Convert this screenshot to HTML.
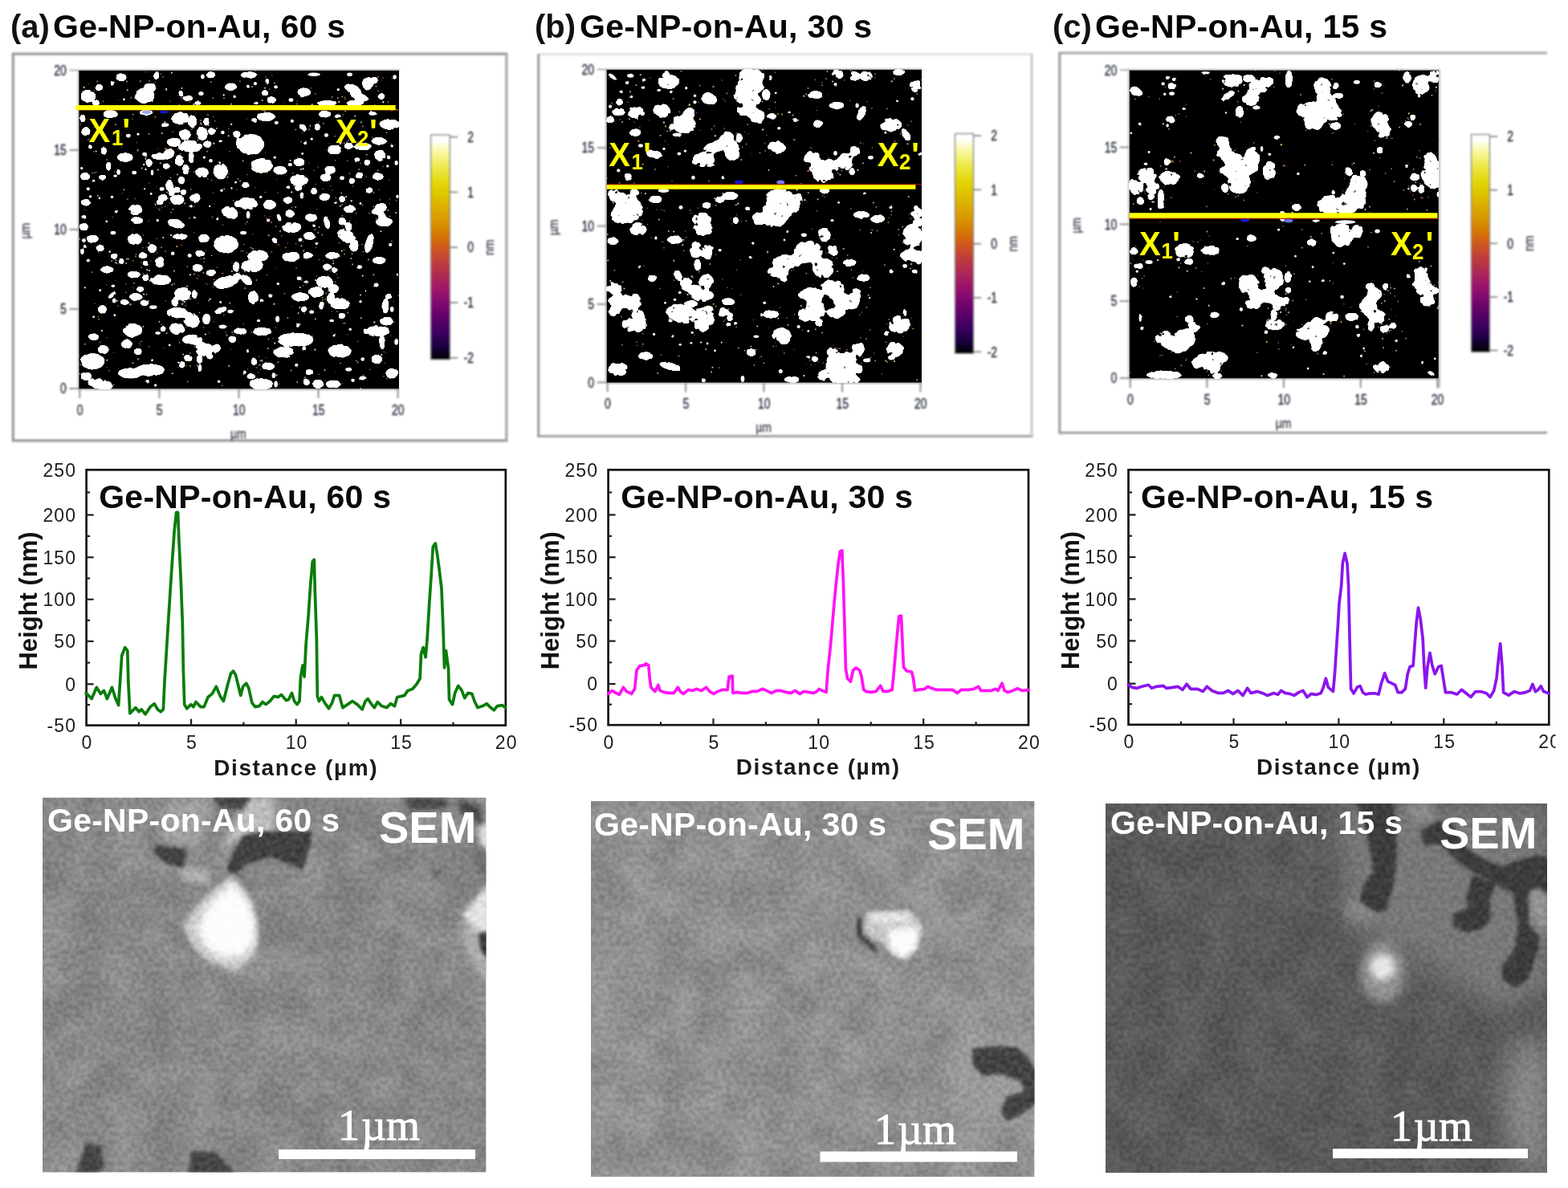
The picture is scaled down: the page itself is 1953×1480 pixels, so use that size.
<!DOCTYPE html>
<html lang="en"><head><meta charset="utf-8"><title>Ge-NP-on-Au</title>
<style>html,body{margin:0;padding:0;background:#fff;}body{width:1953px;height:1480px;overflow:hidden;}svg{display:block;position:absolute;left:0;top:0;}</style></head><body>
<svg width="1953" height="1480" viewBox="0 0 1953 1480">
<defs>
<filter id="soft" color-interpolation-filters="sRGB" filterUnits="userSpaceOnUse" x="0" y="0" width="1953" height="1480"><feGaussianBlur stdDeviation="0.6"/></filter>
<filter id="soft3" color-interpolation-filters="sRGB" filterUnits="userSpaceOnUse" x="0" y="0" width="1953" height="1480"><feGaussianBlur stdDeviation="0.6"/></filter>
<filter id="soft2" color-interpolation-filters="sRGB" filterUnits="userSpaceOnUse" x="0" y="0" width="1953" height="600"><feGaussianBlur stdDeviation="1.05"/></filter>
<linearGradient id="cbar" x1="0" y1="0" x2="0" y2="1"><stop offset="0.0" stop-color="#ffffff"/><stop offset="0.025" stop-color="#ffffff"/><stop offset="0.07" stop-color="#fafaae"/><stop offset="0.14" stop-color="#eeea50"/><stop offset="0.21" stop-color="#e4d80c"/><stop offset="0.25" stop-color="#e0cc00"/><stop offset="0.32" stop-color="#dcb000"/><stop offset="0.4" stop-color="#d89000"/><stop offset="0.46" stop-color="#d47008"/><stop offset="0.5" stop-color="#d05a1c"/><stop offset="0.56" stop-color="#c04038"/><stop offset="0.62" stop-color="#b02c50"/><stop offset="0.68" stop-color="#a01868"/><stop offset="0.75" stop-color="#800870"/><stop offset="0.82" stop-color="#5c0068"/><stop offset="0.88" stop-color="#3c0060"/><stop offset="0.94" stop-color="#1c0040"/><stop offset="1.0" stop-color="#000000"/></linearGradient>
<clipPath id="clip_a"><rect x="98.4" y="87.8" width="398.6" height="396.5"/></clipPath>
<clipPath id="clip_b"><rect x="755.7" y="86.8" width="392.3" height="389.8"/></clipPath>
<clipPath id="clip_c"><rect x="1406.8" y="87.6" width="385.0" height="383.7"/></clipPath>
<clipPath id="clip_pc"><rect x="0" y="0" width="1937.6" height="1480"/></clipPath>
<clipPath id="clip_sa"><rect x="53" y="993.5" width="552.5" height="467.0"/></clipPath>
<clipPath id="clip_sb"><rect x="736" y="998" width="552.5" height="468"/></clipPath>
<clipPath id="clip_sc"><rect x="1377" y="1001" width="550" height="460"/></clipPath>
<filter id="blobm_a" x="-2%" y="-2%" width="104%" height="104%" color-interpolation-filters="sRGB"><feGaussianBlur in="SourceGraphic" stdDeviation="1.2" result="b"/><feTurbulence type="fractalNoise" baseFrequency="0.2" numOctaves="2" seed="4" result="n0"/><feComponentTransfer in="n0" result="n"><feFuncA type="linear" slope="1.8" intercept="-0.4"/></feComponentTransfer><feComposite in="b" in2="n" operator="arithmetic" k1="0.9" k2="0.65" k3="0" k4="0" result="c"/><feColorMatrix in="c" type="matrix" values="0 0 0 0 1  0 0 0 0 1  0 0 0 0 1  0 0 0 9 -4.00" result="t"/><feGaussianBlur in="t" stdDeviation="0.75"/></filter>
<filter id="blobl_a" x="-2%" y="-2%" width="104%" height="104%" color-interpolation-filters="sRGB"><feGaussianBlur in="SourceGraphic" stdDeviation="1.6" result="b"/><feTurbulence type="fractalNoise" baseFrequency="0.18" numOctaves="2" seed="14" result="n0"/><feComponentTransfer in="n0" result="n"><feFuncA type="linear" slope="1.8" intercept="-0.4"/></feComponentTransfer><feComposite in="b" in2="n" operator="arithmetic" k1="1.2" k2="0.55" k3="0" k4="0" result="c"/><feColorMatrix in="c" type="matrix" values="0 0 0 0 1  0 0 0 0 1  0 0 0 0 1  0 0 0 9 -4.00" result="t"/><feGaussianBlur in="t" stdDeviation="0.75"/></filter>
<filter id="blobm_b" x="-2%" y="-2%" width="104%" height="104%" color-interpolation-filters="sRGB"><feGaussianBlur in="SourceGraphic" stdDeviation="1.4" result="b"/><feTurbulence type="fractalNoise" baseFrequency="0.2" numOctaves="2" seed="5" result="n0"/><feComponentTransfer in="n0" result="n"><feFuncA type="linear" slope="1.8" intercept="-0.4"/></feComponentTransfer><feComposite in="b" in2="n" operator="arithmetic" k1="0.9" k2="0.65" k3="0" k4="0" result="c"/><feColorMatrix in="c" type="matrix" values="0 0 0 0 1  0 0 0 0 1  0 0 0 0 1  0 0 0 9 -4.00" result="t"/><feGaussianBlur in="t" stdDeviation="0.75"/></filter>
<filter id="blobl_b" x="-2%" y="-2%" width="104%" height="104%" color-interpolation-filters="sRGB"><feGaussianBlur in="SourceGraphic" stdDeviation="2.8" result="b"/><feTurbulence type="fractalNoise" baseFrequency="0.14" numOctaves="2" seed="15" result="n0"/><feComponentTransfer in="n0" result="n"><feFuncA type="linear" slope="1.8" intercept="-0.4"/></feComponentTransfer><feComposite in="b" in2="n" operator="arithmetic" k1="1.5" k2="0.5" k3="0" k4="0" result="c"/><feColorMatrix in="c" type="matrix" values="0 0 0 0 1  0 0 0 0 1  0 0 0 0 1  0 0 0 9 -4.00" result="t"/><feGaussianBlur in="t" stdDeviation="0.75"/></filter>
<filter id="blobm_c" x="-2%" y="-2%" width="104%" height="104%" color-interpolation-filters="sRGB"><feGaussianBlur in="SourceGraphic" stdDeviation="1.4" result="b"/><feTurbulence type="fractalNoise" baseFrequency="0.2" numOctaves="2" seed="6" result="n0"/><feComponentTransfer in="n0" result="n"><feFuncA type="linear" slope="1.8" intercept="-0.4"/></feComponentTransfer><feComposite in="b" in2="n" operator="arithmetic" k1="0.9" k2="0.65" k3="0" k4="0" result="c"/><feColorMatrix in="c" type="matrix" values="0 0 0 0 1  0 0 0 0 1  0 0 0 0 1  0 0 0 9 -4.00" result="t"/><feGaussianBlur in="t" stdDeviation="0.75"/></filter>
<filter id="blobl_c" x="-2%" y="-2%" width="104%" height="104%" color-interpolation-filters="sRGB"><feGaussianBlur in="SourceGraphic" stdDeviation="2.8" result="b"/><feTurbulence type="fractalNoise" baseFrequency="0.14" numOctaves="2" seed="16" result="n0"/><feComponentTransfer in="n0" result="n"><feFuncA type="linear" slope="1.8" intercept="-0.4"/></feComponentTransfer><feComposite in="b" in2="n" operator="arithmetic" k1="1.5" k2="0.5" k3="0" k4="0" result="c"/><feColorMatrix in="c" type="matrix" values="0 0 0 0 1  0 0 0 0 1  0 0 0 0 1  0 0 0 9 -4.00" result="t"/><feGaussianBlur in="t" stdDeviation="0.75"/></filter>
<filter id="blobs" x="-2%" y="-2%" width="104%" height="104%" color-interpolation-filters="sRGB"><feTurbulence type="fractalNoise" baseFrequency="0.2" numOctaves="1" seed="9" result="n"/><feDisplacementMap in="SourceGraphic" in2="n" scale="2.5" xChannelSelector="R" yChannelSelector="G" result="d"/><feGaussianBlur in="d" stdDeviation="0.7"/></filter><filter id="spk" x="-2%" y="-2%" width="104%" height="104%" color-interpolation-filters="sRGB"><feGaussianBlur stdDeviation="0.6"/></filter>
<filter id="sb1" x="-50%" y="-50%" width="200%" height="200%" color-interpolation-filters="sRGB"><feGaussianBlur stdDeviation="1"/></filter>
<filter id="sb2" x="-50%" y="-50%" width="200%" height="200%" color-interpolation-filters="sRGB"><feGaussianBlur stdDeviation="2"/></filter>
<filter id="sb3" x="-50%" y="-50%" width="200%" height="200%" color-interpolation-filters="sRGB"><feGaussianBlur stdDeviation="3"/></filter>
<filter id="sb4" x="-50%" y="-50%" width="200%" height="200%" color-interpolation-filters="sRGB"><feGaussianBlur stdDeviation="4"/></filter>
<filter id="sb6" x="-50%" y="-50%" width="200%" height="200%" color-interpolation-filters="sRGB"><feGaussianBlur stdDeviation="6"/></filter>
<filter id="sb10" x="-50%" y="-50%" width="200%" height="200%" color-interpolation-filters="sRGB"><feGaussianBlur stdDeviation="10"/></filter>
<filter id="sb16" x="-50%" y="-50%" width="200%" height="200%" color-interpolation-filters="sRGB"><feGaussianBlur stdDeviation="16"/></filter>
<filter id="sb24" x="-50%" y="-50%" width="200%" height="200%" color-interpolation-filters="sRGB"><feGaussianBlur stdDeviation="24"/></filter>
<filter id="grain" x="0" y="0" width="100%" height="100%" color-interpolation-filters="sRGB"><feTurbulence type="fractalNoise" baseFrequency="0.19" numOctaves="2" seed="7" result="t"/><feColorMatrix in="t" type="matrix" values="2.6 0 0 0 -0.8  2.6 0 0 0 -0.8  2.6 0 0 0 -0.8  0 0 0 0 1"/><feGaussianBlur stdDeviation="0.9"/></filter>
<filter id="mottle" x="0" y="0" width="100%" height="100%" color-interpolation-filters="sRGB"><feTurbulence type="fractalNoise" baseFrequency="0.022" numOctaves="2" seed="3" result="t"/><feColorMatrix in="t" type="matrix" values="2.2 0 0 0 -0.6  2.2 0 0 0 -0.6  2.2 0 0 0 -0.6  0 0 0 0 1"/></filter>
</defs>
<rect x="0" y="0" width="1953" height="1480" fill="#fff"/>
<g filter="url(#soft)">
<text x="13" y="47" font-family='"Liberation Sans", Arial, Helvetica, sans-serif' font-weight="bold" font-size="40" fill="#111">(a)</text>
<text x="66" y="47" font-family='"Liberation Sans", Arial, Helvetica, sans-serif' font-weight="bold" font-size="41" letter-spacing="0.25" fill="#050505">Ge-NP-on-Au, 60 s</text>
<text x="666" y="47" font-family='"Liberation Sans", Arial, Helvetica, sans-serif' font-weight="bold" font-size="40" fill="#111">(b)</text>
<text x="722" y="47" font-family='"Liberation Sans", Arial, Helvetica, sans-serif' font-weight="bold" font-size="41" letter-spacing="0.25" fill="#050505">Ge-NP-on-Au, 30 s</text>
<text x="1311" y="47" font-family='"Liberation Sans", Arial, Helvetica, sans-serif' font-weight="bold" font-size="40" fill="#111">(c)</text>
<text x="1364" y="47" font-family='"Liberation Sans", Arial, Helvetica, sans-serif' font-weight="bold" font-size="41" letter-spacing="0.25" fill="#050505">Ge-NP-on-Au, 15 s</text>
<g>
<rect x="107.6" y="585.3" width="522.2" height="318.3" fill="#fff" stroke="#141414" stroke-width="2.7"/>
<line x1="107.6" y1="878.0" x2="112.1" y2="878.0" stroke="#1e1e1e" stroke-width="2.2"/>
<line x1="107.6" y1="852.3" x2="116.6" y2="852.3" stroke="#1e1e1e" stroke-width="2.2"/>
<line x1="107.6" y1="825.6" x2="112.1" y2="825.6" stroke="#1e1e1e" stroke-width="2.2"/>
<line x1="107.6" y1="798.9" x2="116.6" y2="798.9" stroke="#1e1e1e" stroke-width="2.2"/>
<line x1="107.6" y1="772.8" x2="112.1" y2="772.8" stroke="#1e1e1e" stroke-width="2.2"/>
<line x1="107.6" y1="746.7" x2="116.6" y2="746.7" stroke="#1e1e1e" stroke-width="2.2"/>
<line x1="107.6" y1="720.5" x2="112.1" y2="720.5" stroke="#1e1e1e" stroke-width="2.2"/>
<line x1="107.6" y1="694.3" x2="116.6" y2="694.3" stroke="#1e1e1e" stroke-width="2.2"/>
<line x1="107.6" y1="667.9" x2="112.1" y2="667.9" stroke="#1e1e1e" stroke-width="2.2"/>
<line x1="107.6" y1="641.5" x2="116.6" y2="641.5" stroke="#1e1e1e" stroke-width="2.2"/>
<line x1="107.6" y1="613.4" x2="112.1" y2="613.4" stroke="#1e1e1e" stroke-width="2.2"/>
<line x1="172.9" y1="903.6" x2="172.9" y2="899.6" stroke="#1e1e1e" stroke-width="2.2"/>
<line x1="238.1" y1="903.6" x2="238.1" y2="895.6" stroke="#1e1e1e" stroke-width="2.2"/>
<line x1="303.4" y1="903.6" x2="303.4" y2="899.6" stroke="#1e1e1e" stroke-width="2.2"/>
<line x1="368.7" y1="903.6" x2="368.7" y2="895.6" stroke="#1e1e1e" stroke-width="2.2"/>
<line x1="434.0" y1="903.6" x2="434.0" y2="899.6" stroke="#1e1e1e" stroke-width="2.2"/>
<line x1="499.2" y1="903.6" x2="499.2" y2="895.6" stroke="#1e1e1e" stroke-width="2.2"/>
<line x1="564.5" y1="903.6" x2="564.5" y2="899.6" stroke="#1e1e1e" stroke-width="2.2"/>
<text x="95.1" y="911.8" text-anchor="end" font-family='"Liberation Sans", Arial, Helvetica, sans-serif' font-size="23" letter-spacing="1.1" fill="#1c1c1c">-50</text>
<text x="95.1" y="860.5" text-anchor="end" font-family='"Liberation Sans", Arial, Helvetica, sans-serif' font-size="23" letter-spacing="1.1" fill="#1c1c1c">0</text>
<text x="95.1" y="807.1" text-anchor="end" font-family='"Liberation Sans", Arial, Helvetica, sans-serif' font-size="23" letter-spacing="1.1" fill="#1c1c1c">50</text>
<text x="95.1" y="754.9" text-anchor="end" font-family='"Liberation Sans", Arial, Helvetica, sans-serif' font-size="23" letter-spacing="1.1" fill="#1c1c1c">100</text>
<text x="95.1" y="702.5" text-anchor="end" font-family='"Liberation Sans", Arial, Helvetica, sans-serif' font-size="23" letter-spacing="1.1" fill="#1c1c1c">150</text>
<text x="95.1" y="649.7" text-anchor="end" font-family='"Liberation Sans", Arial, Helvetica, sans-serif' font-size="23" letter-spacing="1.1" fill="#1c1c1c">200</text>
<text x="95.1" y="593.5" text-anchor="end" font-family='"Liberation Sans", Arial, Helvetica, sans-serif' font-size="23" letter-spacing="1.1" fill="#1c1c1c">250</text>
<text x="108.5" y="933.1" text-anchor="middle" font-family='"Liberation Sans", Arial, Helvetica, sans-serif' font-size="23" letter-spacing="1.1" fill="#1c1c1c">0</text>
<text x="239.0" y="933.1" text-anchor="middle" font-family='"Liberation Sans", Arial, Helvetica, sans-serif' font-size="23" letter-spacing="1.1" fill="#1c1c1c">5</text>
<text x="369.6" y="933.1" text-anchor="middle" font-family='"Liberation Sans", Arial, Helvetica, sans-serif' font-size="23" letter-spacing="1.1" fill="#1c1c1c">10</text>
<text x="500.1" y="933.1" text-anchor="middle" font-family='"Liberation Sans", Arial, Helvetica, sans-serif' font-size="23" letter-spacing="1.1" fill="#1c1c1c">15</text>
<text x="630.7" y="933.1" text-anchor="middle" font-family='"Liberation Sans", Arial, Helvetica, sans-serif' font-size="23" letter-spacing="1.1" fill="#1c1c1c">20</text>
<text x="368.7" y="965.6" text-anchor="middle" font-family='"Liberation Sans", Arial, Helvetica, sans-serif' font-weight="bold" font-size="28" letter-spacing="1.6" fill="#1a1a1a">Distance (µm)</text>
<text transform="translate(45.6,748.5) rotate(-90)" text-anchor="middle" font-family='"Liberation Sans", Arial, Helvetica, sans-serif' font-weight="bold" font-size="31" fill="#111">Height (nm)</text>
<text x="123.2" y="632.6" font-family='"Liberation Sans", Arial, Helvetica, sans-serif' font-weight="bold" font-size="41" letter-spacing="0.25" fill="#0a0a0a">Ge-NP-on-Au, 60 s</text>
<path d="M107.1,863.4 L114.2,870.5 L120.3,856.3 L125.3,864.4 L129.4,860.4 L133.4,870.5 L139.5,856.3 L143.6,869.5 L147.6,878.6 L149.7,847.2 L151.7,816.8 L155.7,806.6 L158.8,810.7 L159.8,849.2 L161.8,888.7 L168.9,881.6 L173.0,886.7 L176.0,883.7 L181.1,889.7 L187.2,880.6 L192.2,876.6 L196.3,883.7 L200.3,886.7 L203.4,883.7 L205.0,849.2 L207.4,810.7 L209.5,776.2 L212.1,735.7 L214.5,699.2 L217.2,660.7 L219.6,638.4 L221.6,638.4 L223.0,674.9 L225.3,723.5 L227.3,776.2 L228.3,833.0 L229.7,877.6 L232.8,882.7 L237.8,877.6 L240.9,880.6 L243.9,874.5 L250.0,880.6 L254.1,880.6 L259.1,868.5 L264.2,864.4 L269.3,855.3 L274.3,867.4 L278.4,873.5 L283.5,853.3 L287.5,839.1 L290.6,836.0 L293.6,841.1 L296.6,853.3 L299.7,866.4 L302.7,855.3 L306.8,851.2 L309.8,857.3 L313.9,875.6 L317.9,880.6 L323.0,879.6 L327.0,874.5 L331.1,877.6 L336.2,873.5 L341.2,867.4 L346.3,868.5 L350.4,865.4 L356.4,872.5 L359.5,871.5 L363.5,863.4 L366.6,873.5 L370.0,877.6 L373.0,873.5 L374.5,843.1 L377.1,828.9 L379.1,843.1 L381.1,802.6 L384.2,766.1 L386.6,729.6 L389.3,699.2 L391.3,697.2 L392.3,735.7 L394.3,794.5 L395.3,867.4 L397.4,873.5 L400.4,868.5 L404.5,875.6 L409.5,882.7 L413.6,875.6 L416.6,866.4 L422.7,866.4 L426.8,881.6 L432.8,877.6 L438.9,873.5 L445.0,877.6 L451.1,883.7 L455.1,873.5 L458.2,870.5 L462.2,876.6 L466.3,881.6 L470.3,874.5 L475.4,879.6 L481.5,881.6 L486.6,876.6 L491.6,879.6 L494.7,868.5 L499.7,867.4 L503.8,866.4 L507.8,860.4 L513.9,858.3 L519.0,852.2 L523.1,845.2 L524.5,814.7 L527.1,806.6 L530.1,818.8 L532.2,794.5 L534.6,753.9 L537.2,715.4 L539.3,681.0 L542.3,676.9 L544.7,691.1 L547.4,711.4 L550.0,733.7 L552.0,784.3 L553.5,832.0 L555.5,810.7 L558.5,833.0 L559.5,871.5 L563.6,877.6 L566.6,863.4 L570.7,854.3 L574.7,859.3 L578.8,869.5 L582.9,863.4 L587.9,864.4 L591.0,873.5 L595.0,881.6 L601.1,879.6 L606.2,876.6 L610.2,880.6 L615.3,884.7 L619.3,879.6 L625.4,878.6 L629.5,881.6" fill="none" stroke="#0a7c0a" stroke-width="3.7" stroke-linejoin="round" stroke-linecap="round"/>
</g>
<g>
<rect x="757.6" y="585.3" width="523.4" height="317.9" fill="#fff" stroke="#141414" stroke-width="2.7"/>
<line x1="757.6" y1="877.6" x2="762.1" y2="877.6" stroke="#1e1e1e" stroke-width="2.2"/>
<line x1="757.6" y1="852.0" x2="766.6" y2="852.0" stroke="#1e1e1e" stroke-width="2.2"/>
<line x1="757.6" y1="825.3" x2="762.1" y2="825.3" stroke="#1e1e1e" stroke-width="2.2"/>
<line x1="757.6" y1="798.6" x2="766.6" y2="798.6" stroke="#1e1e1e" stroke-width="2.2"/>
<line x1="757.6" y1="772.6" x2="762.1" y2="772.6" stroke="#1e1e1e" stroke-width="2.2"/>
<line x1="757.6" y1="746.5" x2="766.6" y2="746.5" stroke="#1e1e1e" stroke-width="2.2"/>
<line x1="757.6" y1="720.3" x2="762.1" y2="720.3" stroke="#1e1e1e" stroke-width="2.2"/>
<line x1="757.6" y1="694.2" x2="766.6" y2="694.2" stroke="#1e1e1e" stroke-width="2.2"/>
<line x1="757.6" y1="667.8" x2="762.1" y2="667.8" stroke="#1e1e1e" stroke-width="2.2"/>
<line x1="757.6" y1="641.4" x2="766.6" y2="641.4" stroke="#1e1e1e" stroke-width="2.2"/>
<line x1="757.6" y1="613.4" x2="762.1" y2="613.4" stroke="#1e1e1e" stroke-width="2.2"/>
<line x1="823.0" y1="903.2" x2="823.0" y2="899.2" stroke="#1e1e1e" stroke-width="2.2"/>
<line x1="888.5" y1="903.2" x2="888.5" y2="895.2" stroke="#1e1e1e" stroke-width="2.2"/>
<line x1="953.9" y1="903.2" x2="953.9" y2="899.2" stroke="#1e1e1e" stroke-width="2.2"/>
<line x1="1019.3" y1="903.2" x2="1019.3" y2="895.2" stroke="#1e1e1e" stroke-width="2.2"/>
<line x1="1084.7" y1="903.2" x2="1084.7" y2="899.2" stroke="#1e1e1e" stroke-width="2.2"/>
<line x1="1150.2" y1="903.2" x2="1150.2" y2="895.2" stroke="#1e1e1e" stroke-width="2.2"/>
<line x1="1215.6" y1="903.2" x2="1215.6" y2="899.2" stroke="#1e1e1e" stroke-width="2.2"/>
<text x="745.1" y="911.4" text-anchor="end" font-family='"Liberation Sans", Arial, Helvetica, sans-serif' font-size="23" letter-spacing="1.1" fill="#1c1c1c">-50</text>
<text x="745.1" y="860.2" text-anchor="end" font-family='"Liberation Sans", Arial, Helvetica, sans-serif' font-size="23" letter-spacing="1.1" fill="#1c1c1c">0</text>
<text x="745.1" y="806.8" text-anchor="end" font-family='"Liberation Sans", Arial, Helvetica, sans-serif' font-size="23" letter-spacing="1.1" fill="#1c1c1c">50</text>
<text x="745.1" y="754.7" text-anchor="end" font-family='"Liberation Sans", Arial, Helvetica, sans-serif' font-size="23" letter-spacing="1.1" fill="#1c1c1c">100</text>
<text x="745.1" y="702.4" text-anchor="end" font-family='"Liberation Sans", Arial, Helvetica, sans-serif' font-size="23" letter-spacing="1.1" fill="#1c1c1c">150</text>
<text x="745.1" y="649.6" text-anchor="end" font-family='"Liberation Sans", Arial, Helvetica, sans-serif' font-size="23" letter-spacing="1.1" fill="#1c1c1c">200</text>
<text x="745.1" y="593.5" text-anchor="end" font-family='"Liberation Sans", Arial, Helvetica, sans-serif' font-size="23" letter-spacing="1.1" fill="#1c1c1c">250</text>
<text x="758.5" y="932.7" text-anchor="middle" font-family='"Liberation Sans", Arial, Helvetica, sans-serif' font-size="23" letter-spacing="1.1" fill="#1c1c1c">0</text>
<text x="889.4" y="932.7" text-anchor="middle" font-family='"Liberation Sans", Arial, Helvetica, sans-serif' font-size="23" letter-spacing="1.1" fill="#1c1c1c">5</text>
<text x="1020.2" y="932.7" text-anchor="middle" font-family='"Liberation Sans", Arial, Helvetica, sans-serif' font-size="23" letter-spacing="1.1" fill="#1c1c1c">10</text>
<text x="1151.1" y="932.7" text-anchor="middle" font-family='"Liberation Sans", Arial, Helvetica, sans-serif' font-size="23" letter-spacing="1.1" fill="#1c1c1c">15</text>
<text x="1281.9" y="932.7" text-anchor="middle" font-family='"Liberation Sans", Arial, Helvetica, sans-serif' font-size="23" letter-spacing="1.1" fill="#1c1c1c">20</text>
<text x="1019.3" y="965.2" text-anchor="middle" font-family='"Liberation Sans", Arial, Helvetica, sans-serif' font-weight="bold" font-size="28" letter-spacing="1.6" fill="#1a1a1a">Distance (µm)</text>
<text transform="translate(695.6,748.2) rotate(-90)" text-anchor="middle" font-family='"Liberation Sans", Arial, Helvetica, sans-serif' font-weight="bold" font-size="31" fill="#111">Height (nm)</text>
<text x="773.2" y="632.6" font-family='"Liberation Sans", Arial, Helvetica, sans-serif' font-weight="bold" font-size="41" letter-spacing="0.25" fill="#0a0a0a">Ge-NP-on-Au, 30 s</text>
<path d="M757.7,864.4 L762.2,860.4 L767.2,863.4 L771.3,865.4 L776.4,856.3 L780.4,861.4 L786.5,864.4 L790.5,858.3 L793.0,835.0 L796.6,829.9 L801.7,828.9 L804.7,826.9 L807.8,828.9 L809.2,845.2 L810.8,856.3 L815.9,861.4 L819.9,853.3 L822.0,860.4 L827.0,862.4 L833.1,863.4 L839.2,863.4 L844.3,856.3 L847.3,861.4 L851.4,864.4 L857.4,859.3 L862.5,860.4 L867.6,858.3 L873.7,860.4 L879.7,856.3 L883.8,861.4 L888.9,864.4 L893.9,861.4 L900.0,859.3 L906.1,859.3 L908.1,843.1 L912.2,842.1 L912.8,863.4 L918.3,862.4 L924.3,863.4 L930.4,863.4 L936.5,861.4 L942.6,861.4 L949.7,858.3 L954.7,860.4 L960.8,863.4 L966.9,860.4 L973.0,860.4 L979.1,862.4 L985.2,863.4 L990.2,860.4 L996.3,864.4 L1001.4,861.4 L1007.4,862.4 L1013.5,863.4 L1017.6,861.4 L1020.0,858.3 L1024.1,860.4 L1029.1,862.4 L1031.1,835.0 L1033.8,810.7 L1036.2,784.3 L1038.6,756.0 L1041.3,727.6 L1043.9,703.2 L1046.4,687.0 L1048.8,686.0 L1050.4,725.5 L1052.0,780.3 L1053.4,833.0 L1055.5,845.2 L1059.5,849.2 L1062.6,835.0 L1066.2,832.0 L1070.7,835.0 L1073.1,843.1 L1075.7,859.3 L1078.8,861.4 L1084.9,862.4 L1091.0,861.4 L1096.6,854.3 L1100.1,861.4 L1105.1,861.4 L1111.2,859.3 L1113.2,839.1 L1115.3,814.7 L1117.7,788.4 L1119.7,768.1 L1122.4,767.1 L1123.8,794.5 L1125.4,831.0 L1129.5,836.0 L1135.5,837.0 L1137.6,845.2 L1139.6,860.4 L1143.7,859.3 L1151.8,858.3 L1155.8,855.3 L1159.9,857.3 L1166.0,859.3 L1174.1,859.3 L1186.2,859.3 L1192.3,863.4 L1197.4,859.3 L1206.5,859.3 L1212.6,858.3 L1218.7,855.3 L1221.7,860.4 L1228.8,860.4 L1234.9,860.4 L1239.9,858.3 L1243.0,860.4 L1248.1,851.2 L1251.1,860.4 L1255.2,862.4 L1261.2,860.4 L1267.3,857.7 L1273.4,860.4 L1281.1,859.7" fill="none" stroke="#ff12f6" stroke-width="3.7" stroke-linejoin="round" stroke-linecap="round"/>
</g>
<g clip-path="url(#clip_pc)">
<rect x="1405.5" y="585.3" width="523.8" height="317.5" fill="#fff" stroke="#141414" stroke-width="2.7"/>
<line x1="1405.5" y1="877.2" x2="1410.0" y2="877.2" stroke="#1e1e1e" stroke-width="2.2"/>
<line x1="1405.5" y1="851.6" x2="1414.5" y2="851.6" stroke="#1e1e1e" stroke-width="2.2"/>
<line x1="1405.5" y1="825.0" x2="1410.0" y2="825.0" stroke="#1e1e1e" stroke-width="2.2"/>
<line x1="1405.5" y1="798.4" x2="1414.5" y2="798.4" stroke="#1e1e1e" stroke-width="2.2"/>
<line x1="1405.5" y1="772.3" x2="1410.0" y2="772.3" stroke="#1e1e1e" stroke-width="2.2"/>
<line x1="1405.5" y1="746.3" x2="1414.5" y2="746.3" stroke="#1e1e1e" stroke-width="2.2"/>
<line x1="1405.5" y1="720.2" x2="1410.0" y2="720.2" stroke="#1e1e1e" stroke-width="2.2"/>
<line x1="1405.5" y1="694.0" x2="1414.5" y2="694.0" stroke="#1e1e1e" stroke-width="2.2"/>
<line x1="1405.5" y1="667.7" x2="1410.0" y2="667.7" stroke="#1e1e1e" stroke-width="2.2"/>
<line x1="1405.5" y1="641.4" x2="1414.5" y2="641.4" stroke="#1e1e1e" stroke-width="2.2"/>
<line x1="1405.5" y1="613.3" x2="1410.0" y2="613.3" stroke="#1e1e1e" stroke-width="2.2"/>
<line x1="1471.0" y1="902.8" x2="1471.0" y2="898.8" stroke="#1e1e1e" stroke-width="2.2"/>
<line x1="1536.5" y1="902.8" x2="1536.5" y2="894.8" stroke="#1e1e1e" stroke-width="2.2"/>
<line x1="1601.9" y1="902.8" x2="1601.9" y2="898.8" stroke="#1e1e1e" stroke-width="2.2"/>
<line x1="1667.4" y1="902.8" x2="1667.4" y2="894.8" stroke="#1e1e1e" stroke-width="2.2"/>
<line x1="1732.9" y1="902.8" x2="1732.9" y2="898.8" stroke="#1e1e1e" stroke-width="2.2"/>
<line x1="1798.3" y1="902.8" x2="1798.3" y2="894.8" stroke="#1e1e1e" stroke-width="2.2"/>
<line x1="1863.8" y1="902.8" x2="1863.8" y2="898.8" stroke="#1e1e1e" stroke-width="2.2"/>
<text x="1393.0" y="911.0" text-anchor="end" font-family='"Liberation Sans", Arial, Helvetica, sans-serif' font-size="23" letter-spacing="1.1" fill="#1c1c1c">-50</text>
<text x="1393.0" y="859.8" text-anchor="end" font-family='"Liberation Sans", Arial, Helvetica, sans-serif' font-size="23" letter-spacing="1.1" fill="#1c1c1c">0</text>
<text x="1393.0" y="806.6" text-anchor="end" font-family='"Liberation Sans", Arial, Helvetica, sans-serif' font-size="23" letter-spacing="1.1" fill="#1c1c1c">50</text>
<text x="1393.0" y="754.5" text-anchor="end" font-family='"Liberation Sans", Arial, Helvetica, sans-serif' font-size="23" letter-spacing="1.1" fill="#1c1c1c">100</text>
<text x="1393.0" y="702.2" text-anchor="end" font-family='"Liberation Sans", Arial, Helvetica, sans-serif' font-size="23" letter-spacing="1.1" fill="#1c1c1c">150</text>
<text x="1393.0" y="649.6" text-anchor="end" font-family='"Liberation Sans", Arial, Helvetica, sans-serif' font-size="23" letter-spacing="1.1" fill="#1c1c1c">200</text>
<text x="1393.0" y="593.5" text-anchor="end" font-family='"Liberation Sans", Arial, Helvetica, sans-serif' font-size="23" letter-spacing="1.1" fill="#1c1c1c">250</text>
<text x="1406.4" y="932.3" text-anchor="middle" font-family='"Liberation Sans", Arial, Helvetica, sans-serif' font-size="23" letter-spacing="1.1" fill="#1c1c1c">0</text>
<text x="1537.4" y="932.3" text-anchor="middle" font-family='"Liberation Sans", Arial, Helvetica, sans-serif' font-size="23" letter-spacing="1.1" fill="#1c1c1c">5</text>
<text x="1668.3" y="932.3" text-anchor="middle" font-family='"Liberation Sans", Arial, Helvetica, sans-serif' font-size="23" letter-spacing="1.1" fill="#1c1c1c">10</text>
<text x="1799.2" y="932.3" text-anchor="middle" font-family='"Liberation Sans", Arial, Helvetica, sans-serif' font-size="23" letter-spacing="1.1" fill="#1c1c1c">15</text>
<text x="1930.2" y="932.3" text-anchor="middle" font-family='"Liberation Sans", Arial, Helvetica, sans-serif' font-size="23" letter-spacing="1.1" fill="#1c1c1c">20</text>
<text x="1667.4" y="964.8" text-anchor="middle" font-family='"Liberation Sans", Arial, Helvetica, sans-serif' font-weight="bold" font-size="28" letter-spacing="1.6" fill="#1a1a1a">Distance (µm)</text>
<text transform="translate(1343.5,748.0) rotate(-90)" text-anchor="middle" font-family='"Liberation Sans", Arial, Helvetica, sans-serif' font-weight="bold" font-size="31" fill="#111">Height (nm)</text>
<text x="1421.0" y="632.6" font-family='"Liberation Sans", Arial, Helvetica, sans-serif' font-weight="bold" font-size="41" letter-spacing="0.25" fill="#0a0a0a">Ge-NP-on-Au, 15 s</text>
<path d="M1405.7,853.3 L1410.1,856.3 L1416.2,857.3 L1422.3,855.3 L1430.4,853.3 L1434.5,857.3 L1440.5,855.3 L1448.7,854.3 L1452.7,857.3 L1460.8,856.3 L1466.9,855.3 L1473.0,859.3 L1478.0,852.2 L1483.1,858.3 L1491.2,858.3 L1498.3,861.4 L1503.4,855.3 L1509.5,860.4 L1517.6,863.4 L1523.7,863.4 L1529.7,860.4 L1535.8,864.4 L1541.9,860.4 L1548.0,866.4 L1553.7,857.3 L1558.1,863.4 L1566.2,861.4 L1572.3,863.4 L1578.4,866.4 L1586.5,863.4 L1591.6,865.4 L1595.6,860.4 L1600.7,863.4 L1606.8,864.4 L1611.8,866.4 L1617.9,862.4 L1623.0,860.4 L1628.1,868.5 L1633.1,864.4 L1639.2,865.4 L1645.3,863.4 L1648.3,856.3 L1651.4,845.2 L1654.4,856.3 L1660.5,861.4 L1662.5,839.1 L1664.5,808.7 L1666.6,776.2 L1668.0,751.9 L1670.7,729.5 L1672.3,701.9 L1675.1,689.3 L1678.0,701.9 L1679.6,729.5 L1681.0,793.8 L1682.6,858.1 L1686.1,863.8 L1690.7,855.8 L1694.1,854.7 L1697.6,862.7 L1701.0,865.0 L1706.8,863.8 L1712.5,863.8 L1717.1,865.0 L1720.5,851.2 L1724.7,838.6 L1728.6,848.9 L1733.2,851.2 L1737.8,853.5 L1741.2,862.7 L1745.8,862.7 L1750.4,858.1 L1753.2,839.7 L1756.1,830.5 L1760.1,829.4 L1761.9,805.3 L1764.2,775.4 L1766.5,757.0 L1769.2,770.8 L1772.2,796.1 L1773.8,830.5 L1775.7,857.0 L1778.0,830.5 L1781.0,813.3 L1783.7,828.2 L1787.2,839.7 L1791.8,830.5 L1795.2,829.4 L1797.5,844.3 L1800.5,862.7 L1807.8,862.7 L1814.7,865.0 L1820.5,859.3 L1826.2,863.8 L1832.0,868.4 L1837.7,861.6 L1844.6,861.6 L1851.5,863.8 L1856.1,868.4 L1860.7,860.4 L1864.1,844.3 L1866.4,821.3 L1868.7,801.8 L1871.0,830.5 L1872.6,862.7 L1879.1,866.1 L1885.9,861.6 L1892.8,863.8 L1899.7,862.7 L1905.5,860.4 L1908.9,852.4 L1912.4,861.6 L1915.8,859.3 L1919.3,854.7 L1922.7,861.6 L1929.1,863.8" fill="none" stroke="#8c14ee" stroke-width="3.7" stroke-linejoin="round" stroke-linecap="round"/>
</g>
</g>
<g filter="url(#soft2)">
<g stroke-width="3.2" fill="none">
<line x1="14.700000000000001" y1="67.2" x2="632.4" y2="67.2" stroke="#9a9a9a"/>
<line x1="14.700000000000001" y1="548.9" x2="632.4" y2="548.9" stroke="#9a9a9a"/>
<line x1="16.3" y1="67.2" x2="16.3" y2="548.9" stroke="#9a9a9a"/>
<line x1="630.8" y1="67.2" x2="630.8" y2="548.9" stroke="#a8a8a8"/>
</g>
<g>
<line x1="97.9" y1="484.9" x2="497.0" y2="484.9" stroke="#9a9a9a" stroke-width="1.8"/>
<line x1="97.8" y1="87.3" x2="97.8" y2="484.8" stroke="#9a9a9a" stroke-width="1.6"/>
<line x1="86.4" y1="87.4" x2="498.0" y2="87.4" stroke="#9a9a9a" stroke-width="1.5"/>
<line x1="99.3" y1="484.3" x2="99.3" y2="496.1" stroke="#7c7c7c" stroke-width="1.7"/>
<line x1="86.4" y1="484.1" x2="98.4" y2="484.1" stroke="#7c7c7c" stroke-width="1.7"/>
<line x1="198.4" y1="484.3" x2="198.4" y2="496.1" stroke="#7c7c7c" stroke-width="1.7"/>
<line x1="86.4" y1="385.0" x2="98.4" y2="385.0" stroke="#7c7c7c" stroke-width="1.7"/>
<line x1="297.4" y1="484.3" x2="297.4" y2="496.1" stroke="#7c7c7c" stroke-width="1.7"/>
<line x1="86.4" y1="286.0" x2="98.4" y2="286.0" stroke="#7c7c7c" stroke-width="1.7"/>
<line x1="396.5" y1="484.3" x2="396.5" y2="496.1" stroke="#7c7c7c" stroke-width="1.7"/>
<line x1="86.4" y1="186.9" x2="98.4" y2="186.9" stroke="#7c7c7c" stroke-width="1.7"/>
<line x1="495.5" y1="484.3" x2="495.5" y2="496.1" stroke="#7c7c7c" stroke-width="1.7"/>
</g>
<text transform="translate(99.6,516.7) scale(0.8,1)" text-anchor="middle" font-family='"Liberation Sans", Arial, Helvetica, sans-serif' font-size="17.5" fill="#232a3a" stroke="#232a3a" stroke-width="0.35">0</text>
<text transform="translate(82.8,490.3) scale(0.8,1)" text-anchor="end" font-family='"Liberation Sans", Arial, Helvetica, sans-serif' font-size="17.5" fill="#232a3a" stroke="#232a3a" stroke-width="0.35">0</text>
<text transform="translate(198.7,516.7) scale(0.8,1)" text-anchor="middle" font-family='"Liberation Sans", Arial, Helvetica, sans-serif' font-size="17.5" fill="#232a3a" stroke="#232a3a" stroke-width="0.35">5</text>
<text transform="translate(82.8,391.2) scale(0.8,1)" text-anchor="end" font-family='"Liberation Sans", Arial, Helvetica, sans-serif' font-size="17.5" fill="#232a3a" stroke="#232a3a" stroke-width="0.35">5</text>
<text transform="translate(297.7,516.7) scale(0.8,1)" text-anchor="middle" font-family='"Liberation Sans", Arial, Helvetica, sans-serif' font-size="17.5" fill="#232a3a" stroke="#232a3a" stroke-width="0.35">10</text>
<text transform="translate(82.8,292.2) scale(0.8,1)" text-anchor="end" font-family='"Liberation Sans", Arial, Helvetica, sans-serif' font-size="17.5" fill="#232a3a" stroke="#232a3a" stroke-width="0.35">10</text>
<text transform="translate(396.8,516.7) scale(0.8,1)" text-anchor="middle" font-family='"Liberation Sans", Arial, Helvetica, sans-serif' font-size="17.5" fill="#232a3a" stroke="#232a3a" stroke-width="0.35">15</text>
<text transform="translate(82.8,193.1) scale(0.8,1)" text-anchor="end" font-family='"Liberation Sans", Arial, Helvetica, sans-serif' font-size="17.5" fill="#232a3a" stroke="#232a3a" stroke-width="0.35">15</text>
<text transform="translate(495.8,516.7) scale(0.8,1)" text-anchor="middle" font-family='"Liberation Sans", Arial, Helvetica, sans-serif' font-size="17.5" fill="#232a3a" stroke="#232a3a" stroke-width="0.35">20</text>
<text transform="translate(82.8,94.0) scale(0.8,1)" text-anchor="end" font-family='"Liberation Sans", Arial, Helvetica, sans-serif' font-size="17.5" fill="#232a3a" stroke="#232a3a" stroke-width="0.35">20</text>
<text transform="translate(296.9,545.5) scale(0.85,1)" text-anchor="middle" font-family='"Liberation Sans", Arial, Helvetica, sans-serif' font-size="16.5" fill="#3c424e" stroke="#3c424e" stroke-width="0.35">µm</text>
<text transform="translate(37.4,287.6) rotate(-90) scale(0.85,1)" text-anchor="middle" font-family='"Liberation Sans", Arial, Helvetica, sans-serif' font-size="16.5" fill="#3c424e" stroke="#3c424e" stroke-width="0.35">µm</text>
<rect x="536.6" y="168.0" width="23.8" height="279.8" fill="url(#cbar)" stroke="#8c8c8c" stroke-width="1.4"/>
<line x1="560.4" y1="170.6" x2="570.2" y2="170.6" stroke="#7c7c7c" stroke-width="1.6"/>
<text transform="translate(590.0,176.8) scale(0.8,1)" text-anchor="end" font-family='"Liberation Sans", Arial, Helvetica, sans-serif' font-size="17.5" fill="#232a3a" stroke="#232a3a" stroke-width="0.35">2</text>
<line x1="560.4" y1="239.4" x2="570.2" y2="239.4" stroke="#7c7c7c" stroke-width="1.6"/>
<text transform="translate(590.0,245.6) scale(0.8,1)" text-anchor="end" font-family='"Liberation Sans", Arial, Helvetica, sans-serif' font-size="17.5" fill="#232a3a" stroke="#232a3a" stroke-width="0.35">1</text>
<line x1="560.4" y1="308.2" x2="570.2" y2="308.2" stroke="#7c7c7c" stroke-width="1.6"/>
<text transform="translate(590.0,314.4) scale(0.8,1)" text-anchor="end" font-family='"Liberation Sans", Arial, Helvetica, sans-serif' font-size="17.5" fill="#232a3a" stroke="#232a3a" stroke-width="0.35">0</text>
<line x1="560.4" y1="377.0" x2="570.2" y2="377.0" stroke="#7c7c7c" stroke-width="1.6"/>
<text transform="translate(590.0,383.2) scale(0.8,1)" text-anchor="end" font-family='"Liberation Sans", Arial, Helvetica, sans-serif' font-size="17.5" fill="#232a3a" stroke="#232a3a" stroke-width="0.35">-1</text>
<line x1="560.4" y1="445.8" x2="570.2" y2="445.8" stroke="#7c7c7c" stroke-width="1.6"/>
<text transform="translate(590.0,452.0) scale(0.8,1)" text-anchor="end" font-family='"Liberation Sans", Arial, Helvetica, sans-serif' font-size="17.5" fill="#232a3a" stroke="#232a3a" stroke-width="0.35">-2</text>
<text transform="translate(614.8,308.2) rotate(-90) scale(0.85,1)" text-anchor="middle" font-family='"Liberation Sans", Arial, Helvetica, sans-serif' font-size="16.5" fill="#3c424e" stroke="#3c424e" stroke-width="0.35">nm</text>
<g stroke-width="3.2" fill="none">
<line x1="669.1" y1="67.6" x2="1286.6" y2="67.6" stroke="#e2e2e2"/>
<line x1="669.1" y1="543.3" x2="1286.6" y2="543.3" stroke="#a6a6a6"/>
<line x1="670.7" y1="67.6" x2="670.7" y2="543.3" stroke="#a0a0a0"/>
<line x1="1285.0" y1="67.6" x2="1285.0" y2="543.3" stroke="#cccccc"/>
</g>
<g>
<line x1="755.2" y1="477.2" x2="1148.0" y2="477.2" stroke="#9a9a9a" stroke-width="1.8"/>
<line x1="755.1" y1="86.3" x2="755.1" y2="477.1" stroke="#9a9a9a" stroke-width="1.6"/>
<line x1="743.7" y1="86.4" x2="1149.0" y2="86.4" stroke="#9a9a9a" stroke-width="1.5"/>
<line x1="756.6" y1="476.6" x2="756.6" y2="488.4" stroke="#7c7c7c" stroke-width="1.7"/>
<line x1="743.7" y1="476.4" x2="755.7" y2="476.4" stroke="#7c7c7c" stroke-width="1.7"/>
<line x1="854.1" y1="476.6" x2="854.1" y2="488.4" stroke="#7c7c7c" stroke-width="1.7"/>
<line x1="743.7" y1="379.0" x2="755.7" y2="379.0" stroke="#7c7c7c" stroke-width="1.7"/>
<line x1="951.5" y1="476.6" x2="951.5" y2="488.4" stroke="#7c7c7c" stroke-width="1.7"/>
<line x1="743.7" y1="281.6" x2="755.7" y2="281.6" stroke="#7c7c7c" stroke-width="1.7"/>
<line x1="1049.0" y1="476.6" x2="1049.0" y2="488.4" stroke="#7c7c7c" stroke-width="1.7"/>
<line x1="743.7" y1="184.2" x2="755.7" y2="184.2" stroke="#7c7c7c" stroke-width="1.7"/>
<line x1="1146.5" y1="476.6" x2="1146.5" y2="488.4" stroke="#7c7c7c" stroke-width="1.7"/>
</g>
<text transform="translate(756.9,509.0) scale(0.8,1)" text-anchor="middle" font-family='"Liberation Sans", Arial, Helvetica, sans-serif' font-size="17.5" fill="#232a3a" stroke="#232a3a" stroke-width="0.35">0</text>
<text transform="translate(740.1,482.6) scale(0.8,1)" text-anchor="end" font-family='"Liberation Sans", Arial, Helvetica, sans-serif' font-size="17.5" fill="#232a3a" stroke="#232a3a" stroke-width="0.35">0</text>
<text transform="translate(854.4,509.0) scale(0.8,1)" text-anchor="middle" font-family='"Liberation Sans", Arial, Helvetica, sans-serif' font-size="17.5" fill="#232a3a" stroke="#232a3a" stroke-width="0.35">5</text>
<text transform="translate(740.1,385.2) scale(0.8,1)" text-anchor="end" font-family='"Liberation Sans", Arial, Helvetica, sans-serif' font-size="17.5" fill="#232a3a" stroke="#232a3a" stroke-width="0.35">5</text>
<text transform="translate(951.8,509.0) scale(0.8,1)" text-anchor="middle" font-family='"Liberation Sans", Arial, Helvetica, sans-serif' font-size="17.5" fill="#232a3a" stroke="#232a3a" stroke-width="0.35">10</text>
<text transform="translate(740.1,287.8) scale(0.8,1)" text-anchor="end" font-family='"Liberation Sans", Arial, Helvetica, sans-serif' font-size="17.5" fill="#232a3a" stroke="#232a3a" stroke-width="0.35">10</text>
<text transform="translate(1049.3,509.0) scale(0.8,1)" text-anchor="middle" font-family='"Liberation Sans", Arial, Helvetica, sans-serif' font-size="17.5" fill="#232a3a" stroke="#232a3a" stroke-width="0.35">15</text>
<text transform="translate(740.1,190.4) scale(0.8,1)" text-anchor="end" font-family='"Liberation Sans", Arial, Helvetica, sans-serif' font-size="17.5" fill="#232a3a" stroke="#232a3a" stroke-width="0.35">15</text>
<text transform="translate(1146.8,509.0) scale(0.8,1)" text-anchor="middle" font-family='"Liberation Sans", Arial, Helvetica, sans-serif' font-size="17.5" fill="#232a3a" stroke="#232a3a" stroke-width="0.35">20</text>
<text transform="translate(740.1,93.0) scale(0.8,1)" text-anchor="end" font-family='"Liberation Sans", Arial, Helvetica, sans-serif' font-size="17.5" fill="#232a3a" stroke="#232a3a" stroke-width="0.35">20</text>
<text transform="translate(951.1,537.8) scale(0.85,1)" text-anchor="middle" font-family='"Liberation Sans", Arial, Helvetica, sans-serif' font-size="16.5" fill="#3c424e" stroke="#3c424e" stroke-width="0.35">µm</text>
<text transform="translate(694.7,283.2) rotate(-90) scale(0.85,1)" text-anchor="middle" font-family='"Liberation Sans", Arial, Helvetica, sans-serif' font-size="16.5" fill="#3c424e" stroke="#3c424e" stroke-width="0.35">µm</text>
<rect x="1189.5" y="166.5" width="23.0" height="273.8" fill="url(#cbar)" stroke="#8c8c8c" stroke-width="1.4"/>
<line x1="1212.5" y1="169.1" x2="1222.3" y2="169.1" stroke="#7c7c7c" stroke-width="1.6"/>
<text transform="translate(1242.1,175.3) scale(0.8,1)" text-anchor="end" font-family='"Liberation Sans", Arial, Helvetica, sans-serif' font-size="17.5" fill="#232a3a" stroke="#232a3a" stroke-width="0.35">2</text>
<line x1="1212.5" y1="236.4" x2="1222.3" y2="236.4" stroke="#7c7c7c" stroke-width="1.6"/>
<text transform="translate(1242.1,242.6) scale(0.8,1)" text-anchor="end" font-family='"Liberation Sans", Arial, Helvetica, sans-serif' font-size="17.5" fill="#232a3a" stroke="#232a3a" stroke-width="0.35">1</text>
<line x1="1212.5" y1="303.7" x2="1222.3" y2="303.7" stroke="#7c7c7c" stroke-width="1.6"/>
<text transform="translate(1242.1,309.9) scale(0.8,1)" text-anchor="end" font-family='"Liberation Sans", Arial, Helvetica, sans-serif' font-size="17.5" fill="#232a3a" stroke="#232a3a" stroke-width="0.35">0</text>
<line x1="1212.5" y1="371.0" x2="1222.3" y2="371.0" stroke="#7c7c7c" stroke-width="1.6"/>
<text transform="translate(1242.1,377.2) scale(0.8,1)" text-anchor="end" font-family='"Liberation Sans", Arial, Helvetica, sans-serif' font-size="17.5" fill="#232a3a" stroke="#232a3a" stroke-width="0.35">-1</text>
<line x1="1212.5" y1="438.3" x2="1222.3" y2="438.3" stroke="#7c7c7c" stroke-width="1.6"/>
<text transform="translate(1242.1,444.5) scale(0.8,1)" text-anchor="end" font-family='"Liberation Sans", Arial, Helvetica, sans-serif' font-size="17.5" fill="#232a3a" stroke="#232a3a" stroke-width="0.35">-2</text>
<text transform="translate(1266.9,303.7) rotate(-90) scale(0.85,1)" text-anchor="middle" font-family='"Liberation Sans", Arial, Helvetica, sans-serif' font-size="16.5" fill="#3c424e" stroke="#3c424e" stroke-width="0.35">nm</text>
<g stroke-width="3.2" fill="none">
<line x1="1318.2" y1="66.0" x2="1927.0" y2="66.0" stroke="#a8a8a8"/>
<line x1="1318.2" y1="539.2" x2="1927.0" y2="539.2" stroke="#a6a6a6"/>
<line x1="1319.8" y1="66.0" x2="1319.8" y2="539.2" stroke="#a0a0a0"/>
</g>
<g>
<line x1="1406.3" y1="471.9" x2="1791.8" y2="471.9" stroke="#9a9a9a" stroke-width="1.8"/>
<line x1="1406.2" y1="87.1" x2="1406.2" y2="471.8" stroke="#9a9a9a" stroke-width="1.6"/>
<line x1="1394.8" y1="87.2" x2="1792.8" y2="87.2" stroke="#9a9a9a" stroke-width="1.5"/>
<line x1="1792.6" y1="86.6" x2="1792.6" y2="483.3" stroke="#a8a8a8" stroke-width="2"/>
<line x1="1407.7" y1="471.3" x2="1407.7" y2="483.1" stroke="#7c7c7c" stroke-width="1.7"/>
<line x1="1394.8" y1="471.1" x2="1406.8" y2="471.1" stroke="#7c7c7c" stroke-width="1.7"/>
<line x1="1503.4" y1="471.3" x2="1503.4" y2="483.1" stroke="#7c7c7c" stroke-width="1.7"/>
<line x1="1394.8" y1="375.2" x2="1406.8" y2="375.2" stroke="#7c7c7c" stroke-width="1.7"/>
<line x1="1599.0" y1="471.3" x2="1599.0" y2="483.1" stroke="#7c7c7c" stroke-width="1.7"/>
<line x1="1394.8" y1="279.4" x2="1406.8" y2="279.4" stroke="#7c7c7c" stroke-width="1.7"/>
<line x1="1694.7" y1="471.3" x2="1694.7" y2="483.1" stroke="#7c7c7c" stroke-width="1.7"/>
<line x1="1394.8" y1="183.5" x2="1406.8" y2="183.5" stroke="#7c7c7c" stroke-width="1.7"/>
<line x1="1790.3" y1="471.3" x2="1790.3" y2="483.1" stroke="#7c7c7c" stroke-width="1.7"/>
</g>
<text transform="translate(1408.0,503.7) scale(0.8,1)" text-anchor="middle" font-family='"Liberation Sans", Arial, Helvetica, sans-serif' font-size="17.5" fill="#232a3a" stroke="#232a3a" stroke-width="0.35">0</text>
<text transform="translate(1391.2,477.3) scale(0.8,1)" text-anchor="end" font-family='"Liberation Sans", Arial, Helvetica, sans-serif' font-size="17.5" fill="#232a3a" stroke="#232a3a" stroke-width="0.35">0</text>
<text transform="translate(1503.7,503.7) scale(0.8,1)" text-anchor="middle" font-family='"Liberation Sans", Arial, Helvetica, sans-serif' font-size="17.5" fill="#232a3a" stroke="#232a3a" stroke-width="0.35">5</text>
<text transform="translate(1391.2,381.4) scale(0.8,1)" text-anchor="end" font-family='"Liberation Sans", Arial, Helvetica, sans-serif' font-size="17.5" fill="#232a3a" stroke="#232a3a" stroke-width="0.35">5</text>
<text transform="translate(1599.3,503.7) scale(0.8,1)" text-anchor="middle" font-family='"Liberation Sans", Arial, Helvetica, sans-serif' font-size="17.5" fill="#232a3a" stroke="#232a3a" stroke-width="0.35">10</text>
<text transform="translate(1391.2,285.6) scale(0.8,1)" text-anchor="end" font-family='"Liberation Sans", Arial, Helvetica, sans-serif' font-size="17.5" fill="#232a3a" stroke="#232a3a" stroke-width="0.35">10</text>
<text transform="translate(1695.0,503.7) scale(0.8,1)" text-anchor="middle" font-family='"Liberation Sans", Arial, Helvetica, sans-serif' font-size="17.5" fill="#232a3a" stroke="#232a3a" stroke-width="0.35">15</text>
<text transform="translate(1391.2,189.7) scale(0.8,1)" text-anchor="end" font-family='"Liberation Sans", Arial, Helvetica, sans-serif' font-size="17.5" fill="#232a3a" stroke="#232a3a" stroke-width="0.35">15</text>
<text transform="translate(1790.6,503.7) scale(0.8,1)" text-anchor="middle" font-family='"Liberation Sans", Arial, Helvetica, sans-serif' font-size="17.5" fill="#232a3a" stroke="#232a3a" stroke-width="0.35">20</text>
<text transform="translate(1391.2,93.8) scale(0.8,1)" text-anchor="end" font-family='"Liberation Sans", Arial, Helvetica, sans-serif' font-size="17.5" fill="#232a3a" stroke="#232a3a" stroke-width="0.35">20</text>
<text transform="translate(1598.5,532.5) scale(0.85,1)" text-anchor="middle" font-family='"Liberation Sans", Arial, Helvetica, sans-serif' font-size="16.5" fill="#3c424e" stroke="#3c424e" stroke-width="0.35">µm</text>
<text transform="translate(1345.8,280.9) rotate(-90) scale(0.85,1)" text-anchor="middle" font-family='"Liberation Sans", Arial, Helvetica, sans-serif' font-size="16.5" fill="#3c424e" stroke="#3c424e" stroke-width="0.35">µm</text>
<rect x="1832.5" y="167.5" width="23.0" height="271.0" fill="url(#cbar)" stroke="#8c8c8c" stroke-width="1.4"/>
<line x1="1855.5" y1="170.1" x2="1865.3" y2="170.1" stroke="#7c7c7c" stroke-width="1.6"/>
<text transform="translate(1885.1,176.3) scale(0.8,1)" text-anchor="end" font-family='"Liberation Sans", Arial, Helvetica, sans-serif' font-size="17.5" fill="#232a3a" stroke="#232a3a" stroke-width="0.35">2</text>
<line x1="1855.5" y1="236.7" x2="1865.3" y2="236.7" stroke="#7c7c7c" stroke-width="1.6"/>
<text transform="translate(1885.1,242.9) scale(0.8,1)" text-anchor="end" font-family='"Liberation Sans", Arial, Helvetica, sans-serif' font-size="17.5" fill="#232a3a" stroke="#232a3a" stroke-width="0.35">1</text>
<line x1="1855.5" y1="303.3" x2="1865.3" y2="303.3" stroke="#7c7c7c" stroke-width="1.6"/>
<text transform="translate(1885.1,309.5) scale(0.8,1)" text-anchor="end" font-family='"Liberation Sans", Arial, Helvetica, sans-serif' font-size="17.5" fill="#232a3a" stroke="#232a3a" stroke-width="0.35">0</text>
<line x1="1855.5" y1="369.9" x2="1865.3" y2="369.9" stroke="#7c7c7c" stroke-width="1.6"/>
<text transform="translate(1885.1,376.1) scale(0.8,1)" text-anchor="end" font-family='"Liberation Sans", Arial, Helvetica, sans-serif' font-size="17.5" fill="#232a3a" stroke="#232a3a" stroke-width="0.35">-1</text>
<line x1="1855.5" y1="436.5" x2="1865.3" y2="436.5" stroke="#7c7c7c" stroke-width="1.6"/>
<text transform="translate(1885.1,442.7) scale(0.8,1)" text-anchor="end" font-family='"Liberation Sans", Arial, Helvetica, sans-serif' font-size="17.5" fill="#232a3a" stroke="#232a3a" stroke-width="0.35">-2</text>
<text transform="translate(1909.9,303.3) rotate(-90) scale(0.85,1)" text-anchor="middle" font-family='"Liberation Sans", Arial, Helvetica, sans-serif' font-size="16.5" fill="#3c424e" stroke="#3c424e" stroke-width="0.35">nm</text>
</g>
<g clip-path="url(#clip_a)">
<rect x="98.4" y="87.8" width="398.6" height="396.5" fill="#000"/>
<g filter="url(#spk)">
<circle cx="303.3" cy="403.5" r="0.9" fill="#a04090" opacity="0.77"/>
<circle cx="154.1" cy="372.1" r="0.7" fill="#c060a0" opacity="0.62"/>
<circle cx="305.2" cy="359.1" r="1.2" fill="#d08030" opacity="0.81"/>
<circle cx="199.5" cy="219.8" r="0.6" fill="#ffd9a0" opacity="0.55"/>
<circle cx="226.5" cy="109.9" r="1.1" fill="#fff0e0" opacity="0.74"/>
<circle cx="302.2" cy="332.8" r="0.8" fill="#f0c070" opacity="0.75"/>
<circle cx="131.6" cy="188.5" r="0.9" fill="#ffffff" opacity="0.47"/>
<circle cx="198.8" cy="199.7" r="0.6" fill="#d08030" opacity="0.46"/>
<circle cx="299.0" cy="264.8" r="0.8" fill="#a04090" opacity="0.84"/>
<circle cx="281.3" cy="413.8" r="0.8" fill="#f0c070" opacity="0.62"/>
<circle cx="426.4" cy="269.0" r="1.0" fill="#ffffff" opacity="0.46"/>
<circle cx="254.2" cy="326.3" r="0.9" fill="#a04090" opacity="0.99"/>
<circle cx="265.5" cy="240.0" r="0.9" fill="#d08030" opacity="0.57"/>
<circle cx="397.1" cy="466.6" r="0.7" fill="#e8a040" opacity="0.67"/>
<circle cx="354.2" cy="127.6" r="0.7" fill="#c060a0" opacity="0.59"/>
<circle cx="229.5" cy="205.3" r="0.6" fill="#ffd9a0" opacity="0.56"/>
<circle cx="112.4" cy="122.8" r="0.7" fill="#a04090" opacity="0.77"/>
<circle cx="152.5" cy="240.9" r="0.8" fill="#c060a0" opacity="0.58"/>
<circle cx="429.7" cy="402.6" r="0.7" fill="#ffffff" opacity="0.97"/>
<circle cx="339.0" cy="254.9" r="0.7" fill="#ffd9a0" opacity="0.73"/>
<circle cx="478.1" cy="388.9" r="0.9" fill="#fff0e0" opacity="0.74"/>
<circle cx="487.9" cy="137.9" r="0.9" fill="#a04090" opacity="0.92"/>
<circle cx="491.8" cy="181.1" r="0.6" fill="#e8a040" opacity="0.68"/>
<circle cx="144.0" cy="155.1" r="1.2" fill="#fff0e0" opacity="0.50"/>
<circle cx="201.0" cy="308.2" r="1.0" fill="#ffffff" opacity="0.53"/>
<circle cx="163.3" cy="121.8" r="1.2" fill="#f0c070" opacity="0.46"/>
<circle cx="300.1" cy="312.6" r="1.2" fill="#c060a0" opacity="0.49"/>
<circle cx="500.3" cy="387.0" r="1.1" fill="#c060a0" opacity="0.95"/>
<circle cx="411.4" cy="337.5" r="1.2" fill="#d08030" opacity="0.47"/>
<circle cx="113.2" cy="121.8" r="0.6" fill="#fff0e0" opacity="0.49"/>
<circle cx="253.8" cy="195.5" r="0.8" fill="#ffe8d0" opacity="0.85"/>
<circle cx="143.5" cy="327.0" r="1.1" fill="#ffffff" opacity="0.47"/>
<circle cx="312.5" cy="308.6" r="0.9" fill="#ffd9a0" opacity="0.79"/>
<circle cx="200.4" cy="92.3" r="0.7" fill="#f0c070" opacity="0.79"/>
<circle cx="480.6" cy="439.8" r="0.9" fill="#a04090" opacity="0.58"/>
<circle cx="477.2" cy="127.4" r="1.1" fill="#ffffff" opacity="0.66"/>
<circle cx="374.9" cy="211.0" r="1.1" fill="#ffe8d0" opacity="0.92"/>
<circle cx="397.6" cy="152.8" r="0.8" fill="#a04090" opacity="0.57"/>
<circle cx="136.2" cy="461.7" r="0.9" fill="#fff0e0" opacity="0.49"/>
<circle cx="245.6" cy="449.2" r="0.8" fill="#fff0e0" opacity="0.81"/>
<circle cx="347.0" cy="305.0" r="1.1" fill="#e8a040" opacity="0.60"/>
<circle cx="416.0" cy="478.0" r="0.9" fill="#ffd9a0" opacity="0.80"/>
<circle cx="481.9" cy="471.8" r="0.7" fill="#ffffff" opacity="0.71"/>
<circle cx="110.3" cy="104.3" r="0.7" fill="#e8a040" opacity="0.60"/>
<circle cx="420.5" cy="345.9" r="0.8" fill="#c060a0" opacity="0.89"/>
<circle cx="133.2" cy="457.6" r="0.7" fill="#d08030" opacity="0.70"/>
<circle cx="116.3" cy="115.9" r="1.1" fill="#ffffff" opacity="0.97"/>
<circle cx="450.9" cy="304.4" r="0.7" fill="#ffd9a0" opacity="0.94"/>
<circle cx="488.0" cy="300.7" r="0.8" fill="#ffe8d0" opacity="0.85"/>
<circle cx="303.6" cy="349.7" r="0.9" fill="#ffffff" opacity="0.60"/>
<circle cx="185.4" cy="431.8" r="1.1" fill="#d08030" opacity="0.55"/>
<circle cx="344.5" cy="467.4" r="1.1" fill="#ffffff" opacity="0.74"/>
<circle cx="158.1" cy="322.7" r="1.1" fill="#ffd9a0" opacity="0.69"/>
<circle cx="373.4" cy="383.1" r="1.1" fill="#ffffff" opacity="0.76"/>
<circle cx="451.5" cy="255.6" r="0.7" fill="#fff0e0" opacity="0.92"/>
<circle cx="307.4" cy="315.0" r="0.8" fill="#ffffff" opacity="0.51"/>
<circle cx="437.7" cy="250.2" r="1.2" fill="#ffffff" opacity="0.75"/>
<circle cx="147.0" cy="124.8" r="0.6" fill="#c060a0" opacity="0.75"/>
<circle cx="405.4" cy="473.8" r="0.9" fill="#a04090" opacity="0.64"/>
<circle cx="471.4" cy="452.6" r="0.8" fill="#ffffff" opacity="0.56"/>
<circle cx="423.4" cy="145.8" r="0.6" fill="#e8a040" opacity="0.54"/>
<circle cx="302.5" cy="200.5" r="0.9" fill="#fff0e0" opacity="0.72"/>
<circle cx="166.9" cy="352.7" r="1.1" fill="#ffffff" opacity="0.46"/>
<circle cx="214.3" cy="354.8" r="1.0" fill="#ffffff" opacity="0.74"/>
<circle cx="342.2" cy="427.5" r="1.1" fill="#ffffff" opacity="0.80"/>
<circle cx="215.4" cy="260.8" r="0.7" fill="#ffffff" opacity="1.00"/>
<circle cx="151.8" cy="182.7" r="0.8" fill="#ffd9a0" opacity="0.50"/>
<circle cx="266.5" cy="401.0" r="0.7" fill="#c060a0" opacity="0.80"/>
<circle cx="136.7" cy="313.8" r="1.1" fill="#ffe8d0" opacity="0.98"/>
<circle cx="288.8" cy="337.9" r="1.1" fill="#ffffff" opacity="0.72"/>
<circle cx="334.4" cy="411.9" r="0.9" fill="#fff0e0" opacity="0.55"/>
<circle cx="210.6" cy="234.3" r="0.9" fill="#ffd9a0" opacity="0.52"/>
<circle cx="257.9" cy="142.5" r="0.9" fill="#a04090" opacity="0.65"/>
<circle cx="418.4" cy="246.6" r="0.7" fill="#ffffff" opacity="0.70"/>
<circle cx="260.0" cy="165.2" r="0.7" fill="#c060a0" opacity="0.89"/>
<circle cx="256.9" cy="151.0" r="0.9" fill="#d08030" opacity="0.56"/>
<circle cx="377.7" cy="210.5" r="1.0" fill="#ffd9a0" opacity="0.88"/>
<circle cx="260.1" cy="443.3" r="1.0" fill="#ffffff" opacity="0.87"/>
<circle cx="260.1" cy="374.3" r="1.1" fill="#ffd9a0" opacity="0.62"/>
<circle cx="471.9" cy="236.6" r="0.7" fill="#e8a040" opacity="0.97"/>
<circle cx="439.7" cy="232.0" r="0.9" fill="#c060a0" opacity="0.66"/>
<circle cx="354.4" cy="365.8" r="1.2" fill="#d08030" opacity="0.46"/>
<circle cx="482.5" cy="413.7" r="0.6" fill="#ffffff" opacity="0.56"/>
<circle cx="258.0" cy="188.6" r="0.9" fill="#ffe8d0" opacity="0.73"/>
<circle cx="324.8" cy="482.4" r="1.1" fill="#a04090" opacity="0.49"/>
<circle cx="343.4" cy="408.2" r="0.8" fill="#c060a0" opacity="0.98"/>
<circle cx="314.4" cy="324.3" r="1.2" fill="#d08030" opacity="0.68"/>
<circle cx="247.4" cy="452.2" r="1.0" fill="#a04090" opacity="0.76"/>
<circle cx="373.8" cy="357.9" r="1.0" fill="#ffffff" opacity="0.80"/>
<circle cx="409.1" cy="342.8" r="0.6" fill="#d08030" opacity="0.99"/>
<circle cx="127.7" cy="446.9" r="1.0" fill="#d08030" opacity="0.59"/>
<circle cx="116.5" cy="126.8" r="0.7" fill="#a04090" opacity="0.98"/>
<circle cx="425.2" cy="368.5" r="0.7" fill="#a04090" opacity="0.92"/>
<circle cx="142.5" cy="213.9" r="0.9" fill="#d08030" opacity="0.59"/>
<circle cx="396.2" cy="289.7" r="1.2" fill="#c060a0" opacity="0.85"/>
<circle cx="227.6" cy="195.9" r="1.0" fill="#ffffff" opacity="0.65"/>
<circle cx="415.2" cy="328.2" r="1.0" fill="#ffffff" opacity="0.86"/>
<circle cx="453.7" cy="100.0" r="1.1" fill="#ffffff" opacity="0.47"/>
<circle cx="377.0" cy="165.8" r="0.7" fill="#e8a040" opacity="0.75"/>
<circle cx="270.0" cy="160.0" r="1.0" fill="#ffffff" opacity="0.66"/>
<circle cx="277.4" cy="280.2" r="1.1" fill="#c060a0" opacity="0.49"/>
<circle cx="204.0" cy="433.2" r="0.9" fill="#a04090" opacity="0.59"/>
<circle cx="245.5" cy="347.0" r="0.8" fill="#fff0e0" opacity="0.75"/>
<circle cx="465.4" cy="257.4" r="0.9" fill="#ffe8d0" opacity="0.70"/>
<circle cx="253.6" cy="407.7" r="1.1" fill="#a04090" opacity="0.70"/>
<circle cx="102.1" cy="210.8" r="0.6" fill="#fff0e0" opacity="0.62"/>
<circle cx="375.0" cy="200.0" r="0.7" fill="#c060a0" opacity="0.81"/>
<circle cx="181.5" cy="211.0" r="1.2" fill="#fff0e0" opacity="0.97"/>
<circle cx="273.0" cy="406.2" r="0.9" fill="#f0c070" opacity="0.57"/>
<circle cx="389.3" cy="292.5" r="0.8" fill="#ffd9a0" opacity="0.65"/>
<circle cx="460.0" cy="265.5" r="0.8" fill="#fff0e0" opacity="0.66"/>
<circle cx="98.5" cy="443.2" r="1.1" fill="#a04090" opacity="0.60"/>
<circle cx="162.4" cy="379.3" r="1.2" fill="#f0c070" opacity="0.81"/>
<circle cx="123.9" cy="304.6" r="0.7" fill="#ffffff" opacity="0.49"/>
<circle cx="456.8" cy="121.4" r="0.7" fill="#c060a0" opacity="0.90"/>
<circle cx="427.9" cy="402.8" r="0.8" fill="#ffffff" opacity="0.70"/>
<circle cx="502.7" cy="462.1" r="0.9" fill="#a04090" opacity="0.89"/>
<circle cx="268.0" cy="439.4" r="1.1" fill="#ffe8d0" opacity="0.89"/>
<circle cx="452.6" cy="467.6" r="0.9" fill="#e8a040" opacity="0.84"/>
<circle cx="266.5" cy="254.5" r="0.7" fill="#c060a0" opacity="0.54"/>
<circle cx="419.5" cy="341.8" r="0.9" fill="#d08030" opacity="0.60"/>
<circle cx="286.3" cy="377.6" r="1.0" fill="#f0c070" opacity="0.88"/>
<circle cx="129.5" cy="181.8" r="1.1" fill="#a04090" opacity="0.47"/>
<circle cx="208.8" cy="246.9" r="1.0" fill="#fff0e0" opacity="0.78"/>
<circle cx="219.4" cy="236.4" r="1.0" fill="#f0c070" opacity="0.97"/>
<circle cx="388.7" cy="130.3" r="1.0" fill="#ffe8d0" opacity="0.87"/>
<circle cx="298.9" cy="101.4" r="1.1" fill="#c060a0" opacity="0.66"/>
<circle cx="157.0" cy="364.2" r="1.0" fill="#e8a040" opacity="0.58"/>
<circle cx="216.9" cy="337.6" r="1.0" fill="#ffffff" opacity="0.78"/>
<circle cx="212.5" cy="221.5" r="0.7" fill="#ffffff" opacity="0.86"/>
<circle cx="147.5" cy="374.8" r="0.6" fill="#c060a0" opacity="0.90"/>
<circle cx="426.1" cy="120.5" r="1.0" fill="#f0c070" opacity="0.74"/>
<circle cx="374.9" cy="120.7" r="0.9" fill="#fff0e0" opacity="0.73"/>
<circle cx="230.2" cy="253.4" r="1.1" fill="#ffd9a0" opacity="0.69"/>
<circle cx="426.4" cy="281.3" r="0.8" fill="#f0c070" opacity="0.67"/>
<circle cx="178.5" cy="341.0" r="1.0" fill="#ffd9a0" opacity="0.51"/>
<circle cx="166.2" cy="325.0" r="1.0" fill="#ffd9a0" opacity="0.46"/>
<circle cx="402.2" cy="373.4" r="0.9" fill="#ffd9a0" opacity="0.46"/>
<circle cx="417.1" cy="169.8" r="0.7" fill="#fff0e0" opacity="0.80"/>
<circle cx="397.2" cy="466.1" r="0.9" fill="#d08030" opacity="0.50"/>
<circle cx="425.1" cy="240.4" r="0.9" fill="#f0c070" opacity="0.85"/>
<circle cx="443.7" cy="265.7" r="0.7" fill="#ffd9a0" opacity="0.80"/>
<circle cx="95.6" cy="260.3" r="1.0" fill="#fff0e0" opacity="0.51"/>
<circle cx="196.8" cy="211.5" r="1.2" fill="#ffe8d0" opacity="0.68"/>
<circle cx="435.3" cy="307.7" r="0.9" fill="#d08030" opacity="0.96"/>
<circle cx="371.7" cy="390.3" r="1.0" fill="#ffffff" opacity="0.78"/>
<circle cx="450.7" cy="225.9" r="0.7" fill="#a04090" opacity="0.66"/>
<circle cx="321.0" cy="494.2" r="0.8" fill="#c060a0" opacity="0.75"/>
<circle cx="370.2" cy="126.3" r="0.9" fill="#c060a0" opacity="0.56"/>
<circle cx="496.3" cy="368.1" r="0.9" fill="#ffffff" opacity="0.46"/>
<circle cx="323.9" cy="454.4" r="0.9" fill="#fff0e0" opacity="0.63"/>
<circle cx="305.9" cy="278.7" r="1.2" fill="#a04090" opacity="0.52"/>
<circle cx="315.0" cy="310.1" r="1.1" fill="#ffffff" opacity="0.54"/>
<circle cx="455.9" cy="220.5" r="0.7" fill="#c060a0" opacity="0.90"/>
<circle cx="336.3" cy="269.8" r="0.7" fill="#c060a0" opacity="0.75"/>
<circle cx="223.0" cy="130.2" r="0.8" fill="#c060a0" opacity="0.82"/>
<circle cx="250.5" cy="322.5" r="0.7" fill="#e8a040" opacity="0.68"/>
<circle cx="213.9" cy="378.1" r="0.8" fill="#c060a0" opacity="0.52"/>
<circle cx="484.5" cy="224.6" r="0.8" fill="#c060a0" opacity="0.72"/>
<circle cx="363.3" cy="239.4" r="1.1" fill="#fff0e0" opacity="0.86"/>
<circle cx="175.9" cy="327.0" r="1.1" fill="#d08030" opacity="0.51"/>
<circle cx="122.3" cy="394.5" r="1.1" fill="#d08030" opacity="0.63"/>
<circle cx="420.0" cy="388.0" r="1.0" fill="#d08030" opacity="0.86"/>
<circle cx="129.0" cy="436.7" r="0.7" fill="#a04090" opacity="0.93"/>
<circle cx="288.0" cy="129.6" r="0.9" fill="#ffffff" opacity="0.81"/>
<circle cx="449.1" cy="484.0" r="1.1" fill="#ffe8d0" opacity="0.68"/>
<circle cx="186.8" cy="383.8" r="0.7" fill="#fff0e0" opacity="0.49"/>
<circle cx="301.8" cy="173.8" r="0.6" fill="#a04090" opacity="0.58"/>
<circle cx="411.3" cy="231.5" r="1.1" fill="#a04090" opacity="0.67"/>
<circle cx="173.0" cy="446.9" r="1.1" fill="#a04090" opacity="0.62"/>
<circle cx="326.6" cy="448.7" r="0.7" fill="#ffffff" opacity="0.92"/>
<circle cx="133.3" cy="199.0" r="1.1" fill="#ffe8d0" opacity="0.46"/>
<circle cx="417.8" cy="351.1" r="0.7" fill="#ffffff" opacity="0.93"/>
<circle cx="206.0" cy="204.8" r="1.1" fill="#f0c070" opacity="0.84"/>
<circle cx="424.0" cy="346.1" r="0.6" fill="#d08030" opacity="0.57"/>
<circle cx="408.8" cy="362.2" r="0.9" fill="#ffffff" opacity="0.61"/>
<circle cx="404.5" cy="461.1" r="0.9" fill="#fff0e0" opacity="0.99"/>
<circle cx="170.4" cy="177.4" r="1.0" fill="#c060a0" opacity="0.50"/>
<circle cx="273.9" cy="297.3" r="1.1" fill="#ffffff" opacity="0.45"/>
<circle cx="217.8" cy="389.6" r="0.7" fill="#ffd9a0" opacity="0.99"/>
<circle cx="197.4" cy="260.1" r="1.1" fill="#c060a0" opacity="0.53"/>
<circle cx="346.3" cy="451.2" r="0.8" fill="#fff0e0" opacity="0.96"/>
<circle cx="237.3" cy="255.9" r="0.8" fill="#ffe8d0" opacity="0.72"/>
<circle cx="421.2" cy="181.5" r="1.0" fill="#ffffff" opacity="0.74"/>
<circle cx="435.7" cy="458.4" r="1.0" fill="#ffffff" opacity="0.75"/>
<circle cx="377.7" cy="355.7" r="0.9" fill="#a04090" opacity="0.92"/>
<circle cx="427.8" cy="133.2" r="0.9" fill="#e8a040" opacity="0.93"/>
<circle cx="119.5" cy="214.7" r="0.9" fill="#d08030" opacity="0.85"/>
<circle cx="110.7" cy="133.1" r="0.9" fill="#c060a0" opacity="0.75"/>
<circle cx="193.3" cy="145.8" r="0.9" fill="#f0c070" opacity="0.83"/>
<circle cx="392.8" cy="397.4" r="0.9" fill="#fff0e0" opacity="0.81"/>
<circle cx="425.8" cy="254.8" r="1.1" fill="#fff0e0" opacity="0.48"/>
<circle cx="330.3" cy="239.5" r="0.7" fill="#e8a040" opacity="0.87"/>
<circle cx="304.9" cy="187.9" r="0.6" fill="#e8a040" opacity="0.68"/>
<circle cx="206.5" cy="185.2" r="1.2" fill="#d08030" opacity="0.98"/>
<circle cx="375.7" cy="348.9" r="0.8" fill="#ffffff" opacity="0.52"/>
<circle cx="265.2" cy="121.9" r="0.8" fill="#ffffff" opacity="0.64"/>
<circle cx="341.9" cy="103.5" r="1.0" fill="#d08030" opacity="1.00"/>
<circle cx="324.6" cy="449.4" r="1.2" fill="#fff0e0" opacity="0.55"/>
<circle cx="471.3" cy="172.4" r="1.1" fill="#d08030" opacity="0.57"/>
<circle cx="216.3" cy="231.9" r="0.7" fill="#a04090" opacity="0.57"/>
<circle cx="449.2" cy="203.6" r="1.1" fill="#c060a0" opacity="0.56"/>
<circle cx="250.9" cy="155.0" r="1.0" fill="#f0c070" opacity="0.74"/>
<circle cx="302.5" cy="312.8" r="0.8" fill="#ffffff" opacity="0.65"/>
<circle cx="308.7" cy="459.7" r="0.6" fill="#ffd9a0" opacity="0.63"/>
<circle cx="259.6" cy="156.1" r="1.1" fill="#f0c070" opacity="0.74"/>
<circle cx="468.7" cy="263.2" r="0.7" fill="#ffffff" opacity="0.78"/>
<circle cx="307.9" cy="217.6" r="0.9" fill="#c060a0" opacity="0.75"/>
<circle cx="185.6" cy="302.9" r="1.1" fill="#ffffff" opacity="0.74"/>
<circle cx="286.0" cy="188.7" r="0.7" fill="#ffffff" opacity="0.65"/>
<circle cx="284.9" cy="216.4" r="0.9" fill="#a04090" opacity="0.89"/>
<circle cx="217.2" cy="353.6" r="0.9" fill="#ffffff" opacity="0.64"/>
<circle cx="322.3" cy="444.0" r="0.7" fill="#f0c070" opacity="0.69"/>
<circle cx="117.1" cy="188.8" r="0.9" fill="#f0c070" opacity="0.60"/>
<circle cx="392.2" cy="286.1" r="1.0" fill="#ffe8d0" opacity="0.58"/>
<circle cx="390.9" cy="212.5" r="0.9" fill="#a04090" opacity="0.84"/>
<circle cx="411.3" cy="353.1" r="0.8" fill="#ffd9a0" opacity="0.48"/>
<circle cx="94.6" cy="155.7" r="0.9" fill="#f0c070" opacity="0.63"/>
<circle cx="203.0" cy="95.9" r="0.9" fill="#ffe8d0" opacity="0.59"/>
<circle cx="209.5" cy="235.3" r="1.2" fill="#ffe8d0" opacity="0.65"/>
<circle cx="105.9" cy="271.4" r="0.9" fill="#fff0e0" opacity="0.79"/>
<circle cx="236.2" cy="126.4" r="1.2" fill="#d08030" opacity="0.66"/>
<circle cx="370.8" cy="196.0" r="0.8" fill="#a04090" opacity="0.99"/>
<circle cx="105.9" cy="261.5" r="0.7" fill="#ffffff" opacity="0.45"/>
<circle cx="485.8" cy="269.3" r="0.6" fill="#ffffff" opacity="0.90"/>
<circle cx="373.9" cy="403.6" r="0.8" fill="#f0c070" opacity="0.94"/>
<circle cx="378.3" cy="385.8" r="1.2" fill="#c060a0" opacity="0.90"/>
<circle cx="174.4" cy="430.0" r="0.8" fill="#f0c070" opacity="0.61"/>
<circle cx="311.2" cy="181.8" r="0.8" fill="#ffffff" opacity="0.84"/>
<circle cx="392.4" cy="435.7" r="1.1" fill="#ffd9a0" opacity="0.94"/>
<circle cx="177.9" cy="308.7" r="0.7" fill="#e8a040" opacity="0.93"/>
<circle cx="119.7" cy="188.5" r="1.0" fill="#ffffff" opacity="0.83"/>
<circle cx="124.3" cy="508.0" r="0.7" fill="#ffe8d0" opacity="0.92"/>
<circle cx="294.5" cy="413.2" r="1.0" fill="#d08030" opacity="0.52"/>
<circle cx="205.6" cy="151.6" r="0.8" fill="#ffffff" opacity="0.82"/>
<circle cx="221.1" cy="239.5" r="0.8" fill="#c060a0" opacity="0.60"/>
<circle cx="343.8" cy="334.0" r="0.6" fill="#c060a0" opacity="0.84"/>
<circle cx="291.6" cy="119.4" r="1.2" fill="#ffffff" opacity="0.52"/>
<circle cx="200.8" cy="83.8" r="0.8" fill="#c060a0" opacity="0.62"/>
<circle cx="432.7" cy="200.3" r="1.0" fill="#d08030" opacity="0.67"/>
<circle cx="105.8" cy="428.7" r="0.8" fill="#ffffff" opacity="0.93"/>
<circle cx="196.4" cy="185.3" r="0.9" fill="#a04090" opacity="0.53"/>
<circle cx="206.1" cy="313.3" r="1.0" fill="#f0c070" opacity="0.60"/>
<circle cx="288.8" cy="327.5" r="0.6" fill="#ffffff" opacity="0.49"/>
<circle cx="221.7" cy="118.9" r="0.8" fill="#c060a0" opacity="0.53"/>
<circle cx="493.7" cy="249.8" r="0.8" fill="#e8a040" opacity="0.89"/>
<circle cx="109.6" cy="174.6" r="0.8" fill="#fff0e0" opacity="0.55"/>
<circle cx="475.2" cy="99.8" r="0.7" fill="#e8a040" opacity="0.46"/>
<circle cx="181.9" cy="195.8" r="1.1" fill="#e8a040" opacity="0.62"/>
<circle cx="117.7" cy="113.0" r="0.6" fill="#ffe8d0" opacity="0.74"/>
<circle cx="414.2" cy="379.4" r="0.8" fill="#d08030" opacity="0.74"/>
<circle cx="426.6" cy="477.5" r="0.8" fill="#a04090" opacity="0.84"/>
<circle cx="215.4" cy="465.2" r="0.8" fill="#ffffff" opacity="0.85"/>
<circle cx="397.8" cy="151.2" r="0.8" fill="#a04090" opacity="0.60"/>
<circle cx="226.6" cy="125.1" r="0.7" fill="#ffe8d0" opacity="0.55"/>
<circle cx="284.8" cy="164.0" r="0.8" fill="#c060a0" opacity="0.54"/>
<circle cx="211.7" cy="252.9" r="0.6" fill="#ffffff" opacity="0.50"/>
<circle cx="433.2" cy="389.7" r="1.1" fill="#e8a040" opacity="0.63"/>
<circle cx="141.6" cy="479.3" r="0.9" fill="#d08030" opacity="0.97"/>
<circle cx="331.2" cy="445.8" r="0.6" fill="#f0c070" opacity="0.66"/>
<circle cx="449.8" cy="396.2" r="1.2" fill="#ffffff" opacity="0.53"/>
<circle cx="431.1" cy="244.9" r="1.0" fill="#fff0e0" opacity="0.94"/>
<circle cx="349.0" cy="288.0" r="1.2" fill="#fff0e0" opacity="0.52"/>
<circle cx="395.0" cy="260.7" r="0.9" fill="#a04090" opacity="0.66"/>
<circle cx="242.7" cy="432.2" r="0.9" fill="#e8a040" opacity="0.70"/>
<circle cx="120.1" cy="130.3" r="0.9" fill="#c060a0" opacity="0.63"/>
<circle cx="174.5" cy="490.5" r="0.8" fill="#ffffff" opacity="0.93"/>
<circle cx="253.4" cy="339.9" r="1.1" fill="#c060a0" opacity="0.89"/>
<circle cx="430.1" cy="138.5" r="0.8" fill="#ffe8d0" opacity="0.89"/>
<circle cx="228.6" cy="376.8" r="0.8" fill="#a04090" opacity="0.80"/>
<circle cx="259.1" cy="392.8" r="0.6" fill="#ffffff" opacity="0.72"/>
<circle cx="231.5" cy="407.7" r="1.1" fill="#c060a0" opacity="0.55"/>
<circle cx="379.2" cy="231.9" r="0.7" fill="#f0c070" opacity="0.55"/>
<circle cx="397.2" cy="323.6" r="0.7" fill="#ffd9a0" opacity="0.81"/>
<circle cx="361.5" cy="200.0" r="0.9" fill="#ffffff" opacity="1.00"/>
<circle cx="435.3" cy="216.2" r="1.0" fill="#f0c070" opacity="0.56"/>
<circle cx="368.7" cy="454.9" r="0.6" fill="#a04090" opacity="0.60"/>
<circle cx="365.5" cy="228.6" r="0.6" fill="#ffffff" opacity="0.49"/>
<circle cx="364.1" cy="381.7" r="0.7" fill="#d08030" opacity="0.49"/>
<circle cx="409.3" cy="235.1" r="0.7" fill="#a04090" opacity="0.52"/>
<circle cx="166.0" cy="358.8" r="0.7" fill="#fff0e0" opacity="0.52"/>
<circle cx="477.9" cy="118.8" r="0.7" fill="#a04090" opacity="0.71"/>
<circle cx="426.1" cy="276.7" r="0.8" fill="#ffd9a0" opacity="0.63"/>
<circle cx="338.3" cy="314.1" r="1.0" fill="#e8a040" opacity="0.58"/>
<circle cx="285.0" cy="160.5" r="0.9" fill="#d08030" opacity="0.64"/>
<circle cx="437.3" cy="322.0" r="1.0" fill="#ffffff" opacity="0.70"/>
<circle cx="379.9" cy="470.2" r="1.0" fill="#fff0e0" opacity="0.64"/>
<circle cx="476.9" cy="97.0" r="0.9" fill="#c060a0" opacity="0.65"/>
<circle cx="332.4" cy="214.5" r="1.2" fill="#e8a040" opacity="0.99"/>
<circle cx="255.9" cy="416.4" r="1.0" fill="#ffffff" opacity="1.00"/>
<circle cx="157.1" cy="327.9" r="0.9" fill="#ffffff" opacity="0.77"/>
<circle cx="241.7" cy="214.0" r="0.6" fill="#ffd9a0" opacity="0.98"/>
<circle cx="324.4" cy="459.9" r="1.1" fill="#a04090" opacity="0.52"/>
<circle cx="168.3" cy="131.5" r="0.7" fill="#e8a040" opacity="0.68"/>
<circle cx="224.8" cy="191.6" r="0.9" fill="#ffffff" opacity="0.49"/>
<circle cx="332.5" cy="342.8" r="0.8" fill="#f0c070" opacity="0.59"/>
<circle cx="187.8" cy="348.4" r="0.7" fill="#a04090" opacity="0.51"/>
<circle cx="209.7" cy="174.5" r="1.2" fill="#c060a0" opacity="0.74"/>
<circle cx="260.6" cy="444.7" r="0.8" fill="#ffd9a0" opacity="0.46"/>
<circle cx="221.9" cy="186.1" r="0.8" fill="#c060a0" opacity="0.79"/>
<circle cx="258.5" cy="354.3" r="0.8" fill="#e8a040" opacity="0.61"/>
<circle cx="229.1" cy="385.3" r="1.1" fill="#ffe8d0" opacity="0.56"/>
<circle cx="321.7" cy="142.5" r="1.2" fill="#ffffff" opacity="0.50"/>
<circle cx="403.6" cy="130.4" r="0.7" fill="#ffe8d0" opacity="0.89"/>
<circle cx="428.5" cy="311.3" r="0.8" fill="#e8a040" opacity="0.74"/>
<circle cx="423.8" cy="256.7" r="1.0" fill="#ffffff" opacity="0.84"/>
<circle cx="292.5" cy="255.1" r="0.9" fill="#ffffff" opacity="0.45"/>
<circle cx="224.8" cy="195.8" r="0.8" fill="#ffffff" opacity="0.78"/>
<circle cx="477.0" cy="207.5" r="0.8" fill="#e8a040" opacity="0.72"/>
<circle cx="460.7" cy="460.2" r="0.8" fill="#ffffff" opacity="0.60"/>
<circle cx="268.0" cy="428.8" r="0.7" fill="#d08030" opacity="0.76"/>
<circle cx="500.8" cy="274.3" r="0.6" fill="#ffe8d0" opacity="0.53"/>
<circle cx="410.1" cy="178.6" r="0.6" fill="#a04090" opacity="0.79"/>
<circle cx="365.0" cy="215.4" r="0.9" fill="#ffffff" opacity="0.45"/>
<circle cx="265.2" cy="357.3" r="0.7" fill="#ffd9a0" opacity="0.50"/>
<circle cx="263.6" cy="224.4" r="1.1" fill="#d08030" opacity="0.69"/>
<circle cx="388.5" cy="419.0" r="1.0" fill="#ffe8d0" opacity="0.75"/>
<circle cx="176.9" cy="209.3" r="0.7" fill="#ffffff" opacity="0.93"/>
<circle cx="396.3" cy="208.2" r="0.7" fill="#ffd9a0" opacity="0.60"/>
<circle cx="178.7" cy="293.1" r="0.9" fill="#a04090" opacity="0.83"/>
<circle cx="319.6" cy="457.9" r="1.1" fill="#c060a0" opacity="0.63"/>
<circle cx="221.0" cy="217.5" r="1.0" fill="#ffffff" opacity="0.70"/>
<circle cx="157.1" cy="353.7" r="1.0" fill="#a04090" opacity="0.67"/>
<circle cx="247.3" cy="343.7" r="0.9" fill="#d08030" opacity="0.59"/>
<circle cx="427.4" cy="142.9" r="1.1" fill="#d08030" opacity="0.49"/>
<circle cx="442.6" cy="277.2" r="0.7" fill="#a04090" opacity="0.55"/>
<circle cx="465.4" cy="342.2" r="1.2" fill="#e8a040" opacity="0.64"/>
<circle cx="241.9" cy="341.7" r="1.1" fill="#ffe8d0" opacity="0.50"/>
<circle cx="185.5" cy="166.8" r="1.0" fill="#ffffff" opacity="0.64"/>
<circle cx="230.3" cy="238.9" r="1.0" fill="#ffe8d0" opacity="0.65"/>
<circle cx="384.8" cy="203.1" r="0.7" fill="#f0c070" opacity="0.65"/>
<circle cx="471.1" cy="113.5" r="0.7" fill="#ffffff" opacity="0.72"/>
<circle cx="321.6" cy="147.6" r="1.1" fill="#c060a0" opacity="0.54"/>
<circle cx="439.1" cy="329.4" r="1.1" fill="#ffffff" opacity="0.54"/>
<circle cx="378.5" cy="321.4" r="0.8" fill="#f0c070" opacity="0.68"/>
<circle cx="358.2" cy="302.9" r="0.9" fill="#a04090" opacity="0.65"/>
<circle cx="474.5" cy="288.3" r="1.0" fill="#fff0e0" opacity="0.94"/>
<circle cx="236.9" cy="423.1" r="0.8" fill="#ffd9a0" opacity="0.45"/>
<circle cx="481.5" cy="165.2" r="0.8" fill="#ffe8d0" opacity="0.93"/>
<circle cx="355.7" cy="308.3" r="0.9" fill="#d08030" opacity="0.99"/>
<circle cx="321.9" cy="463.9" r="0.9" fill="#d08030" opacity="0.55"/>
<circle cx="296.4" cy="222.6" r="0.9" fill="#ffd9a0" opacity="0.72"/>
<circle cx="263.6" cy="318.4" r="0.7" fill="#ffffff" opacity="0.94"/>
<circle cx="303.2" cy="72.1" r="1.2" fill="#ffffff" opacity="0.96"/>
<circle cx="471.1" cy="95.8" r="1.1" fill="#a04090" opacity="1.00"/>
<circle cx="245.8" cy="454.7" r="0.7" fill="#ffffff" opacity="0.95"/>
<circle cx="486.4" cy="160.2" r="0.8" fill="#e8a040" opacity="0.53"/>
<circle cx="258.4" cy="432.6" r="0.6" fill="#ffd9a0" opacity="0.49"/>
<circle cx="487.2" cy="418.2" r="0.8" fill="#d08030" opacity="0.57"/>
<circle cx="424.1" cy="452.6" r="0.9" fill="#ffe8d0" opacity="0.63"/>
<circle cx="189.7" cy="313.5" r="0.7" fill="#d08030" opacity="0.53"/>
<circle cx="256.6" cy="312.4" r="0.7" fill="#c060a0" opacity="0.81"/>
<circle cx="170.3" cy="372.3" r="0.7" fill="#e8a040" opacity="0.58"/>
<circle cx="447.2" cy="211.0" r="1.1" fill="#e8a040" opacity="0.75"/>
<circle cx="334.4" cy="422.4" r="0.8" fill="#e8a040" opacity="0.99"/>
<circle cx="465.7" cy="240.1" r="1.2" fill="#d08030" opacity="0.68"/>
<circle cx="369.7" cy="129.6" r="1.1" fill="#d08030" opacity="0.76"/>
<circle cx="125.6" cy="474.1" r="0.6" fill="#e8a040" opacity="0.47"/>
<circle cx="267.7" cy="150.6" r="0.7" fill="#ffd9a0" opacity="0.93"/>
<circle cx="469.7" cy="223.4" r="0.7" fill="#c060a0" opacity="0.84"/>
<circle cx="175.2" cy="141.6" r="1.1" fill="#ffffff" opacity="0.85"/>
<circle cx="279.3" cy="235.4" r="1.2" fill="#ffd9a0" opacity="0.53"/>
<circle cx="490.4" cy="375.4" r="0.7" fill="#e8a040" opacity="0.63"/>
<circle cx="386.4" cy="156.8" r="0.9" fill="#fff0e0" opacity="0.89"/>
<circle cx="227.1" cy="183.1" r="1.2" fill="#ffd9a0" opacity="0.99"/>
<circle cx="368.3" cy="161.5" r="1.0" fill="#ffe8d0" opacity="0.51"/>
<circle cx="235.8" cy="440.1" r="0.9" fill="#a04090" opacity="0.55"/>
<circle cx="488.2" cy="97.5" r="0.8" fill="#fff0e0" opacity="0.48"/>
<circle cx="192.7" cy="253.5" r="0.6" fill="#e8a040" opacity="0.68"/>
<circle cx="342.4" cy="112.8" r="0.7" fill="#e8a040" opacity="0.46"/>
<circle cx="279.0" cy="122.4" r="0.8" fill="#ffffff" opacity="0.71"/>
<circle cx="377.2" cy="210.1" r="0.9" fill="#fff0e0" opacity="0.68"/>
<circle cx="132.7" cy="354.7" r="0.7" fill="#a04090" opacity="0.96"/>
<circle cx="450.0" cy="152.3" r="0.9" fill="#ffffff" opacity="0.96"/>
<circle cx="470.6" cy="212.1" r="1.0" fill="#ffffff" opacity="0.54"/>
<circle cx="211.6" cy="126.2" r="0.8" fill="#e8a040" opacity="0.76"/>
<circle cx="385.1" cy="477.5" r="1.0" fill="#e8a040" opacity="0.67"/>
<circle cx="99.5" cy="465.6" r="0.9" fill="#ffe8d0" opacity="0.71"/>
<circle cx="193.2" cy="103.0" r="0.8" fill="#ffd9a0" opacity="0.48"/>
<circle cx="363.7" cy="258.2" r="0.7" fill="#ffffff" opacity="0.64"/>
<circle cx="225.6" cy="152.4" r="0.8" fill="#f0c070" opacity="0.82"/>
<circle cx="158.9" cy="248.2" r="1.1" fill="#a04090" opacity="0.99"/>
<circle cx="371.5" cy="404.0" r="1.1" fill="#f0c070" opacity="0.89"/>
<circle cx="220.4" cy="307.1" r="1.2" fill="#e8a040" opacity="0.81"/>
<circle cx="334.8" cy="293.3" r="1.2" fill="#ffd9a0" opacity="0.54"/>
<circle cx="425.6" cy="177.2" r="1.0" fill="#c060a0" opacity="0.88"/>
<circle cx="406.1" cy="365.5" r="0.9" fill="#e8a040" opacity="0.67"/>
<circle cx="478.3" cy="438.3" r="1.0" fill="#a04090" opacity="0.72"/>
<circle cx="317.4" cy="233.5" r="1.1" fill="#a04090" opacity="0.58"/>
<circle cx="322.3" cy="455.4" r="0.8" fill="#d08030" opacity="0.60"/>
<circle cx="429.0" cy="316.5" r="0.8" fill="#ffd9a0" opacity="0.96"/>
<circle cx="214.2" cy="465.3" r="0.8" fill="#fff0e0" opacity="0.71"/>
<circle cx="208.9" cy="202.9" r="0.6" fill="#a04090" opacity="0.50"/>
<circle cx="165.7" cy="142.8" r="0.8" fill="#ffffff" opacity="0.96"/>
<circle cx="139.2" cy="324.9" r="1.2" fill="#e8a040" opacity="0.61"/>
<circle cx="439.9" cy="298.5" r="0.8" fill="#ffffff" opacity="0.58"/>
<circle cx="239.1" cy="176.4" r="1.1" fill="#d08030" opacity="0.76"/>
<circle cx="298.0" cy="339.9" r="0.9" fill="#ffffff" opacity="0.46"/>
<circle cx="221.7" cy="238.5" r="0.7" fill="#c060a0" opacity="0.98"/>
<circle cx="331.4" cy="458.5" r="1.1" fill="#f0c070" opacity="0.81"/>
<circle cx="214.2" cy="332.6" r="0.7" fill="#a04090" opacity="0.59"/>
<circle cx="317.8" cy="88.6" r="1.0" fill="#a04090" opacity="0.69"/>
<circle cx="99.3" cy="297.6" r="0.8" fill="#ffffff" opacity="0.81"/>
<circle cx="221.7" cy="457.5" r="0.7" fill="#fff0e0" opacity="0.48"/>
<circle cx="163.6" cy="133.9" r="1.0" fill="#a04090" opacity="0.56"/>
<circle cx="466.4" cy="401.4" r="1.2" fill="#ffe8d0" opacity="0.80"/>
<circle cx="189.9" cy="126.0" r="0.9" fill="#ffffff" opacity="0.86"/>
<circle cx="174.8" cy="101.2" r="1.0" fill="#ffd9a0" opacity="0.70"/>
<circle cx="144.8" cy="327.7" r="1.0" fill="#ffffff" opacity="0.68"/>
<circle cx="445.8" cy="451.4" r="0.9" fill="#ffffff" opacity="0.66"/>
<circle cx="487.6" cy="399.3" r="1.1" fill="#d08030" opacity="0.49"/>
<circle cx="336.0" cy="111.0" r="0.9" fill="#a04090" opacity="0.81"/>
<circle cx="444.0" cy="449.6" r="0.9" fill="#ffe8d0" opacity="0.67"/>
<circle cx="235.7" cy="257.0" r="1.0" fill="#ffd9a0" opacity="0.57"/>
<circle cx="168.4" cy="247.5" r="0.9" fill="#a04090" opacity="0.90"/>
<circle cx="254.4" cy="321.9" r="1.0" fill="#ffe8d0" opacity="0.77"/>
<circle cx="410.4" cy="349.2" r="1.2" fill="#c060a0" opacity="0.53"/>
<circle cx="227.9" cy="375.9" r="0.8" fill="#e8a040" opacity="0.76"/>
<circle cx="256.3" cy="353.1" r="1.0" fill="#a04090" opacity="0.61"/>
<circle cx="265.8" cy="145.4" r="0.6" fill="#fff0e0" opacity="0.70"/>
<circle cx="142.0" cy="321.0" r="0.9" fill="#ffe8d0" opacity="0.48"/>
<circle cx="231.3" cy="380.8" r="0.8" fill="#ffffff" opacity="0.60"/>
<circle cx="206.3" cy="374.8" r="1.0" fill="#d08030" opacity="0.53"/>
<circle cx="249.0" cy="455.4" r="1.1" fill="#ffd9a0" opacity="0.80"/>
<circle cx="241.9" cy="257.3" r="0.6" fill="#fff0e0" opacity="0.90"/>
<circle cx="182.6" cy="366.7" r="0.8" fill="#ffe8d0" opacity="0.93"/>
<circle cx="221.5" cy="284.6" r="0.8" fill="#fff0e0" opacity="0.73"/>
<circle cx="223.6" cy="426.8" r="1.0" fill="#c060a0" opacity="0.96"/>
<circle cx="451.8" cy="157.4" r="1.1" fill="#c060a0" opacity="0.82"/>
<circle cx="299.1" cy="225.4" r="1.1" fill="#ffe8d0" opacity="0.57"/>
<circle cx="326.6" cy="125.0" r="1.1" fill="#ffd9a0" opacity="0.82"/>
<circle cx="108.1" cy="216.3" r="0.8" fill="#fff0e0" opacity="0.99"/>
<circle cx="483.4" cy="261.9" r="1.1" fill="#e8a040" opacity="0.79"/>
<circle cx="128.4" cy="126.2" r="0.6" fill="#ffe8d0" opacity="0.88"/>
<circle cx="179.5" cy="119.0" r="1.2" fill="#ffffff" opacity="0.61"/>
<circle cx="329.9" cy="268.9" r="0.7" fill="#f0c070" opacity="0.54"/>
<circle cx="458.9" cy="323.5" r="1.1" fill="#fff0e0" opacity="0.69"/>
<circle cx="447.3" cy="111.0" r="0.8" fill="#ffffff" opacity="0.69"/>
<circle cx="334.6" cy="451.9" r="0.6" fill="#f0c070" opacity="0.62"/>
<circle cx="389.4" cy="477.8" r="0.7" fill="#ffffff" opacity="0.93"/>
<circle cx="370.9" cy="362.1" r="0.7" fill="#a04090" opacity="0.73"/>
<circle cx="173.7" cy="427.7" r="0.6" fill="#ffffff" opacity="0.59"/>
<circle cx="315.0" cy="291.9" r="0.6" fill="#f0c070" opacity="0.61"/>
<circle cx="249.8" cy="150.0" r="1.1" fill="#c060a0" opacity="0.84"/>
<circle cx="276.8" cy="480.2" r="1.0" fill="#d08030" opacity="0.75"/>
<circle cx="418.1" cy="382.4" r="1.0" fill="#ffffff" opacity="0.57"/>
<circle cx="246.9" cy="377.6" r="0.6" fill="#fff0e0" opacity="0.57"/>
<circle cx="290.8" cy="250.0" r="0.8" fill="#f0c070" opacity="0.98"/>
<circle cx="266.4" cy="178.7" r="1.1" fill="#ffffff" opacity="0.85"/>
<circle cx="121.2" cy="101.4" r="1.1" fill="#c060a0" opacity="0.80"/>
<circle cx="451.7" cy="343.5" r="1.1" fill="#ffe8d0" opacity="0.95"/>
<circle cx="225.8" cy="133.5" r="1.2" fill="#e8a040" opacity="0.47"/>
<circle cx="485.3" cy="248.1" r="1.0" fill="#d08030" opacity="0.55"/>
<circle cx="263.1" cy="102.1" r="1.0" fill="#ffffff" opacity="0.49"/>
<circle cx="422.3" cy="127.0" r="1.2" fill="#ffd9a0" opacity="0.82"/>
<circle cx="485.2" cy="253.7" r="0.6" fill="#e8a040" opacity="0.72"/>
<circle cx="227.1" cy="378.7" r="1.2" fill="#ffe8d0" opacity="0.65"/>
<circle cx="117.4" cy="215.4" r="0.7" fill="#fff0e0" opacity="0.73"/>
<circle cx="339.7" cy="421.7" r="0.7" fill="#a04090" opacity="0.85"/>
<circle cx="241.2" cy="130.0" r="1.1" fill="#ffffff" opacity="0.79"/>
<circle cx="401.7" cy="374.2" r="0.8" fill="#e8a040" opacity="0.49"/>
<circle cx="232.2" cy="455.5" r="0.7" fill="#d08030" opacity="0.84"/>
<circle cx="354.0" cy="210.6" r="1.0" fill="#e8a040" opacity="0.58"/>
<circle cx="195.7" cy="314.9" r="0.7" fill="#ffffff" opacity="0.54"/>
<circle cx="419.2" cy="252.5" r="0.7" fill="#ffffff" opacity="0.45"/>
<circle cx="236.9" cy="456.0" r="0.9" fill="#e8a040" opacity="0.88"/>
<circle cx="213.9" cy="201.2" r="0.7" fill="#c060a0" opacity="0.89"/>
<circle cx="466.9" cy="130.5" r="0.8" fill="#e8a040" opacity="0.61"/>
<circle cx="322.3" cy="476.1" r="1.0" fill="#c060a0" opacity="0.93"/>
<circle cx="483.3" cy="127.2" r="1.1" fill="#d08030" opacity="0.65"/>
<circle cx="126.9" cy="412.0" r="1.2" fill="#f0c070" opacity="0.91"/>
<circle cx="176.1" cy="425.5" r="0.7" fill="#fff0e0" opacity="0.88"/>
<circle cx="136.8" cy="313.3" r="1.2" fill="#ffe8d0" opacity="0.66"/>
<circle cx="377.6" cy="300.9" r="0.7" fill="#f0c070" opacity="0.73"/>
<circle cx="230.1" cy="376.1" r="1.0" fill="#ffffff" opacity="0.85"/>
<circle cx="319.5" cy="349.0" r="0.9" fill="#f0c070" opacity="0.73"/>
<circle cx="165.3" cy="286.2" r="0.7" fill="#a04090" opacity="0.70"/>
<circle cx="402.3" cy="325.1" r="0.7" fill="#d08030" opacity="0.85"/>
<circle cx="313.0" cy="333.1" r="0.7" fill="#ffffff" opacity="0.78"/>
<circle cx="397.7" cy="282.8" r="0.9" fill="#ffffff" opacity="0.82"/>
<circle cx="121.6" cy="126.8" r="0.7" fill="#e8a040" opacity="0.82"/>
<circle cx="420.8" cy="121.9" r="1.2" fill="#ffe8d0" opacity="0.48"/>
<circle cx="226.1" cy="305.3" r="1.1" fill="#c060a0" opacity="0.54"/>
<circle cx="201.8" cy="165.9" r="1.2" fill="#ffe8d0" opacity="0.66"/>
<circle cx="413.9" cy="237.0" r="0.7" fill="#fff0e0" opacity="0.48"/>
<circle cx="402.4" cy="235.4" r="0.9" fill="#d08030" opacity="0.46"/>
<circle cx="307.2" cy="148.2" r="0.9" fill="#c060a0" opacity="0.48"/>
<circle cx="229.2" cy="451.6" r="0.6" fill="#f0c070" opacity="0.78"/>
<circle cx="464.2" cy="171.5" r="1.2" fill="#a04090" opacity="0.83"/>
<circle cx="130.6" cy="134.5" r="0.9" fill="#d08030" opacity="0.98"/>
<circle cx="275.4" cy="313.3" r="1.0" fill="#ffd9a0" opacity="0.87"/>
<circle cx="445.6" cy="197.9" r="1.0" fill="#ffffff" opacity="0.45"/>
<circle cx="258.8" cy="222.8" r="0.9" fill="#ffd9a0" opacity="0.54"/>
<circle cx="212.5" cy="242.5" r="0.8" fill="#e8a040" opacity="0.53"/>
<circle cx="141.9" cy="102.5" r="0.9" fill="#ffe8d0" opacity="0.95"/>
<circle cx="180.7" cy="105.7" r="0.7" fill="#fff0e0" opacity="0.72"/>
<circle cx="368.6" cy="303.4" r="0.9" fill="#ffd9a0" opacity="0.54"/>
<circle cx="213.1" cy="264.6" r="1.1" fill="#e8a040" opacity="0.58"/>
<circle cx="303.7" cy="304.5" r="0.7" fill="#f0c070" opacity="0.75"/>
<circle cx="223.6" cy="235.8" r="0.8" fill="#ffffff" opacity="0.68"/>
<circle cx="379.6" cy="390.4" r="0.7" fill="#ffffff" opacity="0.54"/>
<circle cx="296.2" cy="343.3" r="0.7" fill="#ffe8d0" opacity="0.49"/>
<circle cx="228.1" cy="441.4" r="1.0" fill="#ffffff" opacity="0.79"/>
<circle cx="340.9" cy="435.3" r="0.8" fill="#d08030" opacity="0.81"/>
<circle cx="435.6" cy="275.2" r="0.8" fill="#f0c070" opacity="0.64"/>
<circle cx="417.2" cy="355.9" r="0.8" fill="#f0c070" opacity="0.80"/>
<circle cx="330.7" cy="203.9" r="1.2" fill="#c060a0" opacity="0.62"/>
<circle cx="233.1" cy="180.5" r="1.1" fill="#ffffff" opacity="0.50"/>
<circle cx="313.3" cy="413.9" r="0.8" fill="#ffd9a0" opacity="0.71"/>
<circle cx="445.7" cy="176.7" r="1.0" fill="#f0c070" opacity="0.47"/>
<circle cx="418.1" cy="462.8" r="0.7" fill="#e8a040" opacity="0.49"/>
<circle cx="338.8" cy="93.8" r="0.9" fill="#a04090" opacity="0.72"/>
<circle cx="146.9" cy="380.9" r="0.8" fill="#c060a0" opacity="0.96"/>
<circle cx="327.3" cy="137.7" r="0.7" fill="#ffd9a0" opacity="0.81"/>
<circle cx="193.6" cy="254.9" r="0.9" fill="#ffe8d0" opacity="0.94"/>
<circle cx="400.5" cy="343.8" r="0.7" fill="#a04090" opacity="0.62"/>
<circle cx="145.5" cy="374.7" r="1.0" fill="#ffffff" opacity="0.94"/>
<circle cx="327.4" cy="456.9" r="1.0" fill="#c060a0" opacity="0.92"/>
<circle cx="408.6" cy="132.9" r="0.9" fill="#c060a0" opacity="0.76"/>
<circle cx="326.3" cy="449.8" r="1.1" fill="#ffe8d0" opacity="0.45"/>
<circle cx="226.5" cy="170.4" r="0.8" fill="#ffe8d0" opacity="0.87"/>
<circle cx="369.0" cy="334.1" r="0.9" fill="#ffffff" opacity="0.47"/>
<circle cx="186.4" cy="350.0" r="0.9" fill="#ffffff" opacity="0.75"/>
<circle cx="300.3" cy="247.6" r="0.9" fill="#c060a0" opacity="0.81"/>
<circle cx="394.3" cy="344.0" r="0.7" fill="#fff0e0" opacity="0.52"/>
<circle cx="387.2" cy="109.7" r="0.9" fill="#e8a040" opacity="0.52"/>
<circle cx="442.3" cy="144.6" r="1.1" fill="#ffffff" opacity="0.69"/>
<circle cx="183.2" cy="336.0" r="1.0" fill="#ffffff" opacity="0.84"/>
<circle cx="201.2" cy="404.3" r="0.8" fill="#ffffff" opacity="0.65"/>
<circle cx="241.8" cy="158.7" r="1.1" fill="#ffffff" opacity="0.47"/>
<circle cx="368.2" cy="258.0" r="1.0" fill="#e8a040" opacity="0.91"/>
<circle cx="202.0" cy="258.4" r="1.1" fill="#a04090" opacity="0.58"/>
<circle cx="413.6" cy="120.9" r="0.8" fill="#ffffff" opacity="0.71"/>
<circle cx="485.0" cy="196.7" r="0.9" fill="#ffd9a0" opacity="0.89"/>
<circle cx="171.7" cy="187.3" r="1.2" fill="#ffffff" opacity="0.54"/>
<circle cx="178.3" cy="406.8" r="0.9" fill="#ffd9a0" opacity="0.95"/>
<circle cx="124.7" cy="426.5" r="1.1" fill="#d08030" opacity="0.73"/>
<circle cx="432.3" cy="177.0" r="1.2" fill="#d08030" opacity="0.78"/>
<circle cx="126.8" cy="185.1" r="0.8" fill="#fff0e0" opacity="0.58"/>
<circle cx="100.3" cy="154.8" r="0.8" fill="#f0c070" opacity="0.76"/>
<circle cx="167.8" cy="122.6" r="0.9" fill="#fff0e0" opacity="0.66"/>
<circle cx="114.2" cy="148.0" r="0.7" fill="#c060a0" opacity="0.47"/>
<circle cx="186.0" cy="100.9" r="0.9" fill="#e8a040" opacity="0.74"/>
<circle cx="248.0" cy="187.3" r="0.7" fill="#a04090" opacity="0.66"/>
<circle cx="473.3" cy="249.0" r="1.0" fill="#c060a0" opacity="0.70"/>
<circle cx="164.2" cy="417.9" r="1.1" fill="#e8a040" opacity="0.90"/>
<circle cx="301.7" cy="408.8" r="0.7" fill="#a04090" opacity="0.45"/>
<circle cx="287.9" cy="435.2" r="0.7" fill="#a04090" opacity="0.80"/>
<circle cx="270.4" cy="217.9" r="1.1" fill="#d08030" opacity="0.88"/>
<circle cx="219.3" cy="174.7" r="1.0" fill="#e8a040" opacity="0.84"/>
<circle cx="169.0" cy="319.6" r="0.9" fill="#ffd9a0" opacity="0.66"/>
<circle cx="477.8" cy="468.7" r="0.7" fill="#ffffff" opacity="0.63"/>
<circle cx="213.0" cy="292.9" r="1.2" fill="#f0c070" opacity="0.96"/>
<circle cx="428.8" cy="178.3" r="0.7" fill="#ffffff" opacity="0.95"/>
<circle cx="405.5" cy="373.0" r="1.0" fill="#f0c070" opacity="0.52"/>
<circle cx="493.1" cy="465.1" r="1.0" fill="#e8a040" opacity="0.50"/>
<circle cx="238.9" cy="161.1" r="0.9" fill="#ffd9a0" opacity="0.60"/>
<circle cx="329.8" cy="138.5" r="1.1" fill="#ffe8d0" opacity="0.73"/>
<circle cx="117.9" cy="378.2" r="0.7" fill="#c060a0" opacity="0.98"/>
<circle cx="329.9" cy="109.6" r="1.2" fill="#e8a040" opacity="0.91"/>
<circle cx="425.7" cy="312.5" r="1.1" fill="#ffd9a0" opacity="0.96"/>
<circle cx="121.9" cy="243.7" r="1.0" fill="#ffffff" opacity="0.72"/>
<circle cx="493.3" cy="265.0" r="1.0" fill="#ffffff" opacity="0.83"/>
<circle cx="401.1" cy="292.6" r="1.0" fill="#d08030" opacity="0.89"/>
<circle cx="229.4" cy="292.4" r="1.0" fill="#ffffff" opacity="0.54"/>
<circle cx="464.8" cy="419.0" r="0.7" fill="#c060a0" opacity="0.68"/>
<circle cx="294.1" cy="171.3" r="0.7" fill="#fff0e0" opacity="0.62"/>
<circle cx="246.5" cy="174.7" r="1.1" fill="#e8a040" opacity="0.75"/>
<circle cx="173.3" cy="339.7" r="0.9" fill="#a04090" opacity="0.46"/>
<circle cx="393.4" cy="308.4" r="0.8" fill="#ffe8d0" opacity="0.45"/>
<circle cx="347.4" cy="478.5" r="0.7" fill="#fff0e0" opacity="0.47"/>
<circle cx="264.5" cy="270.4" r="1.0" fill="#d08030" opacity="0.75"/>
<circle cx="122.6" cy="313.8" r="0.8" fill="#ffe8d0" opacity="0.83"/>
<circle cx="456.8" cy="192.7" r="1.0" fill="#ffd9a0" opacity="0.68"/>
<circle cx="233.7" cy="475.3" r="0.9" fill="#ffffff" opacity="0.62"/>
<circle cx="123.1" cy="397.9" r="0.8" fill="#f0c070" opacity="0.92"/>
<circle cx="393.0" cy="349.0" r="1.1" fill="#ffe8d0" opacity="0.97"/>
<circle cx="418.5" cy="482.5" r="1.1" fill="#c060a0" opacity="0.86"/>
<circle cx="295.0" cy="173.8" r="1.1" fill="#ffffff" opacity="0.54"/>
<circle cx="162.1" cy="471.1" r="1.2" fill="#d08030" opacity="0.73"/>
<circle cx="147.1" cy="328.6" r="0.8" fill="#e8a040" opacity="0.57"/>
<circle cx="222.5" cy="451.8" r="1.2" fill="#ffffff" opacity="0.94"/>
<circle cx="199.3" cy="414.5" r="1.0" fill="#ffd9a0" opacity="0.90"/>
<circle cx="179.1" cy="366.5" r="1.0" fill="#ffffff" opacity="0.90"/>
<circle cx="432.8" cy="416.8" r="0.9" fill="#a04090" opacity="0.70"/>
<circle cx="422.7" cy="302.6" r="0.8" fill="#ffd9a0" opacity="0.55"/>
<circle cx="401.7" cy="370.7" r="0.9" fill="#d08030" opacity="0.91"/>
<circle cx="372.7" cy="204.1" r="1.1" fill="#ffd9a0" opacity="0.65"/>
<circle cx="158.0" cy="101.5" r="0.9" fill="#fff0e0" opacity="0.71"/>
<circle cx="379.8" cy="220.3" r="1.2" fill="#d08030" opacity="0.61"/>
<circle cx="330.9" cy="95.8" r="0.9" fill="#c060a0" opacity="0.68"/>
<circle cx="344.9" cy="223.3" r="0.7" fill="#d08030" opacity="0.47"/>
<circle cx="184.7" cy="374.8" r="0.8" fill="#ffffff" opacity="0.92"/>
<circle cx="179.2" cy="204.9" r="1.2" fill="#ffffff" opacity="0.95"/>
<circle cx="314.1" cy="108.2" r="1.1" fill="#ffe8d0" opacity="0.57"/>
<circle cx="419.8" cy="336.1" r="1.1" fill="#ffe8d0" opacity="0.93"/>
<circle cx="169.2" cy="317.0" r="0.7" fill="#ffffff" opacity="0.74"/>
<circle cx="187.9" cy="325.5" r="1.1" fill="#a04090" opacity="0.58"/>
<circle cx="384.6" cy="473.4" r="0.9" fill="#d08030" opacity="0.84"/>
<circle cx="375.2" cy="176.4" r="0.7" fill="#ffffff" opacity="0.92"/>
<circle cx="255.5" cy="163.2" r="0.9" fill="#e8a040" opacity="0.48"/>
<circle cx="176.1" cy="333.2" r="0.7" fill="#ffffff" opacity="0.85"/>
<circle cx="181.6" cy="89.5" r="0.9" fill="#c060a0" opacity="0.64"/>
<circle cx="430.0" cy="252.9" r="0.7" fill="#e8a040" opacity="0.52"/>
<circle cx="350.7" cy="293.8" r="0.7" fill="#fff0e0" opacity="0.62"/>
<circle cx="233.4" cy="332.2" r="1.0" fill="#c060a0" opacity="0.89"/>
<circle cx="218.6" cy="232.7" r="0.8" fill="#ffffff" opacity="0.56"/>
<circle cx="114.7" cy="339.1" r="0.8" fill="#f0c070" opacity="0.87"/>
<circle cx="215.2" cy="164.1" r="0.8" fill="#f0c070" opacity="0.75"/>
<circle cx="452.5" cy="313.8" r="0.7" fill="#fff0e0" opacity="0.76"/>
<circle cx="183.3" cy="341.3" r="1.1" fill="#a04090" opacity="0.86"/>
<circle cx="280.7" cy="262.7" r="1.2" fill="#e8a040" opacity="0.52"/>
<circle cx="100.2" cy="207.9" r="0.7" fill="#c060a0" opacity="0.49"/>
<circle cx="283.5" cy="220.6" r="1.1" fill="#ffd9a0" opacity="0.75"/>
<circle cx="402.9" cy="153.7" r="1.0" fill="#fff0e0" opacity="0.48"/>
<circle cx="182.6" cy="308.2" r="1.0" fill="#c060a0" opacity="0.59"/>
<circle cx="289.7" cy="422.0" r="0.7" fill="#ffffff" opacity="0.56"/>
<circle cx="233.1" cy="121.5" r="0.7" fill="#d08030" opacity="0.46"/>
<circle cx="468.4" cy="107.7" r="0.8" fill="#ffffff" opacity="0.78"/>
<circle cx="333.9" cy="434.0" r="1.1" fill="#ffffff" opacity="0.64"/>
<circle cx="330.5" cy="189.8" r="0.8" fill="#e8a040" opacity="0.51"/>
<circle cx="249.1" cy="454.6" r="1.1" fill="#ffffff" opacity="0.53"/>
<circle cx="207.2" cy="231.9" r="1.1" fill="#e8a040" opacity="0.91"/>
<circle cx="339.0" cy="458.6" r="0.7" fill="#fff0e0" opacity="0.79"/>
<circle cx="261.6" cy="430.3" r="1.1" fill="#d08030" opacity="0.85"/>
<circle cx="225.6" cy="121.8" r="1.1" fill="#c060a0" opacity="0.75"/>
<circle cx="237.1" cy="439.8" r="0.9" fill="#c060a0" opacity="0.75"/>
<circle cx="199.9" cy="203.2" r="1.2" fill="#ffd9a0" opacity="0.61"/>
<circle cx="164.2" cy="372.0" r="0.7" fill="#fff0e0" opacity="0.58"/>
<circle cx="185.3" cy="275.2" r="0.9" fill="#c060a0" opacity="0.54"/>
<circle cx="260.5" cy="414.6" r="1.0" fill="#a04090" opacity="0.61"/>
<circle cx="295.4" cy="346.9" r="1.0" fill="#ffd9a0" opacity="0.99"/>
<circle cx="221.0" cy="396.9" r="0.8" fill="#f0c070" opacity="0.69"/>
<circle cx="385.1" cy="161.2" r="1.2" fill="#c060a0" opacity="0.72"/>
<circle cx="346.0" cy="240.3" r="0.7" fill="#ffd9a0" opacity="0.62"/>
<circle cx="438.0" cy="178.9" r="1.2" fill="#d08030" opacity="0.72"/>
<circle cx="366.2" cy="231.2" r="0.8" fill="#ffffff" opacity="0.92"/>
<circle cx="165.1" cy="148.3" r="1.0" fill="#a04090" opacity="0.67"/>
<circle cx="482.4" cy="193.5" r="1.1" fill="#c060a0" opacity="0.55"/>
<circle cx="321.8" cy="93.2" r="0.6" fill="#a04090" opacity="0.99"/>
<circle cx="277.1" cy="340.6" r="1.2" fill="#a04090" opacity="0.92"/>
<circle cx="424.0" cy="178.7" r="1.2" fill="#ffffff" opacity="0.90"/>
<circle cx="282.5" cy="417.4" r="1.0" fill="#fff0e0" opacity="0.64"/>
<circle cx="141.7" cy="439.2" r="0.8" fill="#a04090" opacity="0.72"/>
<circle cx="271.2" cy="271.5" r="1.1" fill="#fff0e0" opacity="0.71"/>
<circle cx="133.4" cy="448.8" r="1.0" fill="#ffffff" opacity="0.82"/>
<circle cx="307.8" cy="276.4" r="0.9" fill="#d08030" opacity="1.00"/>
<circle cx="183.7" cy="495.5" r="0.8" fill="#a04090" opacity="0.68"/>
<circle cx="208.7" cy="414.8" r="1.0" fill="#c060a0" opacity="0.50"/>
<circle cx="104.6" cy="108.7" r="1.2" fill="#f0c070" opacity="0.88"/>
<circle cx="140.4" cy="270.7" r="0.8" fill="#c060a0" opacity="0.83"/>
<circle cx="203.3" cy="296.0" r="1.0" fill="#ffffff" opacity="0.95"/>
<circle cx="430.0" cy="123.2" r="0.8" fill="#ffd9a0" opacity="0.69"/>
<circle cx="195.1" cy="232.1" r="0.7" fill="#f0c070" opacity="0.48"/>
<circle cx="111.1" cy="173.3" r="0.7" fill="#ffd9a0" opacity="0.83"/>
<circle cx="475.2" cy="441.9" r="1.2" fill="#ffffff" opacity="0.70"/>
<circle cx="198.9" cy="261.5" r="1.1" fill="#ffd9a0" opacity="0.51"/>
<circle cx="227.4" cy="122.3" r="0.9" fill="#fff0e0" opacity="0.53"/>
<circle cx="248.6" cy="389.3" r="0.7" fill="#ffffff" opacity="0.86"/>
<circle cx="227.6" cy="386.8" r="1.1" fill="#ffd9a0" opacity="0.50"/>
<circle cx="165.4" cy="452.3" r="0.9" fill="#ffe8d0" opacity="0.90"/>
<circle cx="278.8" cy="392.5" r="1.2" fill="#a04090" opacity="0.60"/>
<circle cx="446.0" cy="425.2" r="0.6" fill="#ffe8d0" opacity="0.91"/>
<circle cx="185.7" cy="228.2" r="0.8" fill="#a04090" opacity="0.91"/>
<circle cx="171.8" cy="447.6" r="0.8" fill="#ffffff" opacity="0.74"/>
<circle cx="198.4" cy="400.7" r="1.0" fill="#ffffff" opacity="0.72"/>
<circle cx="297.6" cy="426.1" r="0.6" fill="#a04090" opacity="0.65"/>
<circle cx="176.2" cy="210.0" r="0.7" fill="#e8a040" opacity="0.76"/>
<circle cx="387.5" cy="386.0" r="0.6" fill="#c060a0" opacity="0.87"/>
<circle cx="392.8" cy="116.8" r="0.9" fill="#ffffff" opacity="0.46"/>
<circle cx="208.1" cy="239.8" r="1.1" fill="#ffd9a0" opacity="0.61"/>
<circle cx="295.6" cy="253.2" r="0.9" fill="#fff0e0" opacity="0.71"/>
<circle cx="236.8" cy="372.5" r="1.1" fill="#ffd9a0" opacity="0.87"/>
<circle cx="244.3" cy="395.2" r="1.0" fill="#ffd9a0" opacity="0.59"/>
<circle cx="207.4" cy="415.2" r="0.7" fill="#ffffff" opacity="0.95"/>
<circle cx="268.8" cy="226.3" r="0.6" fill="#a04090" opacity="0.77"/>
<circle cx="106.9" cy="307.2" r="1.2" fill="#fff0e0" opacity="0.70"/>
<circle cx="438.6" cy="316.5" r="0.9" fill="#f0c070" opacity="0.76"/>
<circle cx="332.1" cy="271.8" r="0.9" fill="#a04090" opacity="0.88"/>
<circle cx="259.3" cy="143.1" r="1.0" fill="#e8a040" opacity="0.54"/>
<circle cx="236.9" cy="342.3" r="1.1" fill="#ffffff" opacity="0.91"/>
<circle cx="305.0" cy="337.8" r="0.9" fill="#ffffff" opacity="0.90"/>
<circle cx="378.2" cy="312.4" r="1.2" fill="#e8a040" opacity="0.78"/>
<circle cx="114.6" cy="443.1" r="0.9" fill="#ffd9a0" opacity="0.93"/>
<circle cx="434.1" cy="174.8" r="1.0" fill="#ffe8d0" opacity="0.48"/>
<circle cx="284.7" cy="169.3" r="1.0" fill="#ffffff" opacity="0.92"/>
<circle cx="429.5" cy="121.4" r="0.8" fill="#e8a040" opacity="0.77"/>
<circle cx="477.5" cy="127.0" r="0.9" fill="#ffffff" opacity="0.84"/>
<circle cx="154.3" cy="236.4" r="0.8" fill="#ffe8d0" opacity="0.94"/>
<circle cx="413.1" cy="388.0" r="0.7" fill="#d08030" opacity="0.85"/>
<circle cx="467.4" cy="266.2" r="0.8" fill="#f0c070" opacity="0.54"/>
<circle cx="212.0" cy="194.8" r="1.0" fill="#f0c070" opacity="0.69"/>
<circle cx="449.0" cy="367.5" r="1.1" fill="#f0c070" opacity="0.96"/>
<circle cx="100.1" cy="454.2" r="0.8" fill="#fff0e0" opacity="0.79"/>
<circle cx="289.2" cy="413.9" r="0.9" fill="#e8a040" opacity="0.91"/>
<circle cx="114.8" cy="215.8" r="0.7" fill="#fff0e0" opacity="0.77"/>
<circle cx="195.1" cy="297.1" r="0.8" fill="#ffe8d0" opacity="0.58"/>
<circle cx="375.4" cy="306.2" r="1.0" fill="#ffe8d0" opacity="0.88"/>
<circle cx="382.8" cy="423.0" r="0.6" fill="#fff0e0" opacity="0.55"/>
<circle cx="205.6" cy="257.2" r="0.6" fill="#ffe8d0" opacity="0.74"/>
<circle cx="162.0" cy="125.2" r="0.6" fill="#a04090" opacity="0.53"/>
<circle cx="457.0" cy="182.1" r="0.8" fill="#ffffff" opacity="0.61"/>
<circle cx="223.4" cy="131.4" r="1.0" fill="#ffd9a0" opacity="0.74"/>
<circle cx="382.0" cy="268.4" r="1.2" fill="#f0c070" opacity="0.75"/>
<circle cx="338.1" cy="277.1" r="1.2" fill="#c060a0" opacity="0.70"/>
<circle cx="310.7" cy="90.9" r="0.7" fill="#fff0e0" opacity="0.87"/>
<circle cx="417.4" cy="199.7" r="0.8" fill="#f0c070" opacity="0.71"/>
<circle cx="414.4" cy="368.6" r="0.9" fill="#f0c070" opacity="0.97"/>
<circle cx="415.0" cy="325.0" r="1.0" fill="#fff0e0" opacity="0.50"/>
<circle cx="277.5" cy="355.7" r="0.9" fill="#a04090" opacity="0.58"/>
<circle cx="379.1" cy="381.6" r="0.7" fill="#fff0e0" opacity="0.71"/>
<circle cx="341.4" cy="378.8" r="1.2" fill="#ffffff" opacity="0.66"/>
<circle cx="290.5" cy="416.6" r="0.8" fill="#c060a0" opacity="0.76"/>
<circle cx="441.6" cy="288.8" r="0.6" fill="#a04090" opacity="0.81"/>
<circle cx="343.7" cy="282.2" r="0.6" fill="#ffffff" opacity="0.94"/>
<circle cx="370.2" cy="475.9" r="1.0" fill="#fff0e0" opacity="0.66"/>
<circle cx="287.1" cy="130.9" r="0.7" fill="#ffffff" opacity="0.57"/>
<circle cx="266.5" cy="348.0" r="1.1" fill="#e8a040" opacity="0.48"/>
<circle cx="385.5" cy="383.2" r="0.7" fill="#a04090" opacity="0.52"/>
<circle cx="469.9" cy="407.3" r="0.8" fill="#ffd9a0" opacity="0.50"/>
<circle cx="116.1" cy="171.8" r="0.6" fill="#c060a0" opacity="0.83"/>
<circle cx="479.1" cy="452.5" r="0.7" fill="#fff0e0" opacity="0.47"/>
<circle cx="412.4" cy="332.2" r="1.1" fill="#ffd9a0" opacity="0.93"/>
<circle cx="420.3" cy="496.8" r="1.1" fill="#e8a040" opacity="0.97"/>
<circle cx="433.8" cy="380.9" r="1.0" fill="#d08030" opacity="0.87"/>
<circle cx="250.1" cy="153.4" r="1.1" fill="#f0c070" opacity="0.76"/>
<circle cx="481.4" cy="385.4" r="0.9" fill="#a04090" opacity="0.99"/>
<circle cx="185.8" cy="337.0" r="1.0" fill="#ffe8d0" opacity="0.97"/>
<circle cx="270.5" cy="333.1" r="0.8" fill="#e8a040" opacity="0.70"/>
<circle cx="362.6" cy="461.6" r="1.1" fill="#ffffff" opacity="0.54"/>
<circle cx="160.1" cy="322.6" r="1.1" fill="#ffe8d0" opacity="0.61"/>
<circle cx="117.5" cy="158.5" r="1.1" fill="#c060a0" opacity="0.48"/>
<circle cx="180.3" cy="344.1" r="1.0" fill="#ffffff" opacity="0.65"/>
<circle cx="305.3" cy="255.8" r="0.9" fill="#fff0e0" opacity="0.99"/>
<circle cx="144.6" cy="324.2" r="0.9" fill="#ffffff" opacity="0.76"/>
<circle cx="241.9" cy="289.7" r="0.7" fill="#f0c070" opacity="0.69"/>
<circle cx="236.0" cy="271.9" r="1.1" fill="#d08030" opacity="0.74"/>
<circle cx="491.5" cy="402.0" r="0.6" fill="#ffe8d0" opacity="0.64"/>
<circle cx="207.3" cy="246.8" r="1.1" fill="#d08030" opacity="0.74"/>
<circle cx="294.6" cy="236.3" r="0.7" fill="#e8a040" opacity="0.66"/>
<circle cx="133.0" cy="420.6" r="0.9" fill="#d08030" opacity="0.57"/>
<circle cx="458.0" cy="206.0" r="1.0" fill="#e8a040" opacity="0.46"/>
<circle cx="233.3" cy="356.6" r="1.0" fill="#ffd9a0" opacity="0.85"/>
<circle cx="237.9" cy="235.9" r="0.8" fill="#ffffff" opacity="0.61"/>
<circle cx="242.7" cy="136.3" r="1.1" fill="#fff0e0" opacity="0.78"/>
<circle cx="468.7" cy="272.4" r="0.6" fill="#fff0e0" opacity="0.87"/>
<circle cx="181.5" cy="198.1" r="1.0" fill="#ffffff" opacity="0.77"/>
<circle cx="393.0" cy="229.4" r="0.6" fill="#ffe8d0" opacity="0.71"/>
<circle cx="132.4" cy="336.2" r="1.2" fill="#e8a040" opacity="0.79"/>
<circle cx="143.6" cy="349.0" r="0.6" fill="#ffe8d0" opacity="0.53"/>
</g>
<g filter="url(#blobs)" fill="#fff">
<ellipse cx="139.5" cy="103.9" rx="2.5" ry="2.3"/>
<ellipse cx="250.4" cy="116.4" rx="3.2" ry="2.5"/>
<ellipse cx="252.4" cy="95.4" rx="2.3" ry="2.9"/>
<ellipse cx="292.2" cy="120.4" rx="1.7" ry="1.7"/>
<ellipse cx="246.3" cy="128.5" rx="4.0" ry="2.3"/>
<ellipse cx="159.8" cy="169.1" rx="2.9" ry="2.3"/>
<ellipse cx="172.0" cy="167.1" rx="1.7" ry="1.7"/>
<ellipse cx="112.5" cy="183.3" rx="2.3" ry="2.3"/>
<ellipse cx="180.1" cy="192.1" rx="2.9" ry="2.3"/>
<ellipse cx="205.8" cy="155.6" rx="4.6" ry="2.3"/>
<ellipse cx="277.4" cy="165.0" rx="2.3" ry="2.3"/>
<ellipse cx="274.7" cy="175.8" rx="2.3" ry="1.4"/>
<ellipse cx="254.4" cy="196.1" rx="1.7" ry="1.7"/>
<ellipse cx="262.5" cy="200.2" rx="2.3" ry="2.3"/>
<ellipse cx="273.3" cy="202.9" rx="1.7" ry="1.7"/>
<ellipse cx="147.6" cy="214.4" rx="2.3" ry="3.4"/>
<ellipse cx="143.6" cy="219.1" rx="2.3" ry="1.7"/>
<ellipse cx="167.2" cy="215.0" rx="2.9" ry="2.3"/>
<ellipse cx="189.5" cy="215.0" rx="1.7" ry="3.4"/>
<ellipse cx="101.7" cy="209.6" rx="1.7" ry="1.7"/>
<ellipse cx="116.6" cy="225.2" rx="1.7" ry="1.4"/>
<ellipse cx="201.7" cy="235.3" rx="2.9" ry="2.3"/>
<ellipse cx="276.0" cy="237.3" rx="1.7" ry="1.7"/>
<ellipse cx="288.2" cy="234.6" rx="1.4" ry="1.4"/>
<ellipse cx="293.6" cy="227.2" rx="1.4" ry="1.4"/>
<ellipse cx="109.8" cy="235.3" rx="2.1" ry="2.1"/>
<ellipse cx="112.5" cy="244.8" rx="1.7" ry="1.7"/>
<ellipse cx="139.5" cy="245.4" rx="1.7" ry="1.7"/>
<ellipse cx="124.0" cy="246.8" rx="1.4" ry="1.4"/>
<ellipse cx="144.9" cy="263.7" rx="2.1" ry="1.7"/>
<ellipse cx="238.2" cy="256.9" rx="1.7" ry="1.7"/>
<ellipse cx="104.4" cy="270.4" rx="2.9" ry="2.3"/>
<ellipse cx="132.8" cy="275.8" rx="1.4" ry="1.4"/>
<ellipse cx="196.3" cy="274.5" rx="1.7" ry="1.7"/>
<ellipse cx="242.2" cy="271.1" rx="1.4" ry="1.4"/>
<ellipse cx="270.6" cy="273.1" rx="1.4" ry="1.4"/>
<ellipse cx="188.2" cy="241.4" rx="1.4" ry="1.4"/>
<ellipse cx="180.1" cy="235.3" rx="1.1" ry="1.1"/>
<ellipse cx="261.2" cy="256.9" rx="1.1" ry="1.1"/>
<ellipse cx="154.4" cy="123.8" rx="1.4" ry="1.4"/>
<ellipse cx="158.5" cy="112.3" rx="1.1" ry="1.1"/>
<ellipse cx="207.1" cy="111.0" rx="1.1" ry="1.1"/>
<ellipse cx="278.7" cy="118.4" rx="1.1" ry="1.1"/>
<ellipse cx="288.2" cy="154.9" rx="1.1" ry="1.1"/>
<ellipse cx="213.9" cy="90.7" rx="0.9" ry="0.9"/>
<ellipse cx="390.9" cy="92.7" rx="8.0" ry="2.3"/>
<ellipse cx="435.5" cy="92.7" rx="3.4" ry="2.3"/>
<ellipse cx="317.9" cy="104.2" rx="2.1" ry="2.1"/>
<ellipse cx="309.1" cy="107.6" rx="2.1" ry="2.1"/>
<ellipse cx="332.8" cy="101.5" rx="2.3" ry="3.4"/>
<ellipse cx="343.6" cy="108.3" rx="2.3" ry="2.1"/>
<ellipse cx="362.5" cy="124.5" rx="2.9" ry="2.3"/>
<ellipse cx="319.3" cy="128.5" rx="2.3" ry="1.7"/>
<ellipse cx="421.3" cy="111.6" rx="1.7" ry="1.7"/>
<ellipse cx="316.6" cy="149.5" rx="3.4" ry="2.5"/>
<ellipse cx="344.3" cy="152.9" rx="2.5" ry="2.1"/>
<ellipse cx="420.6" cy="144.8" rx="4.0" ry="2.3"/>
<ellipse cx="463.9" cy="141.4" rx="4.6" ry="2.3"/>
<ellipse cx="363.9" cy="150.8" rx="2.1" ry="2.1"/>
<ellipse cx="406.4" cy="168.4" rx="2.5" ry="2.3"/>
<ellipse cx="388.2" cy="173.1" rx="1.7" ry="1.7"/>
<ellipse cx="380.1" cy="178.5" rx="2.1" ry="1.7"/>
<ellipse cx="488.2" cy="181.9" rx="1.7" ry="1.7"/>
<ellipse cx="444.9" cy="198.8" rx="3.4" ry="2.5"/>
<ellipse cx="484.1" cy="196.1" rx="2.3" ry="2.3"/>
<ellipse cx="493.6" cy="202.9" rx="2.1" ry="2.9"/>
<ellipse cx="482.8" cy="206.9" rx="1.7" ry="1.7"/>
<ellipse cx="361.2" cy="205.6" rx="2.5" ry="2.5"/>
<ellipse cx="342.2" cy="196.1" rx="1.7" ry="1.7"/>
<ellipse cx="376.7" cy="191.4" rx="1.4" ry="1.4"/>
<ellipse cx="426.0" cy="221.8" rx="2.9" ry="2.5"/>
<ellipse cx="376.0" cy="243.4" rx="2.3" ry="4.0"/>
<ellipse cx="359.1" cy="233.3" rx="2.1" ry="2.1"/>
<ellipse cx="417.9" cy="252.2" rx="1.7" ry="1.7"/>
<ellipse cx="324.7" cy="245.4" rx="1.7" ry="1.7"/>
<ellipse cx="347.6" cy="271.1" rx="2.3" ry="4.6" transform="rotate(-20 347.6 271.1)"/>
<ellipse cx="334.1" cy="274.5" rx="2.1" ry="2.1"/>
<ellipse cx="390.9" cy="281.2" rx="2.1" ry="1.7"/>
<ellipse cx="309.1" cy="267.7" rx="2.3" ry="4.6"/>
<ellipse cx="494.9" cy="244.8" rx="1.7" ry="2.3"/>
<ellipse cx="449.0" cy="253.5" rx="1.4" ry="1.4"/>
<ellipse cx="491.6" cy="96.1" rx="2.3" ry="2.9"/>
<ellipse cx="104.4" cy="299.5" rx="2.5" ry="2.3"/>
<ellipse cx="102.4" cy="313.0" rx="2.3" ry="4.0"/>
<ellipse cx="105.8" cy="306.9" rx="2.1" ry="2.1"/>
<ellipse cx="140.9" cy="290.0" rx="3.4" ry="2.3"/>
<ellipse cx="109.8" cy="324.5" rx="2.1" ry="2.1"/>
<ellipse cx="236.2" cy="318.4" rx="2.5" ry="2.3"/>
<ellipse cx="215.2" cy="315.7" rx="2.3" ry="2.3"/>
<ellipse cx="140.9" cy="356.2" rx="2.3" ry="1.7"/>
<ellipse cx="190.9" cy="382.6" rx="4.6" ry="2.3"/>
<ellipse cx="139.5" cy="367.7" rx="5.7" ry="2.5" transform="rotate(-40 139.5 367.7)"/>
<ellipse cx="142.2" cy="374.5" rx="2.3" ry="2.9"/>
<ellipse cx="286.8" cy="388.0" rx="3.4" ry="2.3"/>
<ellipse cx="277.4" cy="406.9" rx="4.6" ry="2.5"/>
<ellipse cx="196.3" cy="415.0" rx="2.9" ry="2.1"/>
<ellipse cx="249.0" cy="458.3" rx="2.3" ry="4.6"/>
<ellipse cx="184.1" cy="475.2" rx="1.7" ry="2.3"/>
<ellipse cx="272.6" cy="475.2" rx="1.7" ry="1.7"/>
<ellipse cx="193.6" cy="479.9" rx="1.7" ry="1.7"/>
<ellipse cx="274.7" cy="376.5" rx="1.4" ry="1.4"/>
<ellipse cx="261.8" cy="372.5" rx="1.1" ry="1.1"/>
<ellipse cx="116.6" cy="394.8" rx="1.4" ry="1.4"/>
<ellipse cx="142.9" cy="392.7" rx="1.4" ry="1.4"/>
<ellipse cx="105.8" cy="358.3" rx="1.1" ry="1.1"/>
<ellipse cx="124.7" cy="361.6" rx="1.4" ry="1.7"/>
<ellipse cx="211.2" cy="429.9" rx="1.4" ry="1.4"/>
<ellipse cx="285.5" cy="456.2" rx="1.1" ry="1.1"/>
<ellipse cx="189.5" cy="448.8" rx="1.4" ry="1.4"/>
<ellipse cx="303.1" cy="290.0" rx="4.0" ry="2.3"/>
<ellipse cx="374.0" cy="298.8" rx="2.5" ry="2.3"/>
<ellipse cx="486.2" cy="304.9" rx="2.1" ry="2.1"/>
<ellipse cx="447.6" cy="332.6" rx="3.4" ry="2.3"/>
<ellipse cx="372.6" cy="346.8" rx="2.9" ry="2.3"/>
<ellipse cx="381.4" cy="351.5" rx="2.5" ry="2.1"/>
<ellipse cx="346.3" cy="353.5" rx="1.7" ry="1.7"/>
<ellipse cx="336.8" cy="368.4" rx="2.5" ry="2.3"/>
<ellipse cx="326.0" cy="374.5" rx="2.3" ry="2.3"/>
<ellipse cx="388.2" cy="388.7" rx="2.9" ry="2.1"/>
<ellipse cx="345.6" cy="397.5" rx="2.5" ry="4.0"/>
<ellipse cx="322.0" cy="399.5" rx="2.1" ry="1.7"/>
<ellipse cx="371.3" cy="404.9" rx="2.3" ry="2.1"/>
<ellipse cx="413.2" cy="399.5" rx="2.9" ry="1.7"/>
<ellipse cx="468.6" cy="354.9" rx="2.9" ry="2.5"/>
<ellipse cx="488.2" cy="385.3" rx="2.3" ry="3.4"/>
<ellipse cx="493.6" cy="425.8" rx="2.3" ry="4.0"/>
<ellipse cx="451.7" cy="447.5" rx="2.3" ry="2.3"/>
<ellipse cx="378.7" cy="433.9" rx="2.3" ry="2.9"/>
<ellipse cx="436.2" cy="410.3" rx="1.7" ry="1.7"/>
<ellipse cx="415.9" cy="417.7" rx="1.7" ry="1.7"/>
<ellipse cx="304.4" cy="463.7" rx="2.3" ry="2.3"/>
<ellipse cx="340.9" cy="467.7" rx="2.3" ry="3.4"/>
<ellipse cx="343.6" cy="478.5" rx="2.3" ry="4.0"/>
<ellipse cx="369.3" cy="454.9" rx="2.1" ry="2.1"/>
<ellipse cx="434.1" cy="460.3" rx="4.0" ry="2.3"/>
<ellipse cx="451.7" cy="471.1" rx="4.6" ry="2.5"/>
<ellipse cx="439.5" cy="473.8" rx="2.3" ry="2.1"/>
<ellipse cx="494.9" cy="342.1" rx="1.1" ry="1.7"/>
<ellipse cx="308.5" cy="437.3" rx="1.4" ry="2.3"/>
<ellipse cx="357.8" cy="396.1" rx="1.1" ry="1.1"/>
<ellipse cx="449.0" cy="375.8" rx="1.7" ry="1.7"/>
<ellipse cx="455.8" cy="362.3" rx="1.1" ry="1.1"/>
<ellipse cx="394.3" cy="303.5" rx="1.7" ry="1.7"/>
</g>
<g filter="url(#blobm_a)" fill="#fff">
<ellipse cx="151.0" cy="96.4" rx="6.9" ry="4.8"/>
<ellipse cx="123.3" cy="108.9" rx="4.8" ry="3.9"/>
<ellipse cx="119.3" cy="127.9" rx="4.8" ry="3.5"/>
<ellipse cx="194.9" cy="94.1" rx="3.5" ry="4.8"/>
<ellipse cx="225.4" cy="116.4" rx="3.5" ry="3.5"/>
<ellipse cx="234.1" cy="122.5" rx="6.2" ry="3.5"/>
<ellipse cx="262.5" cy="93.4" rx="5.5" ry="4.2"/>
<ellipse cx="287.5" cy="108.3" rx="7.5" ry="4.8"/>
<ellipse cx="137.5" cy="142.1" rx="9.6" ry="4.8"/>
<ellipse cx="182.1" cy="140.0" rx="8.2" ry="3.5"/>
<ellipse cx="103.1" cy="147.5" rx="3.5" ry="4.8"/>
<ellipse cx="107.1" cy="163.7" rx="5.5" ry="5.5"/>
<ellipse cx="129.4" cy="188.0" rx="3.5" ry="4.8"/>
<ellipse cx="155.8" cy="196.1" rx="10.2" ry="5.5"/>
<ellipse cx="239.5" cy="151.5" rx="5.5" ry="8.2"/>
<ellipse cx="257.1" cy="151.5" rx="3.5" ry="5.5"/>
<ellipse cx="263.9" cy="163.7" rx="4.8" ry="4.2"/>
<ellipse cx="216.6" cy="177.2" rx="8.9" ry="5.5"/>
<ellipse cx="258.5" cy="179.9" rx="5.5" ry="4.2"/>
<ellipse cx="201.7" cy="194.8" rx="13.6" ry="4.2"/>
<ellipse cx="211.2" cy="190.7" rx="6.9" ry="5.5"/>
<ellipse cx="223.3" cy="200.2" rx="5.5" ry="6.9"/>
<ellipse cx="238.2" cy="196.1" rx="3.5" ry="6.9"/>
<ellipse cx="185.5" cy="202.9" rx="4.2" ry="4.8"/>
<ellipse cx="207.1" cy="206.9" rx="4.8" ry="3.5"/>
<ellipse cx="231.4" cy="211.0" rx="4.2" ry="6.2"/>
<ellipse cx="294.9" cy="167.1" rx="4.8" ry="4.2"/>
<ellipse cx="297.6" cy="178.5" rx="3.5" ry="6.9"/>
<ellipse cx="105.8" cy="219.8" rx="6.2" ry="4.8"/>
<ellipse cx="127.4" cy="221.1" rx="4.8" ry="3.5"/>
<ellipse cx="135.5" cy="206.9" rx="3.5" ry="5.5"/>
<ellipse cx="211.2" cy="231.2" rx="4.8" ry="7.5"/>
<ellipse cx="226.0" cy="224.5" rx="4.2" ry="4.8"/>
<ellipse cx="220.6" cy="236.6" rx="4.2" ry="3.5"/>
<ellipse cx="228.7" cy="239.4" rx="3.5" ry="3.5"/>
<ellipse cx="203.1" cy="246.1" rx="5.5" ry="4.2"/>
<ellipse cx="199.0" cy="251.5" rx="4.2" ry="3.5"/>
<ellipse cx="213.9" cy="240.7" rx="3.5" ry="3.5"/>
<ellipse cx="107.1" cy="252.2" rx="6.2" ry="4.2"/>
<ellipse cx="170.6" cy="274.5" rx="7.5" ry="4.2"/>
<ellipse cx="219.3" cy="278.5" rx="10.9" ry="5.5" transform="rotate(15 219.3 278.5)"/>
<ellipse cx="296.3" cy="254.2" rx="4.2" ry="4.2"/>
<ellipse cx="104.4" cy="282.6" rx="5.5" ry="4.8"/>
<ellipse cx="309.8" cy="93.4" rx="10.2" ry="4.2"/>
<ellipse cx="330.1" cy="115.7" rx="4.2" ry="3.5"/>
<ellipse cx="338.2" cy="124.5" rx="5.5" ry="4.2"/>
<ellipse cx="378.7" cy="115.0" rx="8.2" ry="5.5"/>
<ellipse cx="439.5" cy="111.0" rx="10.9" ry="5.5" transform="rotate(20 439.5 111.0)"/>
<ellipse cx="447.6" cy="120.4" rx="12.3" ry="4.8" transform="rotate(20 447.6 120.4)"/>
<ellipse cx="465.2" cy="100.2" rx="5.5" ry="4.2"/>
<ellipse cx="474.7" cy="119.8" rx="4.2" ry="3.9"/>
<ellipse cx="442.2" cy="128.5" rx="10.9" ry="3.5"/>
<ellipse cx="407.1" cy="128.5" rx="12.3" ry="3.5"/>
<ellipse cx="331.4" cy="145.4" rx="11.6" ry="5.5"/>
<ellipse cx="404.4" cy="142.1" rx="8.2" ry="4.2"/>
<ellipse cx="377.4" cy="158.9" rx="5.5" ry="3.5" transform="rotate(45 377.4 158.9)"/>
<ellipse cx="394.9" cy="158.3" rx="3.5" ry="4.2"/>
<ellipse cx="416.6" cy="186.6" rx="8.9" ry="5.8"/>
<ellipse cx="434.1" cy="181.9" rx="5.5" ry="4.2"/>
<ellipse cx="451.7" cy="182.6" rx="10.9" ry="4.8"/>
<ellipse cx="472.0" cy="175.8" rx="9.6" ry="4.8"/>
<ellipse cx="457.1" cy="202.2" rx="3.9" ry="3.5"/>
<ellipse cx="349.0" cy="212.3" rx="8.9" ry="5.2"/>
<ellipse cx="372.6" cy="202.2" rx="6.9" ry="4.8"/>
<ellipse cx="411.2" cy="211.6" rx="6.9" ry="4.8"/>
<ellipse cx="405.8" cy="221.1" rx="6.9" ry="5.2"/>
<ellipse cx="447.6" cy="218.4" rx="4.8" ry="3.9"/>
<ellipse cx="470.6" cy="219.8" rx="6.9" ry="4.8"/>
<ellipse cx="438.2" cy="225.2" rx="3.5" ry="3.5"/>
<ellipse cx="372.0" cy="233.9" rx="4.8" ry="4.2"/>
<ellipse cx="390.9" cy="238.0" rx="4.2" ry="4.2"/>
<ellipse cx="305.8" cy="230.6" rx="4.8" ry="3.5"/>
<ellipse cx="459.8" cy="237.3" rx="4.8" ry="3.5"/>
<ellipse cx="335.5" cy="254.9" rx="8.2" ry="5.8"/>
<ellipse cx="358.5" cy="249.5" rx="5.8" ry="4.2"/>
<ellipse cx="404.4" cy="245.4" rx="6.9" ry="4.4"/>
<ellipse cx="426.0" cy="248.1" rx="4.4" ry="3.9"/>
<ellipse cx="435.5" cy="260.3" rx="7.5" ry="4.8"/>
<ellipse cx="474.7" cy="258.3" rx="7.5" ry="5.5"/>
<ellipse cx="469.3" cy="263.7" rx="6.9" ry="4.2"/>
<ellipse cx="476.0" cy="269.1" rx="4.8" ry="4.2"/>
<ellipse cx="478.7" cy="276.5" rx="10.9" ry="5.5"/>
<ellipse cx="361.2" cy="266.4" rx="5.5" ry="4.8"/>
<ellipse cx="387.5" cy="271.1" rx="7.5" ry="4.8"/>
<ellipse cx="426.0" cy="275.8" rx="4.8" ry="4.8"/>
<ellipse cx="434.1" cy="282.6" rx="4.2" ry="5.5"/>
<ellipse cx="407.1" cy="277.2" rx="3.5" ry="8.2" transform="rotate(-15 407.1 277.2)"/>
<ellipse cx="115.2" cy="297.5" rx="7.5" ry="4.8"/>
<ellipse cx="124.7" cy="308.9" rx="5.2" ry="4.2"/>
<ellipse cx="142.2" cy="319.1" rx="4.8" ry="3.5"/>
<ellipse cx="151.0" cy="325.2" rx="3.5" ry="3.5"/>
<ellipse cx="178.1" cy="318.4" rx="5.5" ry="3.9"/>
<ellipse cx="181.4" cy="327.9" rx="3.5" ry="3.5"/>
<ellipse cx="189.5" cy="309.6" rx="5.5" ry="5.5"/>
<ellipse cx="199.0" cy="326.5" rx="5.5" ry="6.9"/>
<ellipse cx="133.5" cy="336.0" rx="8.2" ry="4.2"/>
<ellipse cx="166.6" cy="342.1" rx="8.2" ry="4.2"/>
<ellipse cx="181.4" cy="346.1" rx="4.2" ry="4.2"/>
<ellipse cx="224.7" cy="294.8" rx="9.6" ry="3.5"/>
<ellipse cx="253.7" cy="296.8" rx="6.9" ry="5.5"/>
<ellipse cx="249.0" cy="315.7" rx="6.2" ry="3.9"/>
<ellipse cx="246.3" cy="333.9" rx="6.6" ry="4.8"/>
<ellipse cx="263.2" cy="340.0" rx="6.2" ry="3.9"/>
<ellipse cx="294.3" cy="332.6" rx="4.2" ry="6.2"/>
<ellipse cx="294.9" cy="344.8" rx="5.5" ry="4.2"/>
<ellipse cx="174.7" cy="360.3" rx="4.8" ry="3.5"/>
<ellipse cx="169.3" cy="369.8" rx="8.2" ry="4.8"/>
<ellipse cx="155.1" cy="376.5" rx="5.5" ry="3.5"/>
<ellipse cx="180.1" cy="377.2" rx="5.5" ry="3.5"/>
<ellipse cx="127.4" cy="385.3" rx="5.5" ry="5.5"/>
<ellipse cx="242.2" cy="366.4" rx="3.5" ry="5.5"/>
<ellipse cx="217.9" cy="375.8" rx="4.2" ry="6.2"/>
<ellipse cx="257.1" cy="397.5" rx="4.8" ry="6.9"/>
<ellipse cx="274.7" cy="386.6" rx="8.2" ry="3.5" transform="rotate(-20 274.7 386.6)"/>
<ellipse cx="296.3" cy="412.3" rx="4.8" ry="3.5"/>
<ellipse cx="289.5" cy="422.5" rx="5.2" ry="4.2"/>
<ellipse cx="203.1" cy="409.6" rx="3.5" ry="3.5"/>
<ellipse cx="116.6" cy="419.8" rx="6.9" ry="4.2"/>
<ellipse cx="157.8" cy="428.5" rx="6.9" ry="5.8"/>
<ellipse cx="172.0" cy="438.0" rx="5.5" ry="3.9"/>
<ellipse cx="128.7" cy="435.3" rx="6.9" ry="5.5"/>
<ellipse cx="269.3" cy="433.9" rx="5.5" ry="5.5"/>
<ellipse cx="234.1" cy="446.1" rx="5.5" ry="4.2"/>
<ellipse cx="249.0" cy="447.5" rx="4.2" ry="5.5"/>
<ellipse cx="226.7" cy="454.2" rx="3.5" ry="4.2"/>
<ellipse cx="261.2" cy="443.4" rx="4.2" ry="4.2"/>
<ellipse cx="107.1" cy="469.1" rx="6.9" ry="5.5"/>
<ellipse cx="385.5" cy="294.1" rx="7.5" ry="4.8"/>
<ellipse cx="342.2" cy="299.5" rx="3.5" ry="3.5"/>
<ellipse cx="440.9" cy="305.6" rx="5.5" ry="8.2"/>
<ellipse cx="459.8" cy="302.9" rx="4.8" ry="12.3" transform="rotate(15 459.8 302.9)"/>
<ellipse cx="383.5" cy="318.4" rx="6.2" ry="4.2"/>
<ellipse cx="414.5" cy="318.4" rx="9.6" ry="4.2"/>
<ellipse cx="472.0" cy="324.5" rx="8.9" ry="4.2"/>
<ellipse cx="407.1" cy="332.6" rx="5.5" ry="4.2"/>
<ellipse cx="416.6" cy="336.6" rx="3.5" ry="3.5"/>
<ellipse cx="307.1" cy="348.8" rx="8.2" ry="4.8" transform="rotate(45 307.1 348.8)"/>
<ellipse cx="415.2" cy="359.6" rx="6.9" ry="5.5"/>
<ellipse cx="412.5" cy="371.8" rx="5.5" ry="6.9"/>
<ellipse cx="374.0" cy="369.8" rx="10.9" ry="5.5"/>
<ellipse cx="400.4" cy="380.6" rx="3.5" ry="4.8"/>
<ellipse cx="426.0" cy="393.4" rx="4.2" ry="3.9"/>
<ellipse cx="378.7" cy="385.3" rx="3.5" ry="3.5"/>
<ellipse cx="484.1" cy="369.1" rx="4.2" ry="3.5"/>
<ellipse cx="480.1" cy="381.2" rx="4.2" ry="9.6"/>
<ellipse cx="481.4" cy="400.2" rx="8.2" ry="5.5"/>
<ellipse cx="476.0" cy="425.8" rx="3.5" ry="9.6"/>
<ellipse cx="469.3" cy="447.5" rx="6.9" ry="5.5"/>
<ellipse cx="301.7" cy="413.0" rx="5.5" ry="4.2"/>
<ellipse cx="326.7" cy="413.0" rx="11.6" ry="5.2"/>
<ellipse cx="316.6" cy="450.2" rx="3.5" ry="5.5"/>
<ellipse cx="334.1" cy="456.2" rx="8.2" ry="4.8"/>
<ellipse cx="312.5" cy="469.1" rx="5.5" ry="3.5"/>
<ellipse cx="385.5" cy="463.7" rx="4.8" ry="3.5"/>
<ellipse cx="381.4" cy="475.8" rx="4.2" ry="4.2"/>
<ellipse cx="396.3" cy="478.5" rx="6.9" ry="5.5"/>
<ellipse cx="415.2" cy="478.5" rx="9.6" ry="4.8"/>
</g>
<g filter="url(#blobl_a)" fill="#fff">
<ellipse cx="109.8" cy="119.8" rx="9.0" ry="7.6"/>
<ellipse cx="180.1" cy="119.1" rx="11.7" ry="9.7"/>
<ellipse cx="186.8" cy="109.6" rx="7.6" ry="6.3"/>
<ellipse cx="224.7" cy="147.5" rx="11.7" ry="7.6"/>
<ellipse cx="230.1" cy="167.7" rx="7.6" ry="6.3"/>
<ellipse cx="251.7" cy="166.4" rx="7.0" ry="8.3"/>
<ellipse cx="236.8" cy="182.6" rx="15.1" ry="7.0"/>
<ellipse cx="274.7" cy="213.7" rx="9.0" ry="9.7"/>
<ellipse cx="251.7" cy="215.0" rx="8.3" ry="6.3"/>
<ellipse cx="220.6" cy="248.8" rx="9.0" ry="6.3"/>
<ellipse cx="242.9" cy="246.1" rx="6.3" ry="6.3"/>
<ellipse cx="168.6" cy="261.0" rx="8.3" ry="6.3"/>
<ellipse cx="286.8" cy="265.0" rx="11.0" ry="7.0" transform="rotate(20 286.8 265.0)"/>
<ellipse cx="458.5" cy="104.2" rx="7.0" ry="8.3"/>
<ellipse cx="485.5" cy="154.9" rx="13.0" ry="6.3"/>
<ellipse cx="312.5" cy="179.9" rx="16.4" ry="13.0"/>
<ellipse cx="473.3" cy="193.4" rx="7.0" ry="7.0"/>
<ellipse cx="326.0" cy="206.2" rx="13.7" ry="9.0"/>
<ellipse cx="372.6" cy="224.5" rx="11.0" ry="7.6"/>
<ellipse cx="308.5" cy="253.5" rx="12.4" ry="7.6"/>
<ellipse cx="363.2" cy="283.3" rx="11.7" ry="6.3"/>
<ellipse cx="167.9" cy="298.1" rx="9.0" ry="7.0"/>
<ellipse cx="200.4" cy="348.8" rx="13.0" ry="6.3"/>
<ellipse cx="281.4" cy="304.2" rx="15.1" ry="11.0"/>
<ellipse cx="281.4" cy="351.5" rx="15.7" ry="7.0" transform="rotate(-15 281.4 351.5)"/>
<ellipse cx="227.4" cy="366.4" rx="10.3" ry="8.3"/>
<ellipse cx="220.6" cy="389.4" rx="13.0" ry="6.3"/>
<ellipse cx="238.2" cy="398.8" rx="10.3" ry="9.0" transform="rotate(30 238.2 398.8)"/>
<ellipse cx="220.6" cy="409.6" rx="9.7" ry="7.0"/>
<ellipse cx="165.2" cy="411.6" rx="11.7" ry="8.3"/>
<ellipse cx="115.2" cy="450.2" rx="15.1" ry="9.7"/>
<ellipse cx="239.5" cy="423.1" rx="12.4" ry="6.3"/>
<ellipse cx="254.4" cy="435.3" rx="11.0" ry="8.3"/>
<ellipse cx="186.8" cy="461.0" rx="17.8" ry="7.6"/>
<ellipse cx="162.5" cy="465.0" rx="15.1" ry="6.3"/>
<ellipse cx="124.7" cy="478.5" rx="16.4" ry="6.3" transform="rotate(10 124.7 478.5)"/>
<ellipse cx="431.4" cy="294.1" rx="11.7" ry="7.6" transform="rotate(30 431.4 294.1)"/>
<ellipse cx="321.3" cy="319.1" rx="13.0" ry="7.0"/>
<ellipse cx="313.9" cy="331.2" rx="13.7" ry="7.6"/>
<ellipse cx="362.5" cy="319.8" rx="11.0" ry="6.3"/>
<ellipse cx="315.2" cy="370.4" rx="6.3" ry="8.3"/>
<ellipse cx="404.4" cy="351.5" rx="10.3" ry="7.6"/>
<ellipse cx="393.6" cy="363.7" rx="9.7" ry="6.3"/>
<ellipse cx="423.3" cy="378.5" rx="13.0" ry="7.0"/>
<ellipse cx="469.3" cy="412.3" rx="16.4" ry="6.3"/>
<ellipse cx="367.9" cy="423.1" rx="23.2" ry="8.3"/>
<ellipse cx="353.1" cy="438.7" rx="12.4" ry="7.0"/>
<ellipse cx="423.3" cy="437.3" rx="14.4" ry="8.3"/>
<ellipse cx="325.4" cy="478.5" rx="14.4" ry="7.0"/>
<ellipse cx="488.2" cy="465.0" rx="7.6" ry="6.3"/>
</g>
</g>
<g clip-path="url(#clip_b)">
<rect x="755.7" y="86.8" width="392.3" height="389.8" fill="#000"/>
<g filter="url(#spk)">
<circle cx="810.8" cy="96.0" r="0.7" fill="#a04090" opacity="0.52"/>
<circle cx="794.9" cy="388.4" r="1.2" fill="#f0c070" opacity="0.63"/>
<circle cx="1055.6" cy="318.0" r="1.0" fill="#e8a040" opacity="0.62"/>
<circle cx="750.1" cy="234.3" r="0.6" fill="#fff0e0" opacity="0.63"/>
<circle cx="1090.0" cy="92.0" r="0.7" fill="#ffffff" opacity="0.90"/>
<circle cx="1069.8" cy="99.4" r="0.9" fill="#e8a040" opacity="0.59"/>
<circle cx="980.2" cy="333.8" r="0.8" fill="#c060a0" opacity="0.66"/>
<circle cx="867.9" cy="307.0" r="0.9" fill="#ffffff" opacity="0.82"/>
<circle cx="912.5" cy="195.9" r="0.9" fill="#ffd9a0" opacity="0.67"/>
<circle cx="1129.2" cy="286.4" r="0.6" fill="#d08030" opacity="0.70"/>
<circle cx="752.1" cy="146.5" r="1.1" fill="#ffe8d0" opacity="0.80"/>
<circle cx="905.4" cy="116.2" r="1.0" fill="#ffffff" opacity="0.51"/>
<circle cx="803.3" cy="246.2" r="0.6" fill="#a04090" opacity="0.52"/>
<circle cx="890.8" cy="233.2" r="0.9" fill="#a04090" opacity="0.49"/>
<circle cx="772.7" cy="229.7" r="0.6" fill="#ffd9a0" opacity="0.73"/>
<circle cx="774.1" cy="394.6" r="0.9" fill="#fff0e0" opacity="0.60"/>
<circle cx="1113.8" cy="97.8" r="0.9" fill="#ffffff" opacity="0.72"/>
<circle cx="789.9" cy="152.1" r="1.0" fill="#a04090" opacity="0.67"/>
<circle cx="1029.8" cy="460.7" r="1.1" fill="#d08030" opacity="0.79"/>
<circle cx="971.5" cy="418.4" r="0.9" fill="#d08030" opacity="0.59"/>
<circle cx="1110.7" cy="263.3" r="0.7" fill="#fff0e0" opacity="0.94"/>
<circle cx="936.2" cy="109.0" r="0.6" fill="#f0c070" opacity="0.72"/>
<circle cx="832.5" cy="105.9" r="1.1" fill="#a04090" opacity="0.58"/>
<circle cx="891.4" cy="255.7" r="1.0" fill="#e8a040" opacity="0.78"/>
<circle cx="868.9" cy="405.8" r="0.7" fill="#f0c070" opacity="0.60"/>
<circle cx="1054.8" cy="435.8" r="1.2" fill="#c060a0" opacity="0.55"/>
<circle cx="931.3" cy="155.1" r="1.0" fill="#ffffff" opacity="0.50"/>
<circle cx="888.4" cy="108.0" r="1.2" fill="#ffffff" opacity="0.53"/>
<circle cx="809.2" cy="97.6" r="0.7" fill="#e8a040" opacity="0.73"/>
<circle cx="933.3" cy="127.0" r="0.8" fill="#c060a0" opacity="0.62"/>
<circle cx="956.2" cy="313.3" r="0.8" fill="#ffffff" opacity="0.98"/>
<circle cx="1040.9" cy="438.2" r="1.0" fill="#ffffff" opacity="0.63"/>
<circle cx="1027.4" cy="245.6" r="0.8" fill="#ffe8d0" opacity="0.46"/>
<circle cx="832.3" cy="180.6" r="0.7" fill="#c060a0" opacity="0.61"/>
<circle cx="900.1" cy="240.7" r="0.7" fill="#ffffff" opacity="0.79"/>
<circle cx="1110.2" cy="267.8" r="0.9" fill="#f0c070" opacity="0.57"/>
<circle cx="1027.1" cy="225.7" r="0.6" fill="#a04090" opacity="1.00"/>
<circle cx="800.2" cy="274.2" r="0.9" fill="#c060a0" opacity="0.49"/>
<circle cx="909.2" cy="398.0" r="0.9" fill="#a04090" opacity="0.75"/>
<circle cx="1062.3" cy="345.9" r="0.7" fill="#ffe8d0" opacity="0.83"/>
<circle cx="800.9" cy="415.5" r="0.7" fill="#ffd9a0" opacity="0.71"/>
<circle cx="803.9" cy="241.2" r="1.1" fill="#fff0e0" opacity="0.75"/>
<circle cx="1085.9" cy="135.0" r="0.9" fill="#d08030" opacity="0.84"/>
<circle cx="1017.6" cy="262.7" r="0.8" fill="#d08030" opacity="0.93"/>
<circle cx="844.1" cy="293.4" r="0.9" fill="#f0c070" opacity="0.78"/>
<circle cx="1018.6" cy="248.3" r="1.2" fill="#ffe8d0" opacity="0.52"/>
<circle cx="892.3" cy="232.7" r="0.6" fill="#c060a0" opacity="0.78"/>
<circle cx="789.9" cy="228.1" r="0.8" fill="#ffffff" opacity="0.51"/>
<circle cx="1002.5" cy="249.7" r="0.7" fill="#ffe8d0" opacity="0.97"/>
<circle cx="958.3" cy="135.8" r="0.9" fill="#ffd9a0" opacity="0.55"/>
<circle cx="1106.1" cy="436.5" r="0.9" fill="#ffffff" opacity="0.83"/>
<circle cx="1071.8" cy="178.1" r="1.0" fill="#e8a040" opacity="0.65"/>
<circle cx="1005.4" cy="444.4" r="1.2" fill="#ffe8d0" opacity="0.87"/>
<circle cx="1004.4" cy="340.5" r="0.9" fill="#fff0e0" opacity="0.53"/>
<circle cx="1119.0" cy="286.1" r="1.0" fill="#e8a040" opacity="0.75"/>
<circle cx="869.9" cy="127.4" r="0.8" fill="#ffd9a0" opacity="0.47"/>
<circle cx="1006.6" cy="213.0" r="1.2" fill="#c060a0" opacity="1.00"/>
<circle cx="1022.5" cy="368.2" r="0.9" fill="#c060a0" opacity="0.54"/>
<circle cx="788.3" cy="273.5" r="1.0" fill="#a04090" opacity="0.62"/>
<circle cx="1135.2" cy="272.5" r="1.2" fill="#a04090" opacity="0.53"/>
<circle cx="958.6" cy="280.4" r="1.1" fill="#f0c070" opacity="0.65"/>
<circle cx="1074.1" cy="444.6" r="0.9" fill="#a04090" opacity="0.94"/>
<circle cx="829.0" cy="157.4" r="1.1" fill="#e8a040" opacity="0.91"/>
<circle cx="796.9" cy="406.8" r="1.2" fill="#ffe8d0" opacity="0.54"/>
<circle cx="1029.4" cy="225.4" r="0.7" fill="#d08030" opacity="0.93"/>
<circle cx="919.3" cy="253.7" r="1.1" fill="#ffffff" opacity="0.83"/>
<circle cx="1132.7" cy="266.8" r="0.9" fill="#d08030" opacity="0.57"/>
<circle cx="916.8" cy="255.2" r="1.2" fill="#ffd9a0" opacity="0.58"/>
<circle cx="981.4" cy="404.7" r="0.9" fill="#ffd9a0" opacity="0.87"/>
<circle cx="783.8" cy="121.4" r="1.1" fill="#a04090" opacity="0.68"/>
<circle cx="1037.4" cy="430.1" r="0.6" fill="#f0c070" opacity="0.54"/>
<circle cx="1133.9" cy="334.5" r="0.8" fill="#ffffff" opacity="0.99"/>
<circle cx="863.3" cy="345.7" r="0.6" fill="#ffffff" opacity="0.82"/>
<circle cx="1038.6" cy="485.6" r="0.9" fill="#d08030" opacity="0.73"/>
<circle cx="1103.7" cy="426.3" r="0.7" fill="#ffffff" opacity="0.87"/>
<circle cx="883.7" cy="317.5" r="0.8" fill="#d08030" opacity="0.60"/>
<circle cx="806.7" cy="259.3" r="0.8" fill="#ffe8d0" opacity="0.49"/>
<circle cx="1134.7" cy="396.4" r="0.9" fill="#d08030" opacity="0.54"/>
<circle cx="794.1" cy="148.3" r="1.1" fill="#ffffff" opacity="0.58"/>
<circle cx="902.0" cy="159.9" r="0.9" fill="#a04090" opacity="0.98"/>
<circle cx="867.7" cy="385.3" r="1.0" fill="#f0c070" opacity="0.97"/>
<circle cx="969.7" cy="353.4" r="0.8" fill="#ffffff" opacity="0.69"/>
<circle cx="1131.7" cy="245.1" r="1.1" fill="#ffffff" opacity="0.66"/>
<circle cx="1041.2" cy="459.1" r="0.7" fill="#fff0e0" opacity="0.98"/>
<circle cx="891.6" cy="381.6" r="0.9" fill="#e8a040" opacity="0.97"/>
<circle cx="759.7" cy="183.9" r="0.9" fill="#ffe8d0" opacity="0.48"/>
<circle cx="960.0" cy="192.9" r="0.6" fill="#f0c070" opacity="0.50"/>
<circle cx="1050.7" cy="309.8" r="1.0" fill="#ffffff" opacity="0.76"/>
<circle cx="955.8" cy="314.6" r="1.1" fill="#ffd9a0" opacity="0.62"/>
<circle cx="886.0" cy="463.5" r="1.1" fill="#e8a040" opacity="0.99"/>
<circle cx="832.7" cy="287.9" r="0.9" fill="#ffffff" opacity="0.83"/>
<circle cx="958.9" cy="153.4" r="0.8" fill="#a04090" opacity="0.48"/>
<circle cx="902.8" cy="398.7" r="1.0" fill="#d08030" opacity="0.59"/>
<circle cx="774.8" cy="199.0" r="1.0" fill="#ffd9a0" opacity="0.79"/>
<circle cx="1016.9" cy="137.5" r="0.8" fill="#d08030" opacity="0.80"/>
<circle cx="1046.5" cy="446.1" r="0.9" fill="#ffffff" opacity="0.57"/>
<circle cx="1114.8" cy="441.0" r="0.9" fill="#fff0e0" opacity="0.78"/>
<circle cx="1024.8" cy="244.0" r="0.8" fill="#d08030" opacity="0.94"/>
<circle cx="966.2" cy="134.2" r="0.8" fill="#a04090" opacity="0.76"/>
<circle cx="917.9" cy="267.8" r="0.8" fill="#e8a040" opacity="0.67"/>
<circle cx="1016.6" cy="439.6" r="1.0" fill="#ffd9a0" opacity="0.63"/>
<circle cx="866.9" cy="320.7" r="1.0" fill="#c060a0" opacity="0.88"/>
<circle cx="988.6" cy="173.9" r="1.2" fill="#a04090" opacity="0.51"/>
<circle cx="985.5" cy="337.0" r="0.7" fill="#ffd9a0" opacity="0.72"/>
<circle cx="869.8" cy="311.1" r="0.9" fill="#f0c070" opacity="0.89"/>
<circle cx="1135.0" cy="151.2" r="1.1" fill="#a04090" opacity="0.83"/>
<circle cx="1037.1" cy="204.7" r="0.6" fill="#fff0e0" opacity="0.79"/>
<circle cx="816.1" cy="210.9" r="0.8" fill="#ffffff" opacity="0.69"/>
<circle cx="984.6" cy="330.3" r="0.9" fill="#ffe8d0" opacity="0.61"/>
<circle cx="986.2" cy="245.6" r="0.6" fill="#ffe8d0" opacity="0.80"/>
<circle cx="772.8" cy="234.0" r="0.9" fill="#ffffff" opacity="0.74"/>
<circle cx="1004.8" cy="250.3" r="0.8" fill="#a04090" opacity="0.67"/>
<circle cx="1043.4" cy="434.1" r="1.2" fill="#c060a0" opacity="0.59"/>
<circle cx="957.5" cy="211.9" r="1.0" fill="#ffe8d0" opacity="0.82"/>
<circle cx="1142.3" cy="473.2" r="0.9" fill="#ffd9a0" opacity="0.80"/>
<circle cx="950.1" cy="161.4" r="1.2" fill="#ffffff" opacity="0.73"/>
<circle cx="823.6" cy="261.2" r="0.8" fill="#e8a040" opacity="0.66"/>
<circle cx="879.3" cy="386.0" r="0.7" fill="#e8a040" opacity="0.82"/>
<circle cx="845.4" cy="443.6" r="1.1" fill="#f0c070" opacity="0.61"/>
<circle cx="932.2" cy="166.5" r="0.6" fill="#ffffff" opacity="0.58"/>
<circle cx="927.3" cy="109.3" r="1.0" fill="#c060a0" opacity="0.97"/>
<circle cx="1048.4" cy="212.8" r="1.1" fill="#a04090" opacity="0.86"/>
<circle cx="965.4" cy="90.2" r="0.9" fill="#e8a040" opacity="0.53"/>
<circle cx="920.0" cy="107.0" r="0.8" fill="#f0c070" opacity="0.93"/>
<circle cx="842.1" cy="158.2" r="0.9" fill="#e8a040" opacity="0.72"/>
<circle cx="997.7" cy="229.2" r="1.1" fill="#c060a0" opacity="0.87"/>
<circle cx="781.8" cy="408.9" r="0.7" fill="#ffe8d0" opacity="0.92"/>
<circle cx="929.4" cy="275.1" r="0.9" fill="#ffffff" opacity="0.59"/>
<circle cx="841.9" cy="236.6" r="0.6" fill="#e8a040" opacity="0.60"/>
<circle cx="795.4" cy="175.7" r="1.0" fill="#f0c070" opacity="0.91"/>
<circle cx="911.3" cy="359.6" r="0.6" fill="#f0c070" opacity="0.59"/>
<circle cx="1135.0" cy="329.0" r="1.2" fill="#e8a040" opacity="0.87"/>
<circle cx="1152.7" cy="260.8" r="1.0" fill="#ffd9a0" opacity="0.54"/>
<circle cx="829.1" cy="376.9" r="0.8" fill="#fff0e0" opacity="0.84"/>
<circle cx="1049.1" cy="453.1" r="0.6" fill="#ffffff" opacity="0.64"/>
<circle cx="821.7" cy="359.3" r="0.9" fill="#ffd9a0" opacity="0.55"/>
<circle cx="1107.0" cy="398.0" r="0.8" fill="#ffffff" opacity="0.71"/>
<circle cx="1080.3" cy="126.6" r="1.1" fill="#a04090" opacity="0.66"/>
<circle cx="923.4" cy="275.6" r="0.6" fill="#f0c070" opacity="0.84"/>
<circle cx="1126.2" cy="318.3" r="0.9" fill="#c060a0" opacity="0.49"/>
<circle cx="1081.7" cy="367.9" r="0.9" fill="#ffffff" opacity="0.70"/>
<circle cx="754.8" cy="241.2" r="0.9" fill="#d08030" opacity="0.57"/>
<circle cx="1049.6" cy="363.2" r="0.8" fill="#f0c070" opacity="0.76"/>
<circle cx="775.1" cy="152.0" r="0.9" fill="#ffffff" opacity="0.78"/>
<circle cx="1119.4" cy="174.7" r="0.6" fill="#c060a0" opacity="0.65"/>
<circle cx="1002.1" cy="294.8" r="0.7" fill="#a04090" opacity="0.81"/>
<circle cx="903.5" cy="126.0" r="0.7" fill="#e8a040" opacity="0.78"/>
<circle cx="831.7" cy="455.5" r="1.0" fill="#ffffff" opacity="0.82"/>
<circle cx="856.6" cy="367.0" r="1.0" fill="#ffffff" opacity="0.92"/>
<circle cx="1038.3" cy="90.6" r="0.8" fill="#a04090" opacity="1.00"/>
<circle cx="921.1" cy="118.3" r="0.9" fill="#a04090" opacity="0.58"/>
<circle cx="767.5" cy="304.4" r="1.0" fill="#d08030" opacity="0.53"/>
<circle cx="1058.9" cy="125.6" r="0.8" fill="#ffe8d0" opacity="0.52"/>
<circle cx="971.3" cy="383.5" r="0.7" fill="#c060a0" opacity="0.87"/>
<circle cx="1073.5" cy="389.0" r="0.7" fill="#f0c070" opacity="0.63"/>
<circle cx="850.3" cy="305.2" r="1.0" fill="#ffd9a0" opacity="0.94"/>
<circle cx="757.2" cy="324.4" r="0.9" fill="#fff0e0" opacity="0.87"/>
<circle cx="993.7" cy="248.8" r="0.6" fill="#a04090" opacity="0.67"/>
<circle cx="867.2" cy="140.3" r="1.0" fill="#a04090" opacity="0.75"/>
<circle cx="1092.5" cy="287.5" r="0.9" fill="#ffd9a0" opacity="0.52"/>
<circle cx="907.6" cy="385.2" r="0.9" fill="#d08030" opacity="0.96"/>
<circle cx="819.2" cy="464.9" r="1.2" fill="#ffe8d0" opacity="0.49"/>
<circle cx="870.6" cy="387.5" r="1.0" fill="#c060a0" opacity="0.72"/>
<circle cx="839.1" cy="146.9" r="0.7" fill="#f0c070" opacity="0.86"/>
<circle cx="1071.4" cy="286.6" r="1.0" fill="#a04090" opacity="0.93"/>
<circle cx="811.3" cy="295.8" r="0.9" fill="#a04090" opacity="0.74"/>
<circle cx="1043.1" cy="78.8" r="0.6" fill="#ffffff" opacity="0.62"/>
<circle cx="828.6" cy="175.9" r="1.0" fill="#a04090" opacity="0.68"/>
<circle cx="974.5" cy="426.5" r="1.2" fill="#d08030" opacity="0.59"/>
<circle cx="750.1" cy="251.3" r="1.0" fill="#f0c070" opacity="0.47"/>
<circle cx="797.7" cy="93.3" r="1.0" fill="#ffe8d0" opacity="0.92"/>
<circle cx="1103.2" cy="449.6" r="1.0" fill="#f0c070" opacity="0.93"/>
<circle cx="860.4" cy="265.7" r="0.7" fill="#c060a0" opacity="0.94"/>
<circle cx="911.3" cy="391.5" r="1.1" fill="#ffe8d0" opacity="0.92"/>
<circle cx="1133.0" cy="271.7" r="0.7" fill="#e8a040" opacity="0.53"/>
<circle cx="1075.1" cy="179.0" r="0.7" fill="#f0c070" opacity="0.59"/>
<circle cx="783.8" cy="148.2" r="1.0" fill="#ffffff" opacity="0.66"/>
<circle cx="1142.5" cy="117.1" r="0.8" fill="#fff0e0" opacity="0.77"/>
<circle cx="772.5" cy="149.0" r="1.1" fill="#a04090" opacity="0.73"/>
<circle cx="801.9" cy="331.0" r="1.1" fill="#a04090" opacity="0.45"/>
<circle cx="874.3" cy="390.3" r="1.2" fill="#ffd9a0" opacity="0.92"/>
<circle cx="949.5" cy="126.6" r="0.8" fill="#fff0e0" opacity="0.90"/>
<circle cx="841.9" cy="155.9" r="0.6" fill="#ffd9a0" opacity="0.63"/>
<circle cx="1037.0" cy="101.5" r="0.9" fill="#ffe8d0" opacity="0.98"/>
<circle cx="785.0" cy="114.2" r="1.0" fill="#f0c070" opacity="0.97"/>
<circle cx="781.9" cy="127.2" r="0.7" fill="#ffffff" opacity="0.63"/>
<circle cx="974.5" cy="436.7" r="0.7" fill="#a04090" opacity="0.79"/>
<circle cx="1015.2" cy="99.2" r="0.8" fill="#d08030" opacity="0.96"/>
<circle cx="1074.4" cy="337.3" r="0.8" fill="#a04090" opacity="0.85"/>
<circle cx="1084.0" cy="358.2" r="1.0" fill="#d08030" opacity="0.76"/>
<circle cx="933.7" cy="115.7" r="0.8" fill="#d08030" opacity="0.51"/>
<circle cx="924.6" cy="183.3" r="1.0" fill="#d08030" opacity="0.63"/>
<circle cx="1036.6" cy="321.0" r="0.7" fill="#e8a040" opacity="0.69"/>
<circle cx="1124.9" cy="302.1" r="0.9" fill="#ffe8d0" opacity="0.77"/>
<circle cx="861.7" cy="344.3" r="1.2" fill="#ffd9a0" opacity="0.79"/>
<circle cx="818.8" cy="112.4" r="1.0" fill="#a04090" opacity="0.56"/>
<circle cx="910.1" cy="272.4" r="0.7" fill="#d08030" opacity="0.90"/>
<circle cx="1085.1" cy="290.0" r="1.0" fill="#fff0e0" opacity="0.95"/>
<circle cx="903.7" cy="388.2" r="0.7" fill="#f0c070" opacity="0.47"/>
<circle cx="966.8" cy="431.2" r="0.6" fill="#ffd9a0" opacity="0.68"/>
<circle cx="853.8" cy="288.0" r="0.6" fill="#ffffff" opacity="0.86"/>
<circle cx="942.9" cy="419.3" r="1.1" fill="#f0c070" opacity="0.75"/>
<circle cx="989.6" cy="391.7" r="1.0" fill="#a04090" opacity="0.85"/>
<circle cx="1104.7" cy="403.2" r="0.6" fill="#e8a040" opacity="0.91"/>
<circle cx="916.4" cy="94.0" r="1.0" fill="#e8a040" opacity="0.82"/>
<circle cx="895.8" cy="458.1" r="0.8" fill="#ffffff" opacity="0.64"/>
<circle cx="796.8" cy="158.1" r="0.9" fill="#a04090" opacity="0.82"/>
<circle cx="1037.6" cy="388.7" r="0.6" fill="#c060a0" opacity="0.81"/>
<circle cx="804.4" cy="185.4" r="0.7" fill="#f0c070" opacity="0.83"/>
<circle cx="1070.9" cy="391.7" r="0.8" fill="#d08030" opacity="0.94"/>
<circle cx="890.9" cy="169.2" r="1.2" fill="#fff0e0" opacity="0.68"/>
<circle cx="1016.4" cy="203.1" r="0.9" fill="#f0c070" opacity="0.79"/>
<circle cx="963.5" cy="356.9" r="1.0" fill="#ffffff" opacity="0.80"/>
<circle cx="1083.7" cy="410.9" r="1.0" fill="#d08030" opacity="0.78"/>
<circle cx="838.7" cy="122.9" r="0.9" fill="#ffd9a0" opacity="0.73"/>
<circle cx="856.9" cy="146.8" r="1.1" fill="#f0c070" opacity="0.66"/>
<circle cx="940.5" cy="108.1" r="1.0" fill="#d08030" opacity="0.92"/>
<circle cx="1015.8" cy="410.2" r="0.9" fill="#ffd9a0" opacity="0.79"/>
<circle cx="911.4" cy="278.9" r="0.7" fill="#c060a0" opacity="0.85"/>
<circle cx="1073.0" cy="452.5" r="0.7" fill="#e8a040" opacity="0.78"/>
<circle cx="941.7" cy="271.8" r="0.8" fill="#f0c070" opacity="0.77"/>
<circle cx="1012.7" cy="361.3" r="0.7" fill="#fff0e0" opacity="0.85"/>
<circle cx="897.8" cy="182.0" r="0.9" fill="#e8a040" opacity="0.82"/>
<circle cx="866.5" cy="300.6" r="0.6" fill="#ffd9a0" opacity="0.81"/>
<circle cx="1086.2" cy="286.7" r="0.7" fill="#ffffff" opacity="0.88"/>
<circle cx="1031.6" cy="117.4" r="0.6" fill="#c060a0" opacity="0.54"/>
<circle cx="1028.3" cy="224.6" r="1.1" fill="#c060a0" opacity="0.56"/>
<circle cx="869.4" cy="259.2" r="0.7" fill="#ffffff" opacity="0.49"/>
<circle cx="992.8" cy="236.6" r="1.0" fill="#ffffff" opacity="0.99"/>
<circle cx="820.8" cy="273.5" r="1.0" fill="#ffffff" opacity="0.79"/>
<circle cx="906.5" cy="194.1" r="0.7" fill="#ffffff" opacity="0.70"/>
<circle cx="867.0" cy="304.7" r="0.9" fill="#fff0e0" opacity="0.99"/>
<circle cx="906.2" cy="358.4" r="0.7" fill="#ffd9a0" opacity="0.72"/>
<circle cx="881.7" cy="288.2" r="1.1" fill="#ffffff" opacity="0.70"/>
<circle cx="988.5" cy="246.2" r="1.1" fill="#ffd9a0" opacity="0.70"/>
<circle cx="1130.9" cy="156.0" r="0.6" fill="#fff0e0" opacity="0.97"/>
<circle cx="1046.1" cy="434.3" r="1.0" fill="#f0c070" opacity="0.55"/>
<circle cx="1008.5" cy="448.9" r="0.8" fill="#c060a0" opacity="0.91"/>
<circle cx="1024.2" cy="414.4" r="1.0" fill="#ffffff" opacity="0.62"/>
<circle cx="848.5" cy="88.8" r="0.9" fill="#fff0e0" opacity="0.71"/>
<circle cx="1009.9" cy="184.3" r="1.1" fill="#e8a040" opacity="0.52"/>
<circle cx="954.7" cy="168.5" r="0.8" fill="#f0c070" opacity="0.51"/>
<circle cx="1060.0" cy="183.0" r="0.7" fill="#ffe8d0" opacity="0.92"/>
<circle cx="823.2" cy="442.1" r="1.0" fill="#e8a040" opacity="0.54"/>
<circle cx="1028.9" cy="315.1" r="0.7" fill="#ffffff" opacity="0.66"/>
<circle cx="1131.2" cy="86.0" r="1.1" fill="#c060a0" opacity="0.93"/>
<circle cx="957.1" cy="408.6" r="0.7" fill="#f0c070" opacity="0.47"/>
<circle cx="1059.7" cy="87.8" r="0.7" fill="#ffd9a0" opacity="0.90"/>
<circle cx="1135.9" cy="281.6" r="0.9" fill="#a04090" opacity="0.99"/>
<circle cx="884.2" cy="329.0" r="0.9" fill="#fff0e0" opacity="0.68"/>
<circle cx="792.5" cy="106.1" r="0.9" fill="#fff0e0" opacity="0.93"/>
<circle cx="765.4" cy="336.8" r="1.0" fill="#ffe8d0" opacity="0.56"/>
<circle cx="858.8" cy="130.5" r="1.2" fill="#f0c070" opacity="0.97"/>
<circle cx="976.8" cy="439.9" r="1.0" fill="#c060a0" opacity="0.79"/>
<circle cx="1061.4" cy="88.5" r="0.6" fill="#fff0e0" opacity="0.54"/>
<circle cx="968.5" cy="411.8" r="0.8" fill="#ffe8d0" opacity="0.77"/>
<circle cx="856.6" cy="346.2" r="1.0" fill="#f0c070" opacity="0.48"/>
<circle cx="839.3" cy="324.7" r="1.1" fill="#ffd9a0" opacity="0.81"/>
<circle cx="941.0" cy="78.4" r="0.9" fill="#ffffff" opacity="0.55"/>
<circle cx="793.0" cy="426.1" r="1.0" fill="#f0c070" opacity="0.47"/>
<circle cx="846.1" cy="139.3" r="1.1" fill="#d08030" opacity="0.60"/>
<circle cx="927.4" cy="436.8" r="0.7" fill="#fff0e0" opacity="0.95"/>
<circle cx="943.3" cy="264.8" r="1.1" fill="#f0c070" opacity="0.85"/>
<circle cx="1101.9" cy="330.2" r="1.1" fill="#f0c070" opacity="0.55"/>
<circle cx="1091.9" cy="257.7" r="0.6" fill="#ffffff" opacity="0.69"/>
<circle cx="1009.9" cy="454.6" r="0.6" fill="#ffffff" opacity="0.67"/>
<circle cx="901.3" cy="123.7" r="0.8" fill="#d08030" opacity="0.71"/>
<circle cx="1150.2" cy="283.0" r="0.9" fill="#ffe8d0" opacity="0.55"/>
<circle cx="825.3" cy="301.5" r="1.1" fill="#f0c070" opacity="0.51"/>
<circle cx="1090.6" cy="258.5" r="1.0" fill="#e8a040" opacity="0.45"/>
<circle cx="953.2" cy="188.0" r="0.9" fill="#c060a0" opacity="0.86"/>
<circle cx="945.8" cy="445.1" r="0.7" fill="#d08030" opacity="0.85"/>
<circle cx="756.7" cy="291.8" r="1.1" fill="#ffffff" opacity="0.56"/>
<circle cx="991.8" cy="218.8" r="0.7" fill="#fff0e0" opacity="0.92"/>
<circle cx="848.7" cy="364.0" r="0.7" fill="#fff0e0" opacity="0.49"/>
<circle cx="890.2" cy="247.2" r="1.0" fill="#ffe8d0" opacity="0.97"/>
<circle cx="900.6" cy="241.3" r="1.0" fill="#fff0e0" opacity="0.67"/>
<circle cx="922.2" cy="323.7" r="0.7" fill="#fff0e0" opacity="0.52"/>
<circle cx="1011.0" cy="285.3" r="1.0" fill="#a04090" opacity="0.78"/>
<circle cx="854.8" cy="295.8" r="0.8" fill="#f0c070" opacity="0.77"/>
<circle cx="924.5" cy="74.1" r="1.1" fill="#ffd9a0" opacity="0.69"/>
<circle cx="831.3" cy="163.4" r="0.8" fill="#fff0e0" opacity="0.82"/>
<circle cx="981.3" cy="241.3" r="0.9" fill="#d08030" opacity="0.47"/>
<circle cx="1125.0" cy="419.4" r="0.8" fill="#c060a0" opacity="0.59"/>
<circle cx="839.5" cy="349.2" r="1.0" fill="#d08030" opacity="0.69"/>
<circle cx="1024.0" cy="106.3" r="0.9" fill="#ffffff" opacity="0.57"/>
<circle cx="974.3" cy="262.1" r="1.0" fill="#ffffff" opacity="0.47"/>
<circle cx="1075.1" cy="203.3" r="1.1" fill="#ffffff" opacity="0.56"/>
<circle cx="951.3" cy="452.2" r="0.8" fill="#fff0e0" opacity="0.95"/>
<circle cx="871.5" cy="106.6" r="0.9" fill="#e8a040" opacity="0.87"/>
<circle cx="1030.4" cy="89.0" r="0.9" fill="#fff0e0" opacity="0.72"/>
<circle cx="1102.8" cy="417.4" r="1.0" fill="#fff0e0" opacity="0.66"/>
<circle cx="1012.5" cy="355.0" r="0.7" fill="#a04090" opacity="0.47"/>
<circle cx="1024.0" cy="237.9" r="0.9" fill="#ffffff" opacity="0.70"/>
<circle cx="802.2" cy="446.6" r="0.8" fill="#ffffff" opacity="0.86"/>
<circle cx="756.3" cy="221.9" r="0.8" fill="#f0c070" opacity="0.54"/>
<circle cx="751.6" cy="298.2" r="1.0" fill="#ffe8d0" opacity="0.75"/>
<circle cx="1107.4" cy="271.1" r="0.9" fill="#d08030" opacity="0.59"/>
<circle cx="934.9" cy="191.2" r="0.7" fill="#a04090" opacity="0.76"/>
<circle cx="1033.9" cy="387.9" r="0.7" fill="#fff0e0" opacity="0.72"/>
<circle cx="822.6" cy="168.8" r="1.0" fill="#ffe8d0" opacity="0.72"/>
<circle cx="917.2" cy="336.1" r="0.6" fill="#ffe8d0" opacity="0.87"/>
<circle cx="1047.2" cy="380.7" r="1.0" fill="#ffd9a0" opacity="0.63"/>
<circle cx="1068.4" cy="212.0" r="1.1" fill="#fff0e0" opacity="0.94"/>
<circle cx="851.4" cy="298.8" r="0.9" fill="#ffffff" opacity="0.99"/>
<circle cx="859.9" cy="261.9" r="0.6" fill="#ffe8d0" opacity="1.00"/>
<circle cx="777.5" cy="359.5" r="1.1" fill="#fff0e0" opacity="0.68"/>
<circle cx="882.8" cy="225.5" r="0.8" fill="#ffffff" opacity="0.72"/>
<circle cx="1027.5" cy="474.0" r="0.8" fill="#ffffff" opacity="0.48"/>
<circle cx="989.5" cy="435.5" r="0.7" fill="#d08030" opacity="0.57"/>
<circle cx="1067.3" cy="231.0" r="0.6" fill="#e8a040" opacity="0.80"/>
<circle cx="851.7" cy="312.4" r="0.8" fill="#ffffff" opacity="0.59"/>
<circle cx="922.6" cy="367.3" r="1.2" fill="#a04090" opacity="0.47"/>
<circle cx="899.2" cy="100.0" r="0.8" fill="#ffffff" opacity="0.47"/>
<circle cx="868.5" cy="357.4" r="1.2" fill="#f0c070" opacity="0.93"/>
<circle cx="982.6" cy="258.1" r="0.9" fill="#ffd9a0" opacity="0.60"/>
<circle cx="1043.0" cy="338.0" r="1.0" fill="#ffd9a0" opacity="0.82"/>
<circle cx="1086.9" cy="83.0" r="0.7" fill="#a04090" opacity="0.94"/>
<circle cx="1105.0" cy="450.9" r="0.8" fill="#f0c070" opacity="0.91"/>
<circle cx="1089.5" cy="96.7" r="1.0" fill="#a04090" opacity="0.70"/>
<circle cx="872.5" cy="162.4" r="0.8" fill="#c060a0" opacity="0.52"/>
<circle cx="948.2" cy="444.2" r="0.9" fill="#ffe8d0" opacity="0.62"/>
<circle cx="963.3" cy="431.5" r="0.8" fill="#ffffff" opacity="0.76"/>
<circle cx="969.1" cy="142.0" r="1.0" fill="#f0c070" opacity="0.79"/>
<circle cx="870.8" cy="338.4" r="1.0" fill="#ffd9a0" opacity="0.62"/>
<circle cx="1060.6" cy="336.2" r="0.6" fill="#fff0e0" opacity="0.98"/>
<circle cx="917.5" cy="166.3" r="0.9" fill="#ffffff" opacity="0.51"/>
<circle cx="1084.3" cy="445.6" r="0.9" fill="#ffd9a0" opacity="0.70"/>
<circle cx="1036.8" cy="366.3" r="1.1" fill="#fff0e0" opacity="0.66"/>
<circle cx="1019.5" cy="450.8" r="0.9" fill="#a04090" opacity="0.73"/>
<circle cx="968.1" cy="344.1" r="0.7" fill="#ffe8d0" opacity="0.57"/>
<circle cx="1079.0" cy="422.0" r="1.0" fill="#fff0e0" opacity="0.52"/>
<circle cx="892.0" cy="317.4" r="0.8" fill="#a04090" opacity="0.92"/>
<circle cx="988.2" cy="336.0" r="1.0" fill="#a04090" opacity="0.68"/>
<circle cx="763.6" cy="252.6" r="1.0" fill="#ffd9a0" opacity="0.99"/>
<circle cx="1162.8" cy="279.6" r="1.0" fill="#fff0e0" opacity="0.93"/>
<circle cx="1036.2" cy="316.9" r="1.1" fill="#ffd9a0" opacity="0.65"/>
<circle cx="1113.7" cy="310.9" r="1.1" fill="#ffd9a0" opacity="0.95"/>
<circle cx="1003.2" cy="367.5" r="0.8" fill="#fff0e0" opacity="0.92"/>
<circle cx="1051.8" cy="100.0" r="1.1" fill="#c060a0" opacity="0.53"/>
<circle cx="774.9" cy="429.8" r="0.9" fill="#fff0e0" opacity="0.61"/>
<circle cx="917.1" cy="407.6" r="1.0" fill="#e8a040" opacity="0.61"/>
<circle cx="899.8" cy="347.6" r="1.2" fill="#a04090" opacity="0.50"/>
<circle cx="1069.4" cy="472.6" r="0.8" fill="#ffe8d0" opacity="0.99"/>
<circle cx="793.1" cy="381.6" r="0.8" fill="#ffd9a0" opacity="0.48"/>
<circle cx="874.1" cy="387.3" r="0.7" fill="#ffd9a0" opacity="0.53"/>
<circle cx="775.5" cy="351.3" r="0.9" fill="#ffe8d0" opacity="0.80"/>
<circle cx="927.8" cy="164.9" r="0.8" fill="#a04090" opacity="0.69"/>
<circle cx="919.9" cy="433.6" r="0.8" fill="#ffffff" opacity="0.85"/>
<circle cx="1130.5" cy="179.2" r="1.2" fill="#ffe8d0" opacity="0.56"/>
<circle cx="987.5" cy="143.6" r="1.0" fill="#fff0e0" opacity="0.67"/>
<circle cx="879.2" cy="435.1" r="1.1" fill="#ffd9a0" opacity="0.71"/>
<circle cx="863.4" cy="395.9" r="0.7" fill="#d08030" opacity="0.68"/>
<circle cx="980.0" cy="396.3" r="1.0" fill="#f0c070" opacity="0.46"/>
<circle cx="865.0" cy="417.8" r="0.7" fill="#d08030" opacity="0.75"/>
<circle cx="787.1" cy="387.7" r="0.7" fill="#ffd9a0" opacity="0.62"/>
<circle cx="1006.5" cy="109.8" r="0.9" fill="#ffffff" opacity="0.73"/>
<circle cx="970.0" cy="249.3" r="0.6" fill="#f0c070" opacity="0.90"/>
<circle cx="1106.4" cy="277.2" r="0.9" fill="#e8a040" opacity="0.87"/>
<circle cx="911.8" cy="173.4" r="1.2" fill="#ffe8d0" opacity="0.81"/>
<circle cx="886.4" cy="161.0" r="0.8" fill="#ffd9a0" opacity="0.88"/>
<circle cx="1102.3" cy="415.8" r="0.9" fill="#a04090" opacity="0.47"/>
<circle cx="1007.8" cy="210.7" r="0.9" fill="#a04090" opacity="0.77"/>
<circle cx="822.7" cy="136.4" r="1.0" fill="#fff0e0" opacity="0.66"/>
<circle cx="771.5" cy="227.7" r="1.0" fill="#ffe8d0" opacity="0.54"/>
<circle cx="968.7" cy="353.4" r="1.0" fill="#ffe8d0" opacity="0.53"/>
<circle cx="942.2" cy="435.2" r="1.0" fill="#a04090" opacity="0.78"/>
<circle cx="914.9" cy="178.1" r="1.0" fill="#a04090" opacity="0.77"/>
<circle cx="840.0" cy="108.6" r="0.7" fill="#ffffff" opacity="0.69"/>
<circle cx="974.0" cy="142.5" r="1.0" fill="#e8a040" opacity="0.98"/>
<circle cx="901.2" cy="400.3" r="0.6" fill="#ffffff" opacity="0.97"/>
<circle cx="952.6" cy="178.4" r="0.9" fill="#c060a0" opacity="0.73"/>
<circle cx="945.5" cy="127.5" r="1.1" fill="#ffffff" opacity="0.81"/>
<circle cx="983.4" cy="240.5" r="0.7" fill="#fff0e0" opacity="0.65"/>
<circle cx="889.8" cy="157.1" r="1.2" fill="#d08030" opacity="0.53"/>
<circle cx="839.2" cy="288.5" r="1.0" fill="#ffe8d0" opacity="0.89"/>
<circle cx="1046.3" cy="217.5" r="0.9" fill="#ffd9a0" opacity="0.97"/>
<circle cx="818.1" cy="261.1" r="0.7" fill="#f0c070" opacity="0.80"/>
<circle cx="762.1" cy="128.1" r="0.9" fill="#e8a040" opacity="0.71"/>
<circle cx="837.0" cy="225.5" r="0.7" fill="#ffe8d0" opacity="0.56"/>
<circle cx="969.2" cy="396.9" r="1.1" fill="#f0c070" opacity="0.78"/>
<circle cx="1090.2" cy="449.3" r="0.9" fill="#ffe8d0" opacity="0.65"/>
<circle cx="905.9" cy="241.5" r="1.1" fill="#d08030" opacity="0.52"/>
<circle cx="939.5" cy="455.0" r="0.8" fill="#ffd9a0" opacity="0.94"/>
<circle cx="804.4" cy="398.4" r="0.7" fill="#ffe8d0" opacity="0.95"/>
<circle cx="787.2" cy="136.5" r="1.0" fill="#ffffff" opacity="0.69"/>
<circle cx="845.3" cy="455.3" r="1.1" fill="#d08030" opacity="0.53"/>
<circle cx="1114.5" cy="176.3" r="1.0" fill="#c060a0" opacity="1.00"/>
<circle cx="808.4" cy="149.7" r="0.7" fill="#e8a040" opacity="0.50"/>
<circle cx="826.9" cy="152.6" r="1.2" fill="#ffffff" opacity="0.80"/>
<circle cx="844.9" cy="161.2" r="0.7" fill="#d08030" opacity="0.60"/>
<circle cx="827.2" cy="262.4" r="0.7" fill="#f0c070" opacity="0.84"/>
<circle cx="831.6" cy="207.6" r="0.6" fill="#ffffff" opacity="0.58"/>
<circle cx="1032.2" cy="196.5" r="1.0" fill="#d08030" opacity="0.60"/>
<circle cx="943.3" cy="406.5" r="1.1" fill="#ffd9a0" opacity="0.84"/>
<circle cx="965.6" cy="127.5" r="1.0" fill="#fff0e0" opacity="0.61"/>
<circle cx="923.5" cy="199.0" r="1.0" fill="#e8a040" opacity="0.98"/>
<circle cx="1086.4" cy="184.0" r="0.8" fill="#e8a040" opacity="0.80"/>
<circle cx="883.7" cy="310.2" r="0.7" fill="#ffe8d0" opacity="0.69"/>
<circle cx="818.9" cy="85.0" r="0.7" fill="#ffffff" opacity="0.97"/>
<circle cx="1059.9" cy="260.0" r="1.0" fill="#d08030" opacity="0.63"/>
<circle cx="788.8" cy="94.7" r="0.9" fill="#d08030" opacity="0.61"/>
<circle cx="1043.5" cy="215.7" r="0.7" fill="#fff0e0" opacity="0.74"/>
<circle cx="997.8" cy="381.0" r="1.1" fill="#f0c070" opacity="0.90"/>
<circle cx="917.0" cy="104.6" r="0.8" fill="#a04090" opacity="0.63"/>
<circle cx="1098.2" cy="465.9" r="0.8" fill="#c060a0" opacity="0.71"/>
<circle cx="871.8" cy="148.4" r="1.1" fill="#e8a040" opacity="0.95"/>
<circle cx="1087.9" cy="252.6" r="1.0" fill="#ffd9a0" opacity="0.81"/>
<circle cx="1160.4" cy="311.8" r="1.1" fill="#ffffff" opacity="0.54"/>
<circle cx="1110.7" cy="101.2" r="1.2" fill="#ffd9a0" opacity="0.69"/>
<circle cx="869.0" cy="401.8" r="1.2" fill="#c060a0" opacity="0.75"/>
<circle cx="763.0" cy="129.9" r="0.6" fill="#d08030" opacity="0.80"/>
<circle cx="800.9" cy="428.7" r="0.7" fill="#ffffff" opacity="0.99"/>
<circle cx="806.7" cy="279.5" r="0.7" fill="#fff0e0" opacity="0.56"/>
<circle cx="888.7" cy="378.8" r="1.1" fill="#e8a040" opacity="0.84"/>
<circle cx="1124.3" cy="282.4" r="1.0" fill="#ffe8d0" opacity="0.64"/>
<circle cx="1020.5" cy="381.1" r="1.1" fill="#fff0e0" opacity="0.58"/>
<circle cx="994.6" cy="324.2" r="0.8" fill="#c060a0" opacity="0.83"/>
<circle cx="913.8" cy="118.7" r="0.8" fill="#e8a040" opacity="0.70"/>
<circle cx="1079.5" cy="383.1" r="0.8" fill="#ffe8d0" opacity="0.79"/>
<circle cx="1114.0" cy="450.1" r="1.0" fill="#ffffff" opacity="0.96"/>
<circle cx="887.4" cy="457.7" r="0.9" fill="#ffffff" opacity="0.91"/>
<circle cx="1028.6" cy="361.9" r="1.2" fill="#a04090" opacity="0.71"/>
<circle cx="906.2" cy="396.6" r="0.8" fill="#e8a040" opacity="0.95"/>
<circle cx="834.8" cy="162.7" r="0.9" fill="#fff0e0" opacity="0.96"/>
<circle cx="770.6" cy="384.0" r="1.0" fill="#ffffff" opacity="0.98"/>
<circle cx="760.3" cy="350.0" r="1.1" fill="#fff0e0" opacity="0.84"/>
<circle cx="799.8" cy="431.1" r="0.7" fill="#a04090" opacity="0.77"/>
<circle cx="1001.3" cy="119.6" r="1.2" fill="#fff0e0" opacity="0.72"/>
<circle cx="1152.8" cy="290.5" r="1.2" fill="#fff0e0" opacity="0.61"/>
<circle cx="946.5" cy="190.5" r="0.8" fill="#ffffff" opacity="0.71"/>
<circle cx="971.2" cy="391.1" r="0.9" fill="#c060a0" opacity="0.61"/>
<circle cx="994.1" cy="149.7" r="1.2" fill="#fff0e0" opacity="0.60"/>
<circle cx="1003.8" cy="454.2" r="0.6" fill="#a04090" opacity="0.70"/>
<circle cx="962.7" cy="186.6" r="0.9" fill="#ffffff" opacity="0.62"/>
<circle cx="1004.2" cy="117.1" r="0.9" fill="#ffd9a0" opacity="0.83"/>
<circle cx="908.1" cy="402.9" r="0.6" fill="#d08030" opacity="0.85"/>
<circle cx="1010.7" cy="383.6" r="1.1" fill="#ffd9a0" opacity="0.68"/>
<circle cx="1005.1" cy="312.8" r="0.9" fill="#ffe8d0" opacity="0.87"/>
<circle cx="1029.0" cy="98.0" r="1.0" fill="#ffd9a0" opacity="0.48"/>
<circle cx="800.7" cy="204.7" r="1.0" fill="#e8a040" opacity="0.96"/>
<circle cx="1002.4" cy="248.7" r="1.2" fill="#ffd9a0" opacity="0.61"/>
<circle cx="1023.8" cy="102.3" r="0.6" fill="#ffffff" opacity="0.62"/>
<circle cx="982.4" cy="489.5" r="1.0" fill="#d08030" opacity="0.89"/>
<circle cx="1119.6" cy="292.6" r="0.9" fill="#f0c070" opacity="0.56"/>
<circle cx="1025.3" cy="452.1" r="0.8" fill="#ffe8d0" opacity="0.47"/>
<circle cx="995.3" cy="372.3" r="0.8" fill="#a04090" opacity="0.55"/>
<circle cx="965.7" cy="427.0" r="0.7" fill="#f0c070" opacity="0.46"/>
<circle cx="827.0" cy="308.7" r="0.9" fill="#d08030" opacity="0.81"/>
<circle cx="1071.8" cy="420.6" r="1.1" fill="#c060a0" opacity="0.63"/>
<circle cx="929.6" cy="179.6" r="1.1" fill="#ffd9a0" opacity="0.47"/>
<circle cx="972.6" cy="270.0" r="0.8" fill="#ffffff" opacity="0.82"/>
<circle cx="1137.3" cy="409.5" r="1.1" fill="#e8a040" opacity="0.78"/>
<circle cx="991.5" cy="258.7" r="1.1" fill="#ffe8d0" opacity="0.63"/>
<circle cx="757.1" cy="388.0" r="0.7" fill="#c060a0" opacity="0.93"/>
<circle cx="790.1" cy="266.5" r="1.0" fill="#a04090" opacity="0.92"/>
<circle cx="1121.4" cy="167.2" r="1.1" fill="#a04090" opacity="0.79"/>
<circle cx="1148.1" cy="99.4" r="0.6" fill="#ffffff" opacity="0.97"/>
<circle cx="798.7" cy="240.1" r="0.8" fill="#f0c070" opacity="0.63"/>
<circle cx="908.6" cy="391.3" r="0.7" fill="#f0c070" opacity="0.89"/>
<circle cx="914.8" cy="384.6" r="0.7" fill="#c060a0" opacity="0.82"/>
<circle cx="1028.6" cy="488.1" r="1.0" fill="#a04090" opacity="0.98"/>
<circle cx="1006.7" cy="240.1" r="0.9" fill="#ffd9a0" opacity="0.87"/>
<circle cx="1154.2" cy="252.4" r="1.0" fill="#c060a0" opacity="0.49"/>
<circle cx="793.9" cy="430.5" r="0.9" fill="#d08030" opacity="0.52"/>
<circle cx="1015.4" cy="211.2" r="0.6" fill="#a04090" opacity="0.89"/>
<circle cx="935.4" cy="431.5" r="0.8" fill="#ffffff" opacity="0.99"/>
<circle cx="1042.0" cy="321.7" r="1.0" fill="#a04090" opacity="0.82"/>
<circle cx="1148.7" cy="311.6" r="1.0" fill="#e8a040" opacity="0.78"/>
<circle cx="870.2" cy="323.0" r="0.7" fill="#a04090" opacity="0.46"/>
<circle cx="1032.4" cy="345.2" r="0.6" fill="#f0c070" opacity="0.87"/>
<circle cx="999.3" cy="411.3" r="0.9" fill="#c060a0" opacity="0.66"/>
<circle cx="1038.6" cy="298.6" r="0.8" fill="#e8a040" opacity="0.48"/>
<circle cx="989.5" cy="174.2" r="1.0" fill="#ffe8d0" opacity="0.53"/>
<circle cx="938.6" cy="398.5" r="0.8" fill="#f0c070" opacity="0.47"/>
<circle cx="1144.5" cy="304.9" r="1.2" fill="#ffffff" opacity="0.74"/>
<circle cx="782.3" cy="265.0" r="1.1" fill="#e8a040" opacity="0.82"/>
<circle cx="1104.9" cy="135.5" r="1.0" fill="#ffffff" opacity="0.48"/>
<circle cx="1001.3" cy="468.1" r="1.1" fill="#ffffff" opacity="0.93"/>
<circle cx="1088.3" cy="440.0" r="0.8" fill="#d08030" opacity="0.78"/>
</g>
<g filter="url(#blobs)" fill="#fff">
<ellipse cx="762.8" cy="95.5" rx="5.7" ry="2.3" transform="rotate(40 762.8 95.5)"/>
<ellipse cx="785.1" cy="94.2" rx="4.0" ry="2.5"/>
<ellipse cx="781.1" cy="103.0" rx="2.3" ry="2.1"/>
<ellipse cx="802.0" cy="99.6" rx="2.1" ry="2.1"/>
<ellipse cx="800.7" cy="109.1" rx="2.1" ry="1.7"/>
<ellipse cx="773.6" cy="114.5" rx="2.1" ry="2.1"/>
<ellipse cx="820.3" cy="112.4" rx="1.7" ry="1.7"/>
<ellipse cx="835.8" cy="114.5" rx="1.7" ry="1.7"/>
<ellipse cx="854.7" cy="109.7" rx="1.7" ry="1.7"/>
<ellipse cx="786.5" cy="120.5" rx="1.7" ry="1.7"/>
<ellipse cx="760.1" cy="132.7" rx="2.1" ry="2.1"/>
<ellipse cx="865.5" cy="119.2" rx="1.7" ry="1.7"/>
<ellipse cx="865.5" cy="127.3" rx="2.1" ry="2.1"/>
<ellipse cx="843.2" cy="167.8" rx="5.7" ry="2.3"/>
<ellipse cx="885.1" cy="205.7" rx="4.6" ry="2.3"/>
<ellipse cx="798.0" cy="181.4" rx="2.9" ry="2.1"/>
<ellipse cx="845.9" cy="191.5" rx="2.3" ry="2.1"/>
<ellipse cx="827.0" cy="185.4" rx="1.7" ry="1.7"/>
<ellipse cx="853.4" cy="188.1" rx="1.7" ry="1.7"/>
<ellipse cx="770.3" cy="212.4" rx="2.1" ry="2.1"/>
<ellipse cx="863.5" cy="221.2" rx="2.3" ry="2.5"/>
<ellipse cx="900.7" cy="221.2" rx="2.1" ry="2.1"/>
<ellipse cx="826.4" cy="237.4" rx="6.9" ry="2.5"/>
<ellipse cx="848.0" cy="258.4" rx="2.5" ry="2.3"/>
<ellipse cx="931.1" cy="259.7" rx="2.9" ry="2.3"/>
<ellipse cx="959.5" cy="96.9" rx="2.1" ry="2.9"/>
<ellipse cx="966.2" cy="115.8" rx="1.4" ry="1.4"/>
<ellipse cx="990.5" cy="149.6" rx="2.5" ry="2.5"/>
<ellipse cx="983.1" cy="140.1" rx="1.7" ry="1.7"/>
<ellipse cx="970.3" cy="159.7" rx="2.1" ry="1.7"/>
<ellipse cx="1040.5" cy="105.0" rx="2.1" ry="2.1"/>
<ellipse cx="1136.5" cy="123.2" rx="2.1" ry="2.1"/>
<ellipse cx="1117.6" cy="125.9" rx="1.4" ry="1.4"/>
<ellipse cx="1067.6" cy="131.4" rx="2.1" ry="2.9"/>
<ellipse cx="1102.7" cy="165.1" rx="1.7" ry="1.7"/>
<ellipse cx="1040.5" cy="190.8" rx="2.3" ry="2.9"/>
<ellipse cx="1084.5" cy="196.2" rx="3.4" ry="2.3"/>
<ellipse cx="1145.9" cy="192.2" rx="2.3" ry="1.7"/>
<ellipse cx="1109.5" cy="258.4" rx="2.1" ry="1.7"/>
<ellipse cx="1036.5" cy="274.6" rx="2.1" ry="1.7"/>
<ellipse cx="1077.0" cy="240.8" rx="1.7" ry="1.4"/>
<ellipse cx="1044.6" cy="252.3" rx="1.4" ry="1.4"/>
<ellipse cx="816.9" cy="296.9" rx="1.7" ry="1.7"/>
<ellipse cx="896.6" cy="311.8" rx="2.1" ry="1.7"/>
<ellipse cx="937.8" cy="303.0" rx="1.7" ry="1.7"/>
<ellipse cx="934.5" cy="320.5" rx="1.7" ry="1.7"/>
<ellipse cx="796.6" cy="332.7" rx="1.7" ry="1.7"/>
<ellipse cx="907.4" cy="404.3" rx="2.9" ry="2.5"/>
<ellipse cx="916.2" cy="403.0" rx="2.1" ry="2.1"/>
<ellipse cx="835.1" cy="398.9" rx="2.5" ry="2.5"/>
<ellipse cx="840.5" cy="373.2" rx="1.7" ry="1.7"/>
<ellipse cx="828.4" cy="377.3" rx="1.4" ry="1.4"/>
<ellipse cx="846.6" cy="364.5" rx="1.7" ry="1.7"/>
<ellipse cx="814.2" cy="416.5" rx="2.1" ry="1.7"/>
<ellipse cx="837.8" cy="419.2" rx="1.4" ry="1.4"/>
<ellipse cx="862.2" cy="414.5" rx="1.7" ry="1.4"/>
<ellipse cx="860.8" cy="427.3" rx="1.4" ry="1.4"/>
<ellipse cx="873.0" cy="426.6" rx="1.1" ry="1.1"/>
<ellipse cx="881.1" cy="428.0" rx="1.4" ry="1.4"/>
<ellipse cx="898.6" cy="426.6" rx="1.1" ry="1.1"/>
<ellipse cx="847.3" cy="429.3" rx="1.7" ry="1.4"/>
<ellipse cx="941.9" cy="419.2" rx="3.4" ry="1.7"/>
<ellipse cx="876.4" cy="473.9" rx="2.5" ry="2.3"/>
<ellipse cx="925.0" cy="471.9" rx="2.3" ry="4.0"/>
<ellipse cx="890.5" cy="436.8" rx="1.4" ry="1.4"/>
<ellipse cx="948.6" cy="392.2" rx="1.4" ry="2.3"/>
<ellipse cx="1001.4" cy="292.8" rx="3.4" ry="2.3"/>
<ellipse cx="981.1" cy="288.8" rx="1.7" ry="1.7"/>
<ellipse cx="977.0" cy="298.9" rx="1.4" ry="1.4"/>
<ellipse cx="1110.1" cy="338.1" rx="2.5" ry="2.5"/>
<ellipse cx="1127.0" cy="331.4" rx="2.9" ry="2.3"/>
<ellipse cx="1139.2" cy="338.1" rx="3.4" ry="2.3"/>
<ellipse cx="1127.0" cy="389.5" rx="2.3" ry="4.6"/>
<ellipse cx="1104.1" cy="415.1" rx="2.3" ry="2.9"/>
<ellipse cx="1079.7" cy="448.9" rx="4.6" ry="2.3"/>
<ellipse cx="1007.4" cy="444.9" rx="1.7" ry="1.7"/>
<ellipse cx="972.3" cy="462.4" rx="2.5" ry="2.5"/>
<ellipse cx="994.6" cy="407.0" rx="2.1" ry="2.1"/>
<ellipse cx="1006.8" cy="412.4" rx="1.4" ry="1.4"/>
<ellipse cx="952.7" cy="377.3" rx="1.4" ry="1.7"/>
<ellipse cx="1083.1" cy="371.2" rx="1.1" ry="1.1"/>
</g>
<g filter="url(#blobm_b)" fill="#fff">
<ellipse cx="829.7" cy="93.5" rx="4.5" ry="5.8"/>
<ellipse cx="771.6" cy="127.3" rx="4.5" ry="4.5"/>
<ellipse cx="770.9" cy="139.5" rx="8.5" ry="4.7"/>
<ellipse cx="760.1" cy="148.9" rx="5.1" ry="4.5"/>
<ellipse cx="844.6" cy="148.9" rx="5.8" ry="4.5"/>
<ellipse cx="836.5" cy="158.4" rx="4.5" ry="3.8"/>
<ellipse cx="791.2" cy="165.1" rx="7.2" ry="4.7"/>
<ellipse cx="920.3" cy="171.9" rx="4.5" ry="5.8"/>
<ellipse cx="814.9" cy="192.2" rx="10.5" ry="5.1" transform="rotate(15 814.9 192.2)"/>
<ellipse cx="782.4" cy="220.5" rx="5.1" ry="4.5"/>
<ellipse cx="790.5" cy="239.5" rx="5.8" ry="4.5"/>
<ellipse cx="816.2" cy="248.2" rx="8.5" ry="4.5"/>
<ellipse cx="909.5" cy="244.2" rx="9.9" ry="5.1"/>
<ellipse cx="896.6" cy="248.9" rx="5.8" ry="3.8"/>
<ellipse cx="880.4" cy="255.7" rx="5.8" ry="3.8"/>
<ellipse cx="916.2" cy="274.6" rx="3.8" ry="4.5"/>
<ellipse cx="954.1" cy="117.8" rx="5.1" ry="7.2"/>
<ellipse cx="960.8" cy="144.9" rx="6.5" ry="3.8"/>
<ellipse cx="1015.5" cy="118.5" rx="9.2" ry="5.1"/>
<ellipse cx="1041.9" cy="131.4" rx="9.9" ry="4.5"/>
<ellipse cx="1018.9" cy="154.3" rx="6.1" ry="4.5"/>
<ellipse cx="1119.6" cy="90.1" rx="7.8" ry="3.8"/>
<ellipse cx="1073.0" cy="140.8" rx="4.5" ry="9.9" transform="rotate(25 1073.0 140.8)"/>
<ellipse cx="1128.4" cy="167.8" rx="4.5" ry="8.5" transform="rotate(-30 1128.4 167.8)"/>
<ellipse cx="1060.8" cy="213.8" rx="4.5" ry="4.5"/>
<ellipse cx="1027.0" cy="237.4" rx="6.5" ry="3.8"/>
<ellipse cx="1073.0" cy="267.8" rx="9.9" ry="4.7"/>
<ellipse cx="1093.2" cy="272.6" rx="9.2" ry="5.1"/>
<ellipse cx="1144.6" cy="277.3" rx="8.5" ry="4.5"/>
<ellipse cx="763.5" cy="300.3" rx="7.2" ry="4.7"/>
<ellipse cx="840.5" cy="298.9" rx="9.9" ry="5.1"/>
<ellipse cx="868.9" cy="330.0" rx="4.5" ry="7.2"/>
<ellipse cx="812.2" cy="346.9" rx="6.1" ry="4.2"/>
<ellipse cx="844.6" cy="343.5" rx="4.5" ry="7.2" transform="rotate(-30 844.6 343.5)"/>
<ellipse cx="860.8" cy="378.6" rx="8.5" ry="4.5"/>
<ellipse cx="885.1" cy="398.9" rx="4.5" ry="7.2"/>
<ellipse cx="906.8" cy="375.9" rx="8.5" ry="4.5"/>
<ellipse cx="909.5" cy="394.9" rx="3.8" ry="5.8"/>
<ellipse cx="935.8" cy="438.8" rx="6.1" ry="4.5"/>
<ellipse cx="804.1" cy="443.5" rx="9.2" ry="5.1"/>
<ellipse cx="835.1" cy="456.4" rx="13.9" ry="4.5" transform="rotate(15 835.1 456.4)"/>
<ellipse cx="1058.1" cy="327.3" rx="8.5" ry="4.7"/>
<ellipse cx="1075.7" cy="346.2" rx="8.5" ry="4.5"/>
<ellipse cx="1020.3" cy="401.6" rx="4.5" ry="5.8"/>
<ellipse cx="960.1" cy="391.5" rx="10.5" ry="4.7"/>
<ellipse cx="977.0" cy="424.6" rx="7.2" ry="4.5"/>
<ellipse cx="1110.8" cy="444.9" rx="4.5" ry="3.8"/>
<ellipse cx="1014.9" cy="446.9" rx="3.8" ry="3.8"/>
<ellipse cx="986.5" cy="472.6" rx="9.9" ry="3.8"/>
</g>
<g filter="url(#blobl_b)" fill="#fff">
<ellipse cx="832.4" cy="101.6" rx="13.0" ry="8.2"/>
<ellipse cx="883.1" cy="123.2" rx="9.6" ry="6.9" transform="rotate(10 883.1 123.2)"/>
<ellipse cx="791.9" cy="140.1" rx="10.9" ry="6.9"/>
<ellipse cx="824.3" cy="138.1" rx="10.9" ry="7.6"/>
<ellipse cx="852.7" cy="155.7" rx="13.6" ry="10.9"/>
<ellipse cx="858.1" cy="140.8" rx="7.6" ry="6.2"/>
<ellipse cx="931.1" cy="93.5" rx="10.3" ry="7.6"/>
<ellipse cx="925.7" cy="107.0" rx="8.9" ry="7.6"/>
<ellipse cx="939.2" cy="107.0" rx="11.6" ry="8.9"/>
<ellipse cx="924.3" cy="120.5" rx="10.3" ry="7.6"/>
<ellipse cx="936.5" cy="124.6" rx="10.3" ry="8.9"/>
<ellipse cx="929.7" cy="136.8" rx="11.6" ry="7.6"/>
<ellipse cx="943.2" cy="144.9" rx="8.9" ry="8.9"/>
<ellipse cx="945.9" cy="93.5" rx="6.2" ry="7.6"/>
<ellipse cx="905.4" cy="174.6" rx="8.9" ry="10.3"/>
<ellipse cx="891.9" cy="182.7" rx="17.0" ry="6.2" transform="rotate(-20 891.9 182.7)"/>
<ellipse cx="912.2" cy="188.1" rx="8.9" ry="11.6"/>
<ellipse cx="875.7" cy="198.9" rx="14.3" ry="7.6"/>
<ellipse cx="766.2" cy="243.5" rx="8.9" ry="7.6"/>
<ellipse cx="781.1" cy="254.3" rx="14.3" ry="13.0"/>
<ellipse cx="777.0" cy="267.8" rx="17.0" ry="10.3"/>
<ellipse cx="794.6" cy="262.4" rx="6.2" ry="8.9"/>
<ellipse cx="874.3" cy="273.2" rx="11.6" ry="7.6"/>
<ellipse cx="944.6" cy="273.2" rx="7.6" ry="7.6"/>
<ellipse cx="1043.2" cy="92.2" rx="7.6" ry="6.2"/>
<ellipse cx="1064.9" cy="94.9" rx="6.2" ry="6.2"/>
<ellipse cx="1079.7" cy="94.9" rx="6.2" ry="7.6"/>
<ellipse cx="1140.5" cy="107.0" rx="6.9" ry="6.9"/>
<ellipse cx="1109.5" cy="155.7" rx="13.0" ry="7.6"/>
<ellipse cx="967.6" cy="183.4" rx="11.6" ry="6.9" transform="rotate(10 967.6 183.4)"/>
<ellipse cx="1010.8" cy="196.2" rx="10.3" ry="7.6"/>
<ellipse cx="1020.3" cy="208.4" rx="11.6" ry="8.9"/>
<ellipse cx="1036.5" cy="205.7" rx="10.3" ry="7.6"/>
<ellipse cx="1052.7" cy="201.6" rx="8.9" ry="10.3"/>
<ellipse cx="1064.9" cy="188.1" rx="6.2" ry="6.2"/>
<ellipse cx="1025.7" cy="220.5" rx="13.0" ry="6.2"/>
<ellipse cx="973.0" cy="246.2" rx="18.4" ry="10.3"/>
<ellipse cx="967.6" cy="262.4" rx="17.0" ry="14.3"/>
<ellipse cx="983.8" cy="255.7" rx="11.6" ry="11.6"/>
<ellipse cx="963.5" cy="274.6" rx="14.3" ry="7.6"/>
<ellipse cx="993.2" cy="248.9" rx="6.2" ry="7.6"/>
<ellipse cx="1141.9" cy="265.1" rx="6.2" ry="8.9"/>
<ellipse cx="794.6" cy="285.4" rx="10.3" ry="7.6"/>
<ellipse cx="875.7" cy="285.4" rx="11.6" ry="7.6"/>
<ellipse cx="866.2" cy="311.1" rx="6.2" ry="10.3"/>
<ellipse cx="881.1" cy="313.8" rx="7.6" ry="8.9"/>
<ellipse cx="855.4" cy="354.3" rx="7.6" ry="8.9" transform="rotate(-30 855.4 354.3)"/>
<ellipse cx="879.7" cy="350.3" rx="8.9" ry="8.2"/>
<ellipse cx="874.3" cy="367.8" rx="14.3" ry="7.6"/>
<ellipse cx="866.2" cy="362.4" rx="7.6" ry="6.2"/>
<ellipse cx="764.9" cy="359.7" rx="8.9" ry="7.6"/>
<ellipse cx="770.3" cy="374.6" rx="11.6" ry="10.3"/>
<ellipse cx="787.8" cy="375.9" rx="10.3" ry="10.3"/>
<ellipse cx="764.9" cy="388.1" rx="6.2" ry="6.2"/>
<ellipse cx="790.5" cy="404.3" rx="15.7" ry="8.9"/>
<ellipse cx="794.6" cy="393.5" rx="7.6" ry="6.2"/>
<ellipse cx="848.6" cy="390.8" rx="18.4" ry="10.9" transform="rotate(10 848.6 390.8)"/>
<ellipse cx="871.6" cy="390.8" rx="7.6" ry="6.2"/>
<ellipse cx="882.4" cy="388.1" rx="7.6" ry="6.2"/>
<ellipse cx="874.3" cy="405.7" rx="8.9" ry="7.6"/>
<ellipse cx="901.4" cy="389.5" rx="6.2" ry="6.2"/>
<ellipse cx="770.3" cy="459.7" rx="12.3" ry="7.6"/>
<ellipse cx="1027.0" cy="292.2" rx="7.6" ry="8.9"/>
<ellipse cx="1006.8" cy="313.8" rx="17.0" ry="13.0"/>
<ellipse cx="981.1" cy="325.9" rx="18.4" ry="7.6"/>
<ellipse cx="1025.7" cy="334.1" rx="13.0" ry="11.6"/>
<ellipse cx="1036.5" cy="312.4" rx="7.6" ry="6.2"/>
<ellipse cx="967.6" cy="338.1" rx="11.6" ry="6.2"/>
<ellipse cx="977.0" cy="343.5" rx="6.2" ry="7.6"/>
<ellipse cx="1136.5" cy="293.5" rx="11.6" ry="14.3"/>
<ellipse cx="1132.4" cy="317.8" rx="10.3" ry="7.6"/>
<ellipse cx="1144.6" cy="320.5" rx="6.2" ry="8.9"/>
<ellipse cx="1036.5" cy="358.4" rx="14.3" ry="8.9"/>
<ellipse cx="1010.8" cy="366.5" rx="15.7" ry="7.6"/>
<ellipse cx="1051.4" cy="374.6" rx="18.4" ry="8.9" transform="rotate(20 1051.4 374.6)"/>
<ellipse cx="1014.9" cy="385.4" rx="11.6" ry="14.3"/>
<ellipse cx="1004.1" cy="392.2" rx="10.3" ry="7.6"/>
<ellipse cx="1041.9" cy="389.5" rx="11.6" ry="6.2"/>
<ellipse cx="1066.2" cy="367.8" rx="6.2" ry="8.9"/>
<ellipse cx="973.6" cy="417.8" rx="11.6" ry="8.2"/>
<ellipse cx="1120.3" cy="404.3" rx="13.0" ry="10.3"/>
<ellipse cx="1114.9" cy="435.4" rx="10.3" ry="8.9"/>
<ellipse cx="1048.6" cy="455.7" rx="19.7" ry="17.0"/>
<ellipse cx="1068.9" cy="435.4" rx="7.6" ry="8.9"/>
<ellipse cx="1036.5" cy="439.5" rx="6.2" ry="7.6"/>
<ellipse cx="1064.9" cy="459.7" rx="8.9" ry="7.6"/>
<ellipse cx="1052.7" cy="471.9" rx="18.4" ry="6.2"/>
<ellipse cx="1025.7" cy="467.8" rx="7.6" ry="6.2"/>
</g>
</g>
<g clip-path="url(#clip_c)">
<rect x="1406.8" y="87.6" width="385.0" height="383.7" fill="#000"/>
<g filter="url(#spk)">
<circle cx="1477.2" cy="448.7" r="1.0" fill="#a04090" opacity="0.94"/>
<circle cx="1478.6" cy="337.7" r="1.2" fill="#fff0e0" opacity="0.63"/>
<circle cx="1453.4" cy="320.4" r="0.8" fill="#ffd9a0" opacity="0.62"/>
<circle cx="1528.9" cy="99.0" r="1.1" fill="#d08030" opacity="0.60"/>
<circle cx="1785.3" cy="356.8" r="0.8" fill="#e8a040" opacity="0.94"/>
<circle cx="1788.1" cy="113.0" r="0.7" fill="#ffe8d0" opacity="0.63"/>
<circle cx="1661.5" cy="129.1" r="0.9" fill="#f0c070" opacity="0.66"/>
<circle cx="1553.3" cy="124.8" r="1.1" fill="#ffffff" opacity="0.48"/>
<circle cx="1709.9" cy="406.1" r="0.8" fill="#f0c070" opacity="0.93"/>
<circle cx="1761.0" cy="224.4" r="1.0" fill="#ffe8d0" opacity="0.70"/>
<circle cx="1594.0" cy="91.3" r="0.8" fill="#d08030" opacity="0.88"/>
<circle cx="1721.0" cy="477.5" r="1.0" fill="#a04090" opacity="0.93"/>
<circle cx="1739.1" cy="436.7" r="0.9" fill="#fff0e0" opacity="0.83"/>
<circle cx="1764.9" cy="195.7" r="0.9" fill="#f0c070" opacity="0.73"/>
<circle cx="1476.7" cy="417.7" r="1.1" fill="#e8a040" opacity="0.62"/>
<circle cx="1471.3" cy="455.2" r="1.0" fill="#ffe8d0" opacity="0.61"/>
<circle cx="1786.6" cy="354.9" r="0.9" fill="#d08030" opacity="0.90"/>
<circle cx="1741.3" cy="375.6" r="1.0" fill="#fff0e0" opacity="0.47"/>
<circle cx="1751.9" cy="92.5" r="0.7" fill="#a04090" opacity="0.60"/>
<circle cx="1605.1" cy="389.3" r="1.2" fill="#ffffff" opacity="0.49"/>
<circle cx="1704.0" cy="307.7" r="1.0" fill="#ffffff" opacity="0.45"/>
<circle cx="1566.0" cy="439.3" r="0.9" fill="#c060a0" opacity="0.88"/>
<circle cx="1449.7" cy="232.3" r="0.8" fill="#ffd9a0" opacity="0.50"/>
<circle cx="1599.0" cy="206.3" r="1.1" fill="#e8a040" opacity="0.91"/>
<circle cx="1402.8" cy="114.0" r="0.8" fill="#ffe8d0" opacity="0.52"/>
<circle cx="1703.7" cy="163.4" r="0.7" fill="#f0c070" opacity="0.50"/>
<circle cx="1542.4" cy="243.9" r="0.7" fill="#ffffff" opacity="0.89"/>
<circle cx="1666.3" cy="279.8" r="0.6" fill="#e8a040" opacity="0.49"/>
<circle cx="1753.4" cy="147.4" r="1.1" fill="#fff0e0" opacity="0.45"/>
<circle cx="1754.8" cy="202.9" r="0.7" fill="#f0c070" opacity="0.47"/>
<circle cx="1549.6" cy="106.0" r="1.0" fill="#ffffff" opacity="0.98"/>
<circle cx="1698.5" cy="410.2" r="0.9" fill="#c060a0" opacity="0.88"/>
<circle cx="1792.0" cy="381.8" r="1.1" fill="#ffffff" opacity="0.93"/>
<circle cx="1737.0" cy="359.4" r="1.0" fill="#f0c070" opacity="0.95"/>
<circle cx="1587.9" cy="88.2" r="1.1" fill="#d08030" opacity="0.69"/>
<circle cx="1524.8" cy="214.2" r="0.7" fill="#f0c070" opacity="0.47"/>
<circle cx="1769.3" cy="246.8" r="0.7" fill="#d08030" opacity="0.58"/>
<circle cx="1771.3" cy="246.5" r="1.2" fill="#c060a0" opacity="0.76"/>
<circle cx="1711.7" cy="464.1" r="0.9" fill="#fff0e0" opacity="0.66"/>
<circle cx="1720.9" cy="377.8" r="0.9" fill="#ffffff" opacity="0.62"/>
<circle cx="1567.2" cy="356.3" r="0.8" fill="#ffffff" opacity="0.46"/>
<circle cx="1468.4" cy="333.3" r="1.1" fill="#f0c070" opacity="0.89"/>
<circle cx="1687.2" cy="263.4" r="1.0" fill="#f0c070" opacity="0.93"/>
<circle cx="1541.8" cy="133.4" r="0.9" fill="#e8a040" opacity="0.58"/>
<circle cx="1648.6" cy="466.1" r="1.2" fill="#fff0e0" opacity="0.77"/>
<circle cx="1507.8" cy="98.7" r="0.7" fill="#ffd9a0" opacity="0.73"/>
<circle cx="1622.0" cy="404.3" r="0.9" fill="#d08030" opacity="0.63"/>
<circle cx="1727.5" cy="405.2" r="0.8" fill="#f0c070" opacity="0.98"/>
<circle cx="1533.3" cy="347.1" r="0.8" fill="#ffd9a0" opacity="0.99"/>
<circle cx="1675.8" cy="215.5" r="1.2" fill="#d08030" opacity="0.84"/>
<circle cx="1433.2" cy="226.9" r="0.8" fill="#ffe8d0" opacity="0.61"/>
<circle cx="1601.4" cy="404.4" r="0.8" fill="#ffd9a0" opacity="0.85"/>
<circle cx="1477.3" cy="145.2" r="1.0" fill="#a04090" opacity="0.68"/>
<circle cx="1490.0" cy="404.8" r="0.9" fill="#d08030" opacity="0.56"/>
<circle cx="1794.4" cy="368.8" r="0.7" fill="#fff0e0" opacity="0.64"/>
<circle cx="1778.4" cy="208.1" r="0.7" fill="#ffe8d0" opacity="0.60"/>
<circle cx="1670.5" cy="401.2" r="1.1" fill="#e8a040" opacity="0.87"/>
<circle cx="1754.8" cy="232.5" r="1.0" fill="#a04090" opacity="0.84"/>
<circle cx="1767.6" cy="325.7" r="1.0" fill="#ffffff" opacity="0.66"/>
<circle cx="1547.4" cy="405.6" r="1.1" fill="#ffd9a0" opacity="0.95"/>
<circle cx="1503.4" cy="288.6" r="1.1" fill="#ffe8d0" opacity="0.65"/>
<circle cx="1772.1" cy="366.1" r="0.7" fill="#fff0e0" opacity="0.51"/>
<circle cx="1737.9" cy="394.7" r="0.6" fill="#c060a0" opacity="0.57"/>
<circle cx="1782.1" cy="364.0" r="0.8" fill="#fff0e0" opacity="0.66"/>
<circle cx="1430.8" cy="120.5" r="1.0" fill="#c060a0" opacity="0.56"/>
<circle cx="1533.7" cy="188.9" r="1.0" fill="#ffffff" opacity="0.90"/>
<circle cx="1484.7" cy="399.1" r="0.8" fill="#ffffff" opacity="0.59"/>
<circle cx="1726.1" cy="172.5" r="0.8" fill="#ffe8d0" opacity="0.51"/>
<circle cx="1655.8" cy="154.6" r="1.1" fill="#ffffff" opacity="0.76"/>
<circle cx="1795.6" cy="361.4" r="1.0" fill="#a04090" opacity="0.56"/>
<circle cx="1636.1" cy="414.8" r="1.2" fill="#ffffff" opacity="0.66"/>
<circle cx="1721.6" cy="410.2" r="1.1" fill="#c060a0" opacity="0.64"/>
<circle cx="1447.5" cy="442.6" r="0.8" fill="#ffe8d0" opacity="0.56"/>
<circle cx="1521.3" cy="453.6" r="1.1" fill="#d08030" opacity="0.97"/>
<circle cx="1646.1" cy="290.7" r="0.7" fill="#ffffff" opacity="0.80"/>
<circle cx="1722.1" cy="421.8" r="1.1" fill="#f0c070" opacity="0.77"/>
<circle cx="1459.5" cy="200.7" r="1.2" fill="#d08030" opacity="0.89"/>
<circle cx="1399.9" cy="218.7" r="0.6" fill="#ffe8d0" opacity="0.45"/>
<circle cx="1604.6" cy="365.2" r="0.8" fill="#ffd9a0" opacity="0.81"/>
<circle cx="1577.8" cy="425.9" r="1.1" fill="#e8a040" opacity="0.96"/>
<circle cx="1658.8" cy="98.7" r="0.8" fill="#ffffff" opacity="0.84"/>
<circle cx="1731.7" cy="457.1" r="1.0" fill="#a04090" opacity="0.59"/>
<circle cx="1707.4" cy="138.2" r="1.1" fill="#ffe8d0" opacity="0.71"/>
<circle cx="1719.5" cy="359.3" r="0.6" fill="#c060a0" opacity="0.71"/>
<circle cx="1687.2" cy="154.1" r="0.6" fill="#ffe8d0" opacity="0.54"/>
<circle cx="1684.4" cy="287.8" r="1.0" fill="#fff0e0" opacity="0.90"/>
<circle cx="1672.9" cy="237.6" r="0.7" fill="#fff0e0" opacity="0.49"/>
<circle cx="1585.9" cy="385.9" r="0.9" fill="#a04090" opacity="0.98"/>
<circle cx="1622.7" cy="422.4" r="1.0" fill="#ffd9a0" opacity="0.52"/>
<circle cx="1445.6" cy="225.3" r="1.0" fill="#ffffff" opacity="0.66"/>
<circle cx="1746.1" cy="152.7" r="0.8" fill="#d08030" opacity="0.46"/>
<circle cx="1729.3" cy="157.7" r="0.8" fill="#d08030" opacity="0.95"/>
<circle cx="1727.5" cy="171.5" r="1.2" fill="#ffe8d0" opacity="0.51"/>
<circle cx="1680.1" cy="295.7" r="0.7" fill="#d08030" opacity="0.63"/>
<circle cx="1418.7" cy="491.0" r="1.1" fill="#e8a040" opacity="0.78"/>
<circle cx="1788.7" cy="439.1" r="0.7" fill="#c060a0" opacity="0.69"/>
<circle cx="1430.3" cy="333.8" r="1.0" fill="#a04090" opacity="0.47"/>
<circle cx="1774.7" cy="222.9" r="1.2" fill="#f0c070" opacity="0.69"/>
<circle cx="1483.9" cy="403.7" r="1.0" fill="#e8a040" opacity="0.97"/>
<circle cx="1444.7" cy="244.3" r="0.8" fill="#ffffff" opacity="0.61"/>
<circle cx="1754.5" cy="148.4" r="0.6" fill="#ffffff" opacity="0.58"/>
<circle cx="1444.3" cy="123.0" r="0.7" fill="#f0c070" opacity="0.95"/>
<circle cx="1592.3" cy="427.1" r="0.7" fill="#ffffff" opacity="0.80"/>
<circle cx="1720.9" cy="403.4" r="1.0" fill="#ffffff" opacity="0.62"/>
<circle cx="1577.8" cy="399.5" r="1.1" fill="#ffd9a0" opacity="0.54"/>
<circle cx="1621.9" cy="308.5" r="0.9" fill="#e8a040" opacity="0.97"/>
<circle cx="1611.2" cy="399.8" r="0.8" fill="#a04090" opacity="0.47"/>
<circle cx="1496.8" cy="338.2" r="0.7" fill="#e8a040" opacity="0.67"/>
<circle cx="1559.4" cy="189.1" r="0.7" fill="#e8a040" opacity="0.98"/>
<circle cx="1588.8" cy="480.7" r="1.1" fill="#ffffff" opacity="0.50"/>
<circle cx="1422.5" cy="347.0" r="0.7" fill="#fff0e0" opacity="0.67"/>
<circle cx="1709.6" cy="349.4" r="0.7" fill="#a04090" opacity="0.77"/>
<circle cx="1657.5" cy="402.8" r="1.2" fill="#d08030" opacity="0.84"/>
<circle cx="1776.4" cy="357.4" r="0.8" fill="#c060a0" opacity="0.87"/>
<circle cx="1659.8" cy="133.2" r="0.6" fill="#a04090" opacity="0.53"/>
<circle cx="1436.0" cy="239.2" r="1.1" fill="#ffe8d0" opacity="0.66"/>
<circle cx="1425.7" cy="240.9" r="0.7" fill="#c060a0" opacity="0.93"/>
<circle cx="1702.1" cy="453.5" r="0.7" fill="#e8a040" opacity="0.98"/>
<circle cx="1660.8" cy="352.9" r="0.7" fill="#c060a0" opacity="0.90"/>
<circle cx="1724.8" cy="375.0" r="0.9" fill="#ffd9a0" opacity="0.88"/>
<circle cx="1559.5" cy="372.4" r="0.9" fill="#ffe8d0" opacity="0.77"/>
<circle cx="1563.8" cy="359.0" r="0.8" fill="#ffffff" opacity="0.54"/>
<circle cx="1657.6" cy="119.6" r="0.9" fill="#ffffff" opacity="0.45"/>
<circle cx="1515.6" cy="447.8" r="0.9" fill="#fff0e0" opacity="0.79"/>
<circle cx="1503.2" cy="462.7" r="0.7" fill="#ffffff" opacity="0.68"/>
<circle cx="1529.9" cy="241.8" r="0.8" fill="#ffffff" opacity="0.69"/>
<circle cx="1673.3" cy="141.7" r="0.9" fill="#d08030" opacity="0.54"/>
<circle cx="1684.5" cy="298.0" r="1.1" fill="#ffffff" opacity="0.89"/>
<circle cx="1561.6" cy="225.4" r="0.6" fill="#e8a040" opacity="0.45"/>
<circle cx="1711.0" cy="190.8" r="1.0" fill="#ffffff" opacity="0.84"/>
<circle cx="1435.4" cy="227.0" r="0.8" fill="#fff0e0" opacity="0.68"/>
<circle cx="1664.7" cy="134.6" r="0.9" fill="#ffffff" opacity="0.56"/>
<circle cx="1602.4" cy="392.2" r="0.8" fill="#fff0e0" opacity="0.56"/>
<circle cx="1455.9" cy="160.7" r="1.0" fill="#ffffff" opacity="0.55"/>
<circle cx="1512.6" cy="236.0" r="0.8" fill="#a04090" opacity="0.62"/>
<circle cx="1609.6" cy="264.8" r="1.1" fill="#fff0e0" opacity="0.96"/>
<circle cx="1431.2" cy="466.4" r="0.6" fill="#f0c070" opacity="1.00"/>
<circle cx="1622.0" cy="286.1" r="0.8" fill="#f0c070" opacity="0.77"/>
<circle cx="1742.9" cy="158.6" r="1.0" fill="#ffffff" opacity="0.58"/>
<circle cx="1488.5" cy="213.0" r="0.7" fill="#fff0e0" opacity="0.74"/>
<circle cx="1718.3" cy="196.8" r="0.9" fill="#c060a0" opacity="0.61"/>
<circle cx="1656.4" cy="349.8" r="0.9" fill="#ffd9a0" opacity="0.73"/>
<circle cx="1742.8" cy="87.5" r="1.1" fill="#ffd9a0" opacity="0.57"/>
<circle cx="1500.1" cy="213.4" r="0.9" fill="#ffffff" opacity="0.90"/>
<circle cx="1783.5" cy="368.9" r="1.1" fill="#d08030" opacity="0.79"/>
<circle cx="1659.3" cy="205.1" r="0.8" fill="#e8a040" opacity="0.95"/>
<circle cx="1648.6" cy="109.4" r="0.7" fill="#fff0e0" opacity="0.59"/>
<circle cx="1527.0" cy="140.5" r="1.2" fill="#ffe8d0" opacity="0.99"/>
<circle cx="1721.6" cy="116.0" r="0.7" fill="#fff0e0" opacity="0.69"/>
<circle cx="1707.9" cy="156.7" r="0.9" fill="#ffffff" opacity="0.70"/>
<circle cx="1537.8" cy="187.5" r="1.1" fill="#ffe8d0" opacity="0.51"/>
<circle cx="1542.5" cy="113.7" r="1.0" fill="#fff0e0" opacity="0.62"/>
<circle cx="1497.6" cy="228.7" r="0.9" fill="#a04090" opacity="0.52"/>
<circle cx="1435.4" cy="251.4" r="1.2" fill="#ffffff" opacity="0.66"/>
<circle cx="1423.4" cy="324.2" r="0.6" fill="#ffffff" opacity="0.61"/>
<circle cx="1659.2" cy="134.8" r="1.1" fill="#a04090" opacity="0.46"/>
<circle cx="1499.5" cy="359.0" r="1.0" fill="#fff0e0" opacity="0.81"/>
<circle cx="1724.0" cy="107.2" r="0.7" fill="#a04090" opacity="0.71"/>
<circle cx="1437.7" cy="425.3" r="0.9" fill="#c060a0" opacity="0.96"/>
<circle cx="1791.6" cy="351.8" r="0.7" fill="#e8a040" opacity="0.80"/>
<circle cx="1782.3" cy="357.1" r="0.9" fill="#f0c070" opacity="0.54"/>
<circle cx="1781.2" cy="88.0" r="0.7" fill="#c060a0" opacity="0.71"/>
<circle cx="1730.1" cy="391.0" r="0.6" fill="#d08030" opacity="0.49"/>
<circle cx="1782.2" cy="92.6" r="0.9" fill="#e8a040" opacity="0.51"/>
<circle cx="1483.5" cy="190.6" r="1.1" fill="#ffd9a0" opacity="0.80"/>
<circle cx="1673.9" cy="378.8" r="0.7" fill="#ffd9a0" opacity="0.59"/>
<circle cx="1539.1" cy="245.4" r="0.7" fill="#fff0e0" opacity="0.89"/>
<circle cx="1626.2" cy="162.4" r="0.9" fill="#d08030" opacity="0.68"/>
<circle cx="1576.4" cy="374.4" r="0.8" fill="#ffd9a0" opacity="0.70"/>
<circle cx="1754.3" cy="235.3" r="1.2" fill="#ffffff" opacity="0.85"/>
<circle cx="1700.9" cy="216.7" r="1.0" fill="#e8a040" opacity="0.72"/>
<circle cx="1717.3" cy="132.4" r="1.1" fill="#a04090" opacity="0.47"/>
<circle cx="1715.5" cy="362.1" r="1.1" fill="#f0c070" opacity="0.48"/>
<circle cx="1563.8" cy="86.9" r="1.0" fill="#ffffff" opacity="0.71"/>
<circle cx="1470.0" cy="266.6" r="0.9" fill="#fff0e0" opacity="0.59"/>
<circle cx="1571.4" cy="468.2" r="1.2" fill="#ffffff" opacity="0.63"/>
<circle cx="1462.3" cy="429.4" r="1.1" fill="#c060a0" opacity="0.84"/>
<circle cx="1458.9" cy="246.1" r="0.9" fill="#d08030" opacity="0.90"/>
<circle cx="1467.0" cy="417.3" r="0.8" fill="#a04090" opacity="0.64"/>
<circle cx="1665.0" cy="279.9" r="0.8" fill="#ffe8d0" opacity="0.58"/>
<circle cx="1503.0" cy="257.3" r="0.7" fill="#ffffff" opacity="0.95"/>
<circle cx="1486.2" cy="301.1" r="0.8" fill="#f0c070" opacity="0.61"/>
<circle cx="1748.3" cy="237.0" r="1.0" fill="#ffd9a0" opacity="0.54"/>
<circle cx="1601.7" cy="366.1" r="1.0" fill="#ffe8d0" opacity="0.81"/>
<circle cx="1451.3" cy="108.3" r="0.6" fill="#ffd9a0" opacity="0.86"/>
<circle cx="1446.0" cy="237.2" r="1.0" fill="#a04090" opacity="0.47"/>
<circle cx="1642.8" cy="273.7" r="0.7" fill="#c060a0" opacity="0.78"/>
<circle cx="1540.9" cy="185.1" r="0.8" fill="#a04090" opacity="0.57"/>
<circle cx="1674.7" cy="222.5" r="0.9" fill="#a04090" opacity="0.72"/>
<circle cx="1727.3" cy="405.6" r="1.2" fill="#ffffff" opacity="0.88"/>
<circle cx="1425.1" cy="238.0" r="0.7" fill="#fff0e0" opacity="0.63"/>
<circle cx="1550.7" cy="105.3" r="0.7" fill="#a04090" opacity="0.93"/>
<circle cx="1727.6" cy="415.3" r="0.7" fill="#e8a040" opacity="0.87"/>
<circle cx="1442.1" cy="324.2" r="1.1" fill="#ffe8d0" opacity="0.99"/>
<circle cx="1423.8" cy="359.0" r="0.7" fill="#c060a0" opacity="0.74"/>
<circle cx="1463.8" cy="459.2" r="0.9" fill="#ffe8d0" opacity="0.51"/>
<circle cx="1772.4" cy="230.0" r="0.6" fill="#a04090" opacity="0.95"/>
<circle cx="1546.4" cy="223.9" r="1.0" fill="#ffffff" opacity="0.67"/>
<circle cx="1730.3" cy="412.4" r="1.0" fill="#ffffff" opacity="0.67"/>
<circle cx="1574.9" cy="113.7" r="0.7" fill="#ffe8d0" opacity="0.51"/>
<circle cx="1699.9" cy="437.3" r="0.9" fill="#ffe8d0" opacity="0.90"/>
<circle cx="1495.0" cy="298.9" r="0.8" fill="#a04090" opacity="0.69"/>
<circle cx="1566.1" cy="239.9" r="0.8" fill="#d08030" opacity="0.56"/>
<circle cx="1779.7" cy="83.5" r="0.7" fill="#e8a040" opacity="0.96"/>
<circle cx="1411.7" cy="253.9" r="0.9" fill="#ffffff" opacity="0.63"/>
<circle cx="1468.1" cy="141.8" r="0.9" fill="#f0c070" opacity="0.64"/>
<circle cx="1578.1" cy="225.9" r="0.6" fill="#a04090" opacity="0.50"/>
<circle cx="1586.6" cy="108.2" r="0.9" fill="#ffe8d0" opacity="0.49"/>
<circle cx="1464.5" cy="143.5" r="0.6" fill="#ffe8d0" opacity="0.84"/>
<circle cx="1553.7" cy="306.6" r="0.8" fill="#d08030" opacity="0.90"/>
<circle cx="1425.5" cy="497.3" r="1.1" fill="#ffffff" opacity="0.66"/>
<circle cx="1589.5" cy="337.5" r="0.9" fill="#ffd9a0" opacity="0.47"/>
<circle cx="1412.1" cy="323.2" r="0.6" fill="#a04090" opacity="0.80"/>
<circle cx="1425.3" cy="343.5" r="1.1" fill="#a04090" opacity="0.84"/>
<circle cx="1603.9" cy="262.3" r="0.7" fill="#a04090" opacity="0.50"/>
<circle cx="1751.1" cy="421.6" r="1.1" fill="#d08030" opacity="0.89"/>
<circle cx="1515.5" cy="472.8" r="0.8" fill="#c060a0" opacity="0.57"/>
<circle cx="1592.6" cy="339.7" r="1.0" fill="#ffe8d0" opacity="0.61"/>
<circle cx="1610.1" cy="266.6" r="0.7" fill="#a04090" opacity="0.46"/>
<circle cx="1731.6" cy="354.8" r="0.8" fill="#e8a040" opacity="0.58"/>
<circle cx="1491.9" cy="301.3" r="0.9" fill="#e8a040" opacity="0.74"/>
<circle cx="1521.2" cy="462.3" r="0.7" fill="#fff0e0" opacity="0.53"/>
<circle cx="1732.9" cy="385.4" r="1.0" fill="#c060a0" opacity="0.45"/>
<circle cx="1579.6" cy="398.1" r="0.8" fill="#fff0e0" opacity="0.98"/>
<circle cx="1611.5" cy="432.2" r="1.0" fill="#e8a040" opacity="0.63"/>
<circle cx="1769.0" cy="154.8" r="0.9" fill="#fff0e0" opacity="0.88"/>
<circle cx="1728.7" cy="361.9" r="1.0" fill="#ffe8d0" opacity="0.62"/>
<circle cx="1561.7" cy="177.9" r="0.8" fill="#fff0e0" opacity="0.60"/>
<circle cx="1448.9" cy="154.3" r="1.1" fill="#ffffff" opacity="0.87"/>
<circle cx="1626.5" cy="373.2" r="0.8" fill="#fff0e0" opacity="0.63"/>
<circle cx="1732.3" cy="358.5" r="1.0" fill="#d08030" opacity="0.98"/>
<circle cx="1754.8" cy="141.4" r="1.1" fill="#f0c070" opacity="0.99"/>
<circle cx="1459.1" cy="438.6" r="0.9" fill="#ffe8d0" opacity="0.45"/>
<circle cx="1768.8" cy="197.0" r="1.0" fill="#ffffff" opacity="0.49"/>
<circle cx="1682.3" cy="382.7" r="0.7" fill="#f0c070" opacity="0.67"/>
<circle cx="1408.4" cy="328.1" r="1.0" fill="#ffd9a0" opacity="0.65"/>
<circle cx="1444.9" cy="442.9" r="0.9" fill="#c060a0" opacity="0.66"/>
<circle cx="1768.0" cy="187.7" r="0.8" fill="#ffe8d0" opacity="0.55"/>
<circle cx="1410.1" cy="322.0" r="0.7" fill="#a04090" opacity="0.60"/>
<circle cx="1612.0" cy="341.0" r="0.9" fill="#ffe8d0" opacity="0.56"/>
<circle cx="1706.0" cy="257.6" r="1.2" fill="#ffffff" opacity="0.49"/>
<circle cx="1432.8" cy="239.3" r="0.9" fill="#fff0e0" opacity="0.51"/>
<circle cx="1779.2" cy="245.7" r="0.9" fill="#d08030" opacity="0.79"/>
<circle cx="1523.1" cy="110.6" r="1.2" fill="#ffffff" opacity="0.71"/>
<circle cx="1616.3" cy="79.9" r="0.8" fill="#f0c070" opacity="0.85"/>
<circle cx="1785.0" cy="173.8" r="0.6" fill="#a04090" opacity="0.56"/>
<circle cx="1414.7" cy="306.9" r="0.7" fill="#e8a040" opacity="0.85"/>
<circle cx="1592.9" cy="435.1" r="0.8" fill="#fff0e0" opacity="0.71"/>
<circle cx="1723.0" cy="433.2" r="1.0" fill="#f0c070" opacity="0.86"/>
<circle cx="1732.9" cy="210.3" r="1.0" fill="#c060a0" opacity="0.82"/>
<circle cx="1465.8" cy="469.1" r="0.6" fill="#c060a0" opacity="0.97"/>
<circle cx="1568.5" cy="375.7" r="0.7" fill="#ffd9a0" opacity="0.59"/>
<circle cx="1752.8" cy="260.6" r="0.9" fill="#ffd9a0" opacity="0.88"/>
<circle cx="1696.4" cy="256.1" r="1.0" fill="#ffd9a0" opacity="0.73"/>
<circle cx="1706.1" cy="264.9" r="0.9" fill="#e8a040" opacity="0.59"/>
<circle cx="1508.9" cy="301.3" r="0.7" fill="#a04090" opacity="0.80"/>
<circle cx="1711.6" cy="110.6" r="1.0" fill="#d08030" opacity="0.55"/>
<circle cx="1730.3" cy="397.7" r="1.0" fill="#fff0e0" opacity="0.68"/>
<circle cx="1601.9" cy="384.7" r="0.8" fill="#fff0e0" opacity="0.83"/>
<circle cx="1657.7" cy="110.8" r="0.6" fill="#e8a040" opacity="0.53"/>
<circle cx="1660.0" cy="201.2" r="0.6" fill="#d08030" opacity="0.77"/>
<circle cx="1579.3" cy="475.5" r="0.9" fill="#ffd9a0" opacity="0.86"/>
<circle cx="1747.7" cy="89.0" r="0.8" fill="#a04090" opacity="0.55"/>
<circle cx="1674.1" cy="468.6" r="0.9" fill="#fff0e0" opacity="0.83"/>
<circle cx="1404.3" cy="353.0" r="1.1" fill="#a04090" opacity="0.63"/>
<circle cx="1660.0" cy="165.9" r="0.8" fill="#ffe8d0" opacity="0.64"/>
<circle cx="1528.6" cy="176.8" r="0.9" fill="#e8a040" opacity="0.83"/>
<circle cx="1750.7" cy="150.4" r="0.6" fill="#f0c070" opacity="0.97"/>
<circle cx="1504.6" cy="328.2" r="0.6" fill="#e8a040" opacity="0.70"/>
<circle cx="1711.8" cy="101.0" r="1.1" fill="#ffe8d0" opacity="0.46"/>
<circle cx="1706.0" cy="211.5" r="1.1" fill="#c060a0" opacity="0.73"/>
<circle cx="1651.8" cy="125.6" r="1.0" fill="#c060a0" opacity="0.93"/>
<circle cx="1737.6" cy="368.9" r="0.6" fill="#ffe8d0" opacity="0.84"/>
<circle cx="1765.8" cy="353.0" r="0.7" fill="#c060a0" opacity="0.81"/>
<circle cx="1664.6" cy="119.4" r="1.2" fill="#e8a040" opacity="0.81"/>
<circle cx="1712.4" cy="175.2" r="1.0" fill="#e8a040" opacity="0.53"/>
<circle cx="1763.0" cy="115.1" r="0.7" fill="#a04090" opacity="0.85"/>
<circle cx="1694.6" cy="253.5" r="1.1" fill="#ffe8d0" opacity="0.83"/>
<circle cx="1445.0" cy="276.4" r="0.7" fill="#c060a0" opacity="0.99"/>
<circle cx="1641.1" cy="440.6" r="1.1" fill="#f0c070" opacity="0.61"/>
<circle cx="1736.6" cy="226.0" r="1.0" fill="#ffffff" opacity="0.58"/>
<circle cx="1506.3" cy="293.9" r="0.8" fill="#f0c070" opacity="0.52"/>
<circle cx="1545.2" cy="152.3" r="0.7" fill="#e8a040" opacity="0.76"/>
<circle cx="1690.1" cy="397.7" r="1.0" fill="#e8a040" opacity="0.82"/>
<circle cx="1788.8" cy="108.8" r="1.1" fill="#fff0e0" opacity="0.91"/>
<circle cx="1718.1" cy="362.7" r="1.1" fill="#e8a040" opacity="0.64"/>
<circle cx="1469.5" cy="200.8" r="0.9" fill="#ffe8d0" opacity="0.53"/>
<circle cx="1435.9" cy="237.1" r="0.9" fill="#f0c070" opacity="0.82"/>
<circle cx="1777.3" cy="261.6" r="1.1" fill="#ffe8d0" opacity="0.58"/>
<circle cx="1733.7" cy="172.5" r="0.8" fill="#ffe8d0" opacity="0.73"/>
<circle cx="1582.2" cy="397.3" r="0.8" fill="#e8a040" opacity="0.58"/>
<circle cx="1595.8" cy="180.2" r="1.2" fill="#f0c070" opacity="0.85"/>
<circle cx="1625.2" cy="205.5" r="0.8" fill="#ffffff" opacity="0.90"/>
<circle cx="1461.0" cy="201.6" r="1.1" fill="#f0c070" opacity="0.53"/>
<circle cx="1454.0" cy="224.6" r="1.1" fill="#fff0e0" opacity="0.53"/>
<circle cx="1763.2" cy="227.2" r="1.1" fill="#f0c070" opacity="0.71"/>
<circle cx="1568.7" cy="121.3" r="0.9" fill="#d08030" opacity="0.98"/>
<circle cx="1553.1" cy="135.6" r="0.8" fill="#a04090" opacity="0.76"/>
<circle cx="1513.0" cy="180.8" r="1.1" fill="#d08030" opacity="0.83"/>
<circle cx="1700.5" cy="260.9" r="0.9" fill="#ffffff" opacity="0.98"/>
<circle cx="1761.8" cy="224.3" r="1.0" fill="#ffffff" opacity="0.85"/>
<circle cx="1466.5" cy="364.1" r="0.6" fill="#ffe8d0" opacity="0.80"/>
<circle cx="1684.3" cy="204.9" r="1.1" fill="#a04090" opacity="0.84"/>
<circle cx="1554.0" cy="270.4" r="1.2" fill="#fff0e0" opacity="0.71"/>
<circle cx="1505.7" cy="380.7" r="1.2" fill="#ffffff" opacity="0.67"/>
<circle cx="1546.1" cy="213.2" r="1.2" fill="#ffd9a0" opacity="0.92"/>
<circle cx="1655.2" cy="139.5" r="0.7" fill="#a04090" opacity="0.54"/>
<circle cx="1709.4" cy="136.7" r="1.0" fill="#f0c070" opacity="0.99"/>
<circle cx="1655.7" cy="103.3" r="0.8" fill="#d08030" opacity="0.70"/>
<circle cx="1450.1" cy="105.1" r="0.8" fill="#d08030" opacity="0.87"/>
<circle cx="1654.1" cy="109.7" r="1.0" fill="#fff0e0" opacity="0.49"/>
<circle cx="1437.4" cy="236.1" r="0.7" fill="#fff0e0" opacity="0.64"/>
<circle cx="1787.7" cy="372.0" r="1.1" fill="#c060a0" opacity="0.52"/>
<circle cx="1754.6" cy="103.9" r="0.8" fill="#f0c070" opacity="0.57"/>
<circle cx="1731.9" cy="365.3" r="1.0" fill="#ffd9a0" opacity="0.47"/>
<circle cx="1601.3" cy="331.2" r="0.7" fill="#ffffff" opacity="0.56"/>
<circle cx="1682.6" cy="266.7" r="1.2" fill="#e8a040" opacity="0.90"/>
<circle cx="1755.9" cy="341.6" r="0.6" fill="#ffffff" opacity="0.59"/>
<circle cx="1790.7" cy="384.0" r="1.0" fill="#fff0e0" opacity="0.85"/>
<circle cx="1624.9" cy="268.0" r="0.6" fill="#c060a0" opacity="0.63"/>
<circle cx="1610.2" cy="374.5" r="0.9" fill="#e8a040" opacity="0.82"/>
<circle cx="1466.2" cy="394.4" r="0.7" fill="#ffffff" opacity="0.66"/>
<circle cx="1562.0" cy="209.0" r="0.7" fill="#d08030" opacity="0.96"/>
<circle cx="1477.9" cy="447.0" r="0.6" fill="#ffffff" opacity="0.72"/>
<circle cx="1505.3" cy="467.5" r="0.8" fill="#f0c070" opacity="0.87"/>
<circle cx="1761.9" cy="248.4" r="1.0" fill="#ffffff" opacity="0.53"/>
<circle cx="1607.8" cy="252.5" r="0.7" fill="#c060a0" opacity="0.66"/>
<circle cx="1549.5" cy="97.8" r="0.7" fill="#fff0e0" opacity="0.87"/>
<circle cx="1782.4" cy="331.5" r="1.1" fill="#f0c070" opacity="0.82"/>
<circle cx="1504.0" cy="403.6" r="0.8" fill="#d08030" opacity="0.84"/>
<circle cx="1768.6" cy="228.9" r="0.7" fill="#ffd9a0" opacity="0.90"/>
<circle cx="1724.1" cy="366.8" r="0.7" fill="#ffffff" opacity="0.49"/>
<circle cx="1674.5" cy="292.4" r="0.9" fill="#ffe8d0" opacity="0.73"/>
<circle cx="1579.5" cy="352.8" r="1.0" fill="#ffffff" opacity="0.74"/>
<circle cx="1715.0" cy="139.6" r="0.7" fill="#f0c070" opacity="0.75"/>
<circle cx="1716.6" cy="407.6" r="0.7" fill="#ffd9a0" opacity="0.82"/>
<circle cx="1470.8" cy="327.8" r="0.6" fill="#ffffff" opacity="0.83"/>
<circle cx="1632.7" cy="294.9" r="1.2" fill="#ffe8d0" opacity="0.60"/>
<circle cx="1645.6" cy="112.1" r="0.7" fill="#ffe8d0" opacity="0.74"/>
<circle cx="1664.1" cy="247.1" r="0.8" fill="#fff0e0" opacity="0.62"/>
<circle cx="1608.2" cy="429.5" r="0.7" fill="#a04090" opacity="0.91"/>
<circle cx="1579.5" cy="384.0" r="0.7" fill="#ffffff" opacity="0.98"/>
<circle cx="1566.8" cy="342.8" r="0.9" fill="#a04090" opacity="0.67"/>
<circle cx="1436.9" cy="251.7" r="1.0" fill="#fff0e0" opacity="0.92"/>
<circle cx="1541.9" cy="126.7" r="1.0" fill="#c060a0" opacity="0.88"/>
<circle cx="1760.8" cy="210.9" r="0.8" fill="#ffe8d0" opacity="0.81"/>
<circle cx="1620.0" cy="118.1" r="0.8" fill="#ffd9a0" opacity="0.96"/>
<circle cx="1419.0" cy="357.0" r="0.8" fill="#ffe8d0" opacity="0.52"/>
<circle cx="1660.2" cy="327.2" r="0.8" fill="#e8a040" opacity="0.47"/>
<circle cx="1413.9" cy="123.4" r="1.0" fill="#f0c070" opacity="0.53"/>
<circle cx="1452.7" cy="210.4" r="1.2" fill="#ffe8d0" opacity="0.92"/>
<circle cx="1538.2" cy="346.1" r="0.8" fill="#e8a040" opacity="0.66"/>
<circle cx="1609.1" cy="355.0" r="0.6" fill="#f0c070" opacity="0.73"/>
<circle cx="1678.1" cy="288.5" r="0.7" fill="#d08030" opacity="0.60"/>
<circle cx="1462.9" cy="195.5" r="1.0" fill="#fff0e0" opacity="0.75"/>
<circle cx="1694.9" cy="387.9" r="0.7" fill="#ffffff" opacity="0.84"/>
<circle cx="1445.5" cy="206.7" r="1.0" fill="#ffffff" opacity="0.50"/>
<circle cx="1725.7" cy="216.0" r="0.7" fill="#fff0e0" opacity="0.90"/>
<circle cx="1598.2" cy="281.6" r="0.8" fill="#ffe8d0" opacity="0.54"/>
<circle cx="1511.6" cy="199.5" r="1.2" fill="#d08030" opacity="0.87"/>
<circle cx="1407.6" cy="464.4" r="0.7" fill="#ffd9a0" opacity="0.52"/>
<circle cx="1601.3" cy="387.0" r="0.8" fill="#d08030" opacity="0.64"/>
<circle cx="1756.8" cy="238.9" r="0.6" fill="#ffe8d0" opacity="0.76"/>
<circle cx="1489.9" cy="334.0" r="0.7" fill="#ffffff" opacity="0.95"/>
<circle cx="1747.1" cy="106.4" r="1.2" fill="#ffd9a0" opacity="0.77"/>
<circle cx="1405.8" cy="252.0" r="0.7" fill="#ffffff" opacity="0.96"/>
<circle cx="1746.5" cy="412.8" r="1.1" fill="#a04090" opacity="0.81"/>
<circle cx="1645.3" cy="120.5" r="0.9" fill="#d08030" opacity="0.85"/>
<circle cx="1783.5" cy="118.8" r="0.9" fill="#fff0e0" opacity="0.78"/>
<circle cx="1645.2" cy="154.6" r="1.1" fill="#c060a0" opacity="0.70"/>
<circle cx="1595.1" cy="389.1" r="1.0" fill="#ffe8d0" opacity="1.00"/>
<circle cx="1659.3" cy="299.1" r="0.6" fill="#ffe8d0" opacity="0.69"/>
<circle cx="1549.1" cy="249.5" r="0.9" fill="#d08030" opacity="0.89"/>
<circle cx="1732.2" cy="411.3" r="0.7" fill="#ffffff" opacity="0.84"/>
<circle cx="1592.3" cy="373.3" r="0.9" fill="#ffffff" opacity="0.56"/>
<circle cx="1707.7" cy="289.7" r="0.8" fill="#f0c070" opacity="0.85"/>
<circle cx="1759.8" cy="243.0" r="0.7" fill="#c060a0" opacity="0.99"/>
<circle cx="1430.4" cy="245.5" r="0.6" fill="#e8a040" opacity="0.55"/>
<circle cx="1601.2" cy="207.0" r="1.1" fill="#a04090" opacity="0.61"/>
<circle cx="1477.6" cy="129.9" r="0.6" fill="#ffffff" opacity="0.65"/>
</g>
<g filter="url(#blobs)" fill="#fff">
<ellipse cx="1454.1" cy="96.9" rx="2.3" ry="2.1"/>
<ellipse cx="1462.2" cy="98.9" rx="2.3" ry="2.1"/>
<ellipse cx="1448.6" cy="104.3" rx="2.1" ry="2.1"/>
<ellipse cx="1459.5" cy="116.5" rx="3.4" ry="2.3"/>
<ellipse cx="1450.7" cy="117.2" rx="1.7" ry="1.7"/>
<ellipse cx="1501.4" cy="90.8" rx="5.2" ry="1.7"/>
<ellipse cx="1564.9" cy="134.1" rx="4.6" ry="2.3"/>
<ellipse cx="1474.3" cy="135.4" rx="1.7" ry="1.7"/>
<ellipse cx="1454.1" cy="156.4" rx="1.7" ry="2.1"/>
<ellipse cx="1419.6" cy="154.3" rx="1.7" ry="1.7"/>
<ellipse cx="1408.8" cy="165.8" rx="1.4" ry="1.4"/>
<ellipse cx="1590.5" cy="171.2" rx="3.7" ry="2.5"/>
<ellipse cx="1571.6" cy="185.4" rx="1.7" ry="3.4"/>
<ellipse cx="1581.1" cy="192.2" rx="2.1" ry="1.7"/>
<ellipse cx="1427.0" cy="204.3" rx="2.3" ry="1.7"/>
<ellipse cx="1431.1" cy="189.5" rx="1.4" ry="1.4"/>
<ellipse cx="1433.1" cy="260.4" rx="1.4" ry="1.7"/>
<ellipse cx="1689.9" cy="102.3" rx="4.0" ry="2.5"/>
<ellipse cx="1767.6" cy="119.2" rx="1.7" ry="2.3"/>
<ellipse cx="1720.3" cy="169.2" rx="3.4" ry="2.3"/>
<ellipse cx="1791.9" cy="242.2" rx="2.3" ry="3.4"/>
<ellipse cx="1752.0" cy="207.0" rx="2.1" ry="2.1"/>
<ellipse cx="1616.9" cy="216.5" rx="1.7" ry="1.7"/>
<ellipse cx="1660.8" cy="240.1" rx="2.3" ry="2.3"/>
<ellipse cx="1686.5" cy="203.0" rx="1.1" ry="1.1"/>
<ellipse cx="1675.7" cy="276.6" rx="12.6" ry="2.3"/>
<ellipse cx="1639.2" cy="275.3" rx="4.6" ry="1.7"/>
<ellipse cx="1467.6" cy="323.2" rx="2.3" ry="2.3"/>
<ellipse cx="1541.2" cy="297.6" rx="1.7" ry="1.7"/>
<ellipse cx="1592.6" cy="286.1" rx="1.7" ry="1.7"/>
<ellipse cx="1431.1" cy="326.6" rx="4.6" ry="2.5"/>
<ellipse cx="1416.2" cy="338.1" rx="1.7" ry="1.7"/>
<ellipse cx="1523.6" cy="353.0" rx="2.5" ry="2.3"/>
<ellipse cx="1577.0" cy="413.8" rx="2.3" ry="2.3"/>
<ellipse cx="1545.9" cy="385.4" rx="2.1" ry="2.3"/>
<ellipse cx="1420.3" cy="396.2" rx="1.7" ry="4.6"/>
<ellipse cx="1422.3" cy="409.1" rx="2.1" ry="2.1"/>
<ellipse cx="1458.1" cy="369.9" rx="1.4" ry="1.4"/>
<ellipse cx="1490.5" cy="372.6" rx="1.1" ry="1.1"/>
<ellipse cx="1715.5" cy="288.1" rx="3.2" ry="2.5"/>
<ellipse cx="1754.1" cy="344.2" rx="2.3" ry="2.3"/>
<ellipse cx="1690.5" cy="407.0" rx="2.3" ry="2.3"/>
<ellipse cx="1691.9" cy="417.8" rx="2.1" ry="2.1"/>
<ellipse cx="1650.0" cy="439.5" rx="2.9" ry="2.3"/>
<ellipse cx="1671.6" cy="369.9" rx="2.3" ry="2.1"/>
<ellipse cx="1782.4" cy="465.1" rx="4.6" ry="2.3" transform="rotate(30 1782.4 465.1)"/>
<ellipse cx="1739.2" cy="424.6" rx="1.7" ry="1.7"/>
<ellipse cx="1698.6" cy="434.1" rx="1.4" ry="1.4"/>
<ellipse cx="1695.3" cy="443.5" rx="1.4" ry="1.4"/>
<ellipse cx="1610.8" cy="432.7" rx="1.4" ry="1.4"/>
<ellipse cx="1629.1" cy="459.1" rx="1.4" ry="1.4"/>
<ellipse cx="1771.6" cy="451.6" rx="1.4" ry="2.1"/>
<ellipse cx="1787.2" cy="446.9" rx="1.4" ry="1.4"/>
<ellipse cx="1674.3" cy="328.6" rx="1.4" ry="1.4"/>
<ellipse cx="1648.0" cy="349.6" rx="1.7" ry="1.7"/>
<ellipse cx="1635.1" cy="332.7" rx="1.4" ry="1.4"/>
<ellipse cx="1631.1" cy="350.9" rx="1.4" ry="1.4"/>
<ellipse cx="1613.5" cy="319.2" rx="1.4" ry="1.4"/>
<ellipse cx="1660.8" cy="315.1" rx="1.4" ry="1.4"/>
</g>
<g filter="url(#blobm_c)" fill="#fff">
<ellipse cx="1414.9" cy="113.8" rx="8.5" ry="5.1" transform="rotate(25 1414.9 113.8)"/>
<ellipse cx="1459.5" cy="107.0" rx="5.8" ry="3.8"/>
<ellipse cx="1555.4" cy="97.6" rx="8.5" ry="4.5"/>
<ellipse cx="1581.1" cy="101.6" rx="5.8" ry="5.1"/>
<ellipse cx="1529.7" cy="119.2" rx="9.9" ry="3.8" transform="rotate(-35 1529.7 119.2)"/>
<ellipse cx="1543.9" cy="139.5" rx="5.1" ry="7.8"/>
<ellipse cx="1458.1" cy="148.9" rx="5.8" ry="4.5"/>
<ellipse cx="1525.7" cy="234.1" rx="4.5" ry="5.8"/>
<ellipse cx="1495.3" cy="219.2" rx="4.5" ry="3.8"/>
<ellipse cx="1454.1" cy="201.6" rx="4.5" ry="4.5"/>
<ellipse cx="1420.3" cy="250.3" rx="4.5" ry="5.1"/>
<ellipse cx="1445.9" cy="246.2" rx="3.8" ry="11.2"/>
<ellipse cx="1433.8" cy="244.9" rx="4.5" ry="4.5"/>
<ellipse cx="1445.9" cy="257.0" rx="4.5" ry="3.8"/>
<ellipse cx="1597.3" cy="269.2" rx="3.8" ry="7.2"/>
<ellipse cx="1605.4" cy="98.9" rx="4.5" ry="11.2"/>
<ellipse cx="1716.2" cy="105.7" rx="4.7" ry="3.8"/>
<ellipse cx="1663.5" cy="107.0" rx="3.8" ry="4.5"/>
<ellipse cx="1666.2" cy="119.2" rx="7.2" ry="3.8"/>
<ellipse cx="1663.5" cy="157.0" rx="7.2" ry="4.5"/>
<ellipse cx="1752.7" cy="96.2" rx="5.1" ry="7.2"/>
<ellipse cx="1759.5" cy="146.2" rx="3.8" ry="3.8"/>
<ellipse cx="1754.1" cy="155.0" rx="5.1" ry="3.8"/>
<ellipse cx="1718.9" cy="186.8" rx="4.5" ry="4.2"/>
<ellipse cx="1762.2" cy="220.5" rx="5.8" ry="5.1"/>
<ellipse cx="1760.8" cy="234.1" rx="4.5" ry="4.5"/>
<ellipse cx="1770.3" cy="235.4" rx="3.8" ry="5.8"/>
<ellipse cx="1679.7" cy="213.8" rx="4.5" ry="5.8" transform="rotate(-30 1679.7 213.8)"/>
<ellipse cx="1697.3" cy="216.5" rx="3.8" ry="4.5"/>
<ellipse cx="1694.6" cy="255.7" rx="4.5" ry="4.5"/>
<ellipse cx="1614.9" cy="258.4" rx="5.8" ry="4.5"/>
<ellipse cx="1481.1" cy="325.9" rx="5.8" ry="3.8"/>
<ellipse cx="1558.8" cy="296.9" rx="6.1" ry="4.5"/>
<ellipse cx="1412.2" cy="313.1" rx="5.1" ry="4.5"/>
<ellipse cx="1418.2" cy="331.4" rx="5.8" ry="3.8"/>
<ellipse cx="1412.2" cy="351.6" rx="4.5" ry="5.8"/>
<ellipse cx="1575.7" cy="336.8" rx="5.8" ry="4.5"/>
<ellipse cx="1586.5" cy="392.2" rx="4.5" ry="7.2"/>
<ellipse cx="1512.8" cy="392.2" rx="5.8" ry="3.8"/>
<ellipse cx="1481.1" cy="397.6" rx="5.8" ry="4.5"/>
<ellipse cx="1450.0" cy="467.2" rx="22.0" ry="5.1"/>
<ellipse cx="1516.2" cy="468.5" rx="5.8" ry="3.8"/>
<ellipse cx="1585.1" cy="467.8" rx="5.8" ry="3.8"/>
<ellipse cx="1660.8" cy="286.8" rx="4.5" ry="5.8"/>
<ellipse cx="1633.8" cy="302.3" rx="5.8" ry="4.5"/>
<ellipse cx="1604.1" cy="344.9" rx="4.5" ry="7.2"/>
<ellipse cx="1604.1" cy="361.1" rx="3.8" ry="4.5"/>
<ellipse cx="1602.0" cy="374.6" rx="4.5" ry="4.5"/>
<ellipse cx="1787.8" cy="362.4" rx="4.5" ry="4.5"/>
<ellipse cx="1706.8" cy="357.0" rx="5.8" ry="4.5"/>
<ellipse cx="1725.7" cy="357.0" rx="3.8" ry="4.5"/>
<ellipse cx="1683.8" cy="394.9" rx="8.5" ry="5.1"/>
<ellipse cx="1708.1" cy="405.7" rx="4.5" ry="7.2"/>
<ellipse cx="1724.3" cy="409.7" rx="5.8" ry="4.5"/>
<ellipse cx="1735.1" cy="405.7" rx="4.5" ry="3.8"/>
</g>
<g filter="url(#blobl_c)" fill="#fff">
<ellipse cx="1535.1" cy="100.3" rx="13.0" ry="7.6"/>
<ellipse cx="1568.9" cy="107.0" rx="14.3" ry="8.9" transform="rotate(-20 1568.9 107.0)"/>
<ellipse cx="1558.1" cy="123.2" rx="10.3" ry="7.6"/>
<ellipse cx="1523.0" cy="177.3" rx="7.6" ry="8.2"/>
<ellipse cx="1525.7" cy="190.8" rx="10.3" ry="7.6"/>
<ellipse cx="1536.5" cy="201.6" rx="11.6" ry="11.6"/>
<ellipse cx="1559.5" cy="197.6" rx="8.9" ry="14.3"/>
<ellipse cx="1529.7" cy="212.4" rx="10.3" ry="6.2"/>
<ellipse cx="1548.6" cy="209.7" rx="18.4" ry="7.6"/>
<ellipse cx="1543.2" cy="227.3" rx="14.3" ry="13.0" transform="rotate(20 1543.2 227.3)"/>
<ellipse cx="1581.1" cy="212.4" rx="7.6" ry="11.6"/>
<ellipse cx="1428.4" cy="217.8" rx="11.6" ry="8.2"/>
<ellipse cx="1456.8" cy="221.9" rx="13.0" ry="8.2"/>
<ellipse cx="1414.9" cy="232.7" rx="8.9" ry="10.3" transform="rotate(-20 1414.9 232.7)"/>
<ellipse cx="1435.1" cy="232.7" rx="7.6" ry="8.9"/>
<ellipse cx="1647.3" cy="108.4" rx="10.3" ry="11.6"/>
<ellipse cx="1629.7" cy="138.1" rx="14.3" ry="10.3"/>
<ellipse cx="1650.0" cy="134.1" rx="15.7" ry="17.0"/>
<ellipse cx="1636.5" cy="153.0" rx="11.6" ry="8.9"/>
<ellipse cx="1664.9" cy="142.2" rx="6.2" ry="7.6"/>
<ellipse cx="1770.3" cy="105.7" rx="10.3" ry="11.6"/>
<ellipse cx="1786.5" cy="94.9" rx="6.9" ry="7.6"/>
<ellipse cx="1718.9" cy="150.3" rx="10.9" ry="10.3"/>
<ellipse cx="1724.3" cy="162.4" rx="8.9" ry="7.6"/>
<ellipse cx="1781.1" cy="196.2" rx="7.6" ry="6.2"/>
<ellipse cx="1785.1" cy="217.8" rx="14.3" ry="17.0"/>
<ellipse cx="1691.9" cy="228.6" rx="10.3" ry="11.6"/>
<ellipse cx="1686.5" cy="246.2" rx="15.7" ry="13.0"/>
<ellipse cx="1656.8" cy="255.7" rx="15.7" ry="11.6"/>
<ellipse cx="1675.7" cy="261.1" rx="11.6" ry="7.6"/>
<ellipse cx="1475.7" cy="312.4" rx="11.6" ry="8.2"/>
<ellipse cx="1506.8" cy="312.4" rx="11.6" ry="6.2"/>
<ellipse cx="1555.4" cy="354.3" rx="13.0" ry="11.6" transform="rotate(30 1555.4 354.3)"/>
<ellipse cx="1586.5" cy="347.6" rx="11.6" ry="13.0"/>
<ellipse cx="1575.7" cy="369.2" rx="14.3" ry="7.6"/>
<ellipse cx="1560.8" cy="377.3" rx="8.9" ry="7.6"/>
<ellipse cx="1591.9" cy="377.3" rx="8.9" ry="8.9"/>
<ellipse cx="1587.8" cy="404.3" rx="11.6" ry="6.2"/>
<ellipse cx="1486.5" cy="407.0" rx="7.6" ry="6.2"/>
<ellipse cx="1454.1" cy="423.2" rx="15.7" ry="8.9" transform="rotate(20 1454.1 423.2)"/>
<ellipse cx="1474.3" cy="421.9" rx="14.3" ry="10.3"/>
<ellipse cx="1467.6" cy="432.7" rx="13.0" ry="6.2"/>
<ellipse cx="1506.8" cy="448.9" rx="22.4" ry="10.3" transform="rotate(-10 1506.8 448.9)"/>
<ellipse cx="1512.2" cy="459.7" rx="6.2" ry="6.2"/>
<ellipse cx="1671.6" cy="293.5" rx="13.0" ry="14.3"/>
<ellipse cx="1690.5" cy="288.1" rx="6.2" ry="8.9"/>
<ellipse cx="1770.3" cy="339.5" rx="8.9" ry="7.6"/>
<ellipse cx="1773.0" cy="357.0" rx="14.3" ry="10.3" transform="rotate(30 1773.0 357.0)"/>
<ellipse cx="1778.4" cy="374.6" rx="8.9" ry="7.6" transform="rotate(40 1778.4 374.6)"/>
<ellipse cx="1712.2" cy="366.5" rx="8.9" ry="7.6"/>
<ellipse cx="1704.1" cy="381.4" rx="10.3" ry="11.6"/>
<ellipse cx="1714.9" cy="394.9" rx="11.6" ry="7.6"/>
<ellipse cx="1640.5" cy="409.7" rx="14.3" ry="13.0"/>
<ellipse cx="1624.3" cy="415.1" rx="10.3" ry="7.6"/>
<ellipse cx="1659.5" cy="394.9" rx="7.6" ry="6.2"/>
<ellipse cx="1639.2" cy="428.6" rx="7.6" ry="8.9"/>
<ellipse cx="1720.3" cy="457.7" rx="9.6" ry="6.5"/>
</g>
</g>
<g clip-path="url(#clip_sa)">
<rect x="53" y="993.5" width="552.5" height="467.0" fill="#8b8b8b"/>
<rect x="53" y="993.5" width="552.5" height="467.0" filter="url(#mottle)" opacity="0.08"/>
<path d="M208.9,998.5 L259.6,998.5 L251.1,1052.6 L200.5,1049.2Z" fill="#a6a6a6" filter="url(#sb6)" opacity="1" stroke="#a6a6a6" stroke-width="3" stroke-linejoin="round"/>
<path d="M310.3,995.1 L340.0,995.1 L340.0,1035.7 L301.8,1040.7 L276.5,1055.9Z" fill="#c4c4c4" filter="url(#sb4)" opacity="1" stroke="#c4c4c4" stroke-width="3" stroke-linejoin="round"/>
<path d="M225.8,1083.0 L259.6,1086.4 L259.6,1099.9 L229.2,1094.8Z" fill="#bcbcbc" filter="url(#sb4)" opacity="1" stroke="#bcbcbc" stroke-width="3" stroke-linejoin="round"/>
<path d="M573.5,1152.1 L585.6,1192.6 L607.9,1223.0 L607.9,1162.2Z" fill="#b4b4b4" filter="url(#sb4)" opacity="1" stroke="#b4b4b4" stroke-width="3" stroke-linejoin="round"/>
<path d="M577.5,1139.9 L607.9,1103.5 L607.9,1164.3 L591.7,1156.2Z" fill="#f0f0f0" filter="url(#sb3)" opacity="1" stroke="#f0f0f0" stroke-width="3" stroke-linejoin="round"/>
<path d="M597.8,1030.5 L607.9,1026.5 L607.9,1060.9 L599.8,1050.8Z" fill="#f0f0f0" filter="url(#sb3)" opacity="1" stroke="#f0f0f0" stroke-width="3" stroke-linejoin="round"/>
<path d="M589.7,1050.8 L607.9,1067.0 L607.9,1103.5 L591.7,1081.2Z" fill="#6e6e6e" filter="url(#sb4)" opacity="1" stroke="#6e6e6e" stroke-width="3" stroke-linejoin="round"/>
<path d="M53.6,1419.0 L107.7,1419.0 L107.7,1460.2 L53.6,1460.2Z" fill="#9a9a9a" filter="url(#sb10)" opacity="0.6" stroke="#9a9a9a" stroke-width="3" stroke-linejoin="round"/>
<path d="M193.7,1054.3 L208.9,1055.9 L230.9,1059.3 L227.5,1079.6 L208.9,1074.5 L195.4,1064.4Z" fill="#3c3c3c" filter="url(#sb2)" opacity="1" stroke="#3c3c3c" stroke-width="3" stroke-linejoin="round"/>
<path d="M285,1072.8 L296.8,1052.6 L303.5,1040.7 L327,1035.7 L387.6,1035.7 L387.6,1049.2 L377.4,1083 L357.2,1076.2 L336.9,1067.8 L327,1071 L307,1076 L293.4,1089.7 L283,1084.7Z" fill="#3a3a3a" filter="url(#sb2)"/>
<path d="M266.4,994.2 L310.3,994.2 L300.2,1007.0 L273.2,1003.6Z" fill="#404040" filter="url(#sb2)" opacity="1" stroke="#404040" stroke-width="3" stroke-linejoin="round"/>
<path d="M504.6,995.1 L555.2,995.1 L553.2,1006.2 L510.7,1008.2Z" fill="#444444" filter="url(#sb3)" opacity="1" stroke="#444444" stroke-width="3" stroke-linejoin="round"/>
<path d="M573.5,998.1 L597.8,1006.2 L599.8,1026.5 L589.7,1020.4 L573.5,1010.3Z" fill="#444444" filter="url(#sb3)" opacity="1" stroke="#444444" stroke-width="3" stroke-linejoin="round"/>
<path d="M597.8,1164.3 L607.9,1162.2 L607.9,1192.6 L599.8,1182.5Z" fill="#303030" filter="url(#sb2)" opacity="1" stroke="#303030" stroke-width="3" stroke-linejoin="round"/>
<ellipse cx="543.1" cy="1087.3" rx="5.7" ry="5.7" fill="#626262" filter="url(#sb3)" opacity="1"/>
<path d="M107.7,1425.8 L124.6,1429.2 L127.9,1452.8 L121.2,1460.2 L97.5,1460.2Z" fill="#404040" filter="url(#sb2)" opacity="1" stroke="#404040" stroke-width="3" stroke-linejoin="round"/>
<path d="M239.4,1435.9 L266.4,1435.9 L290.0,1460.2 L236.0,1460.2Z" fill="#404040" filter="url(#sb2)" opacity="1" stroke="#404040" stroke-width="3" stroke-linejoin="round"/>
<path d="M290.0,1093.1 L310.3,1120.1 L318.7,1145.5 L320.4,1170.8 L317.0,1187.7 L293.4,1209.7 L259.6,1196.1 L239.3,1175.9 L229.2,1153.9 L242.7,1133.6 L264.7,1110.0Z" fill="#d6d6d6" filter="url(#sb3)" opacity="1" stroke="#d6d6d6" stroke-width="3" stroke-linejoin="round"/>
<path d="M290.0,1099.9 L306.9,1123.5 L315.3,1147.2 L315.3,1174.2 L300.1,1191.1 L273.1,1191.1 L252.8,1174.2 L247.8,1153.9 L259.6,1130.3Z" fill="#ffffff" filter="url(#sb4)" opacity="1" stroke="#ffffff" stroke-width="3" stroke-linejoin="round"/>
<rect x="53" y="993.5" width="552.5" height="467.0" filter="url(#grain)" opacity="0.11"/>
<path d="M290.0,1106.6 L305.2,1126.9 L312.0,1147.2 L312.0,1170.8 L298.4,1186.0 L276.5,1186.0 L257.9,1172.5 L252.8,1153.9 L263.0,1133.6Z" fill="#ffffff" filter="url(#sb4)" opacity="0.85" stroke="#ffffff" stroke-width="3" stroke-linejoin="round"/>
</g>
<g clip-path="url(#clip_sb)">
<rect x="736" y="998" width="552.5" height="468" fill="#949494"/>
<rect x="736" y="998" width="552.5" height="468" filter="url(#mottle)" opacity="0.08"/>
<path d="M1184.4,1289.1 L1290.8,1284.4 L1290.8,1407.3 L1212.8,1407.3 L1184.4,1348.2Z" fill="#a2a2a2" filter="url(#sb10)" opacity="0.8" stroke="#a2a2a2" stroke-width="3" stroke-linejoin="round"/>
<path d="M1212.8,1308.0 L1236.4,1304.5 L1264.8,1305.7 L1279.0,1317.5 L1289.6,1334.0 L1289.6,1374.2 L1271.9,1386.1 L1255.3,1395.5 L1248.2,1383.7 L1255.3,1367.1 L1279.0,1360.0 L1271.9,1345.9 L1245.9,1336.4 L1224.6,1338.8 L1212.8,1327.0Z" fill="#3c3c3c" filter="url(#sb2)" opacity="1" stroke="#3c3c3c" stroke-width="3" stroke-linejoin="round"/>
<path d="M1069.7,1144.9 L1070.9,1166.2 L1089.8,1182.7" fill="none" stroke="#3a3a3a" stroke-width="6.1" stroke-linecap="round" stroke-linejoin="round" filter="url(#sb2)" opacity="1"/>
<path d="M1080.4,1137.8 L1132.4,1135.5 L1148.9,1154.4 L1141.8,1180.4 L1127.7,1194.6 L1111.1,1187.5 L1099.3,1173.3 L1078.0,1161.5Z" fill="#d0d0d0" filter="url(#sb2)" opacity="1" stroke="#d0d0d0" stroke-width="3" stroke-linejoin="round"/>
<path d="M1106.4,1159.1 L1141.8,1154.4 L1139.5,1180.4 L1125.3,1192.2 L1111.1,1182.7Z" fill="#ffffff" filter="url(#sb3)" opacity="1" stroke="#ffffff" stroke-width="3" stroke-linejoin="round"/>
<path d="M1085.1,1140.2 L1130.0,1139.0 L1132.4,1147.3 L1089.8,1149.6Z" fill="#f4f4f4" filter="url(#sb3)" opacity="1" stroke="#f4f4f4" stroke-width="3" stroke-linejoin="round"/>
<rect x="736" y="998" width="552.5" height="468" filter="url(#grain)" opacity="0.11"/>
<path d="M1111.1,1163.8 L1139.5,1159.1 L1137.1,1178.0 L1125.3,1188.7 L1113.5,1180.4Z" fill="#ffffff" filter="url(#sb3)" opacity="0.8" stroke="#ffffff" stroke-width="3" stroke-linejoin="round"/>
</g>
<g clip-path="url(#clip_sc)">
<rect x="1377" y="1001" width="550" height="460" fill="#555555"/>
<rect x="1377" y="1001" width="550" height="460" filter="url(#mottle)" opacity="0.05"/>
<path d="M1663.8,1000.9 L1930.6,1000.9 L1930.6,1233.3 L1866.5,1256.9 L1765.2,1189.4 L1680.7,1155.6Z" fill="#787878" filter="url(#sb16)" opacity="1" stroke="#787878" stroke-width="3" stroke-linejoin="round"/>
<path d="M1890.1,1300.8 L1930.6,1300.8 L1930.6,1460.2 L1900.2,1460.2 L1869.8,1385.3Z" fill="#8a8a8a" filter="url(#sb16)" opacity="1" stroke="#8a8a8a" stroke-width="3" stroke-linejoin="round"/>
<path d="M1900.3,1111.6 L1927.1,1111.6 L1927.1,1162.3 L1916.5,1156.2Z" fill="#9a9a9a" filter="url(#sb6)" opacity="1" stroke="#9a9a9a" stroke-width="3" stroke-linejoin="round"/>
<path d="M1750.3,1002.2 L1784.8,1002.2 L1782.7,1022.4 L1758.4,1020.4Z" fill="#8e8e8e" filter="url(#sb6)" opacity="1" stroke="#8e8e8e" stroke-width="3" stroke-linejoin="round"/>
<path d="M1677.3,1121.8 L1713.8,1136.0 L1709.8,1144.1 L1679.4,1144.1Z" fill="#8a8a8a" filter="url(#sb6)" opacity="1" stroke="#8a8a8a" stroke-width="3" stroke-linejoin="round"/>
<path d="M1691.5,1000.1 L1734.1,1000.1 L1738.1,1040.7 L1738.1,1071.1 L1734.1,1101.5 L1726.0,1131.9 L1715.8,1136.0 L1695.6,1121.8 L1699.6,1103.5 L1711.8,1087.3 L1709.8,1067.0 L1703.7,1040.7 L1699.6,1020.4Z" fill="#363636" filter="url(#sb2)" opacity="1" stroke="#363636" stroke-width="3" stroke-linejoin="round"/>
<path d="M1770.6,1036.6 L1790.8,1024.5 L1807.1,1026.5 L1825.3,1056.9 L1845.6,1071.1 L1871.9,1081.2 L1896.3,1071.1 L1916.5,1067.0 L1928.7,1071.1 L1928.7,1111.6 L1916.5,1103.5 L1896.3,1111.6 L1876.0,1107.6 L1855.7,1095.4 L1835.4,1085.3 L1815.2,1071.1 L1794.9,1050.8 L1774.6,1050.8Z" fill="#363636" filter="url(#sb2)" opacity="1" stroke="#363636" stroke-width="3" stroke-linejoin="round"/>
<path d="M1835.4,1091.4 L1827.3,1119.7 L1831.4,1131.9 L1811.1,1140.0 L1811.1,1152.2 L1825.3,1160.3 L1845.6,1156.2 L1855.7,1144.1 L1853.7,1121.8 L1861.8,1099.5Z" fill="#363636" filter="url(#sb2)" opacity="1" stroke="#363636" stroke-width="3" stroke-linejoin="round"/>
<path d="M1884.1,1103.5 L1892.2,1152.2 L1888.2,1182.6 L1871.9,1204.9 L1871.9,1219.1 L1888.2,1229.2 L1902.3,1219.1 L1914.5,1182.6 L1916.5,1168.4 L1902.3,1152.2 L1902.3,1107.6Z" fill="#363636" filter="url(#sb2)" opacity="1" stroke="#363636" stroke-width="3" stroke-linejoin="round"/>
<ellipse cx="1721.9" cy="1211.0" rx="28.4" ry="38.5" fill="#949494" filter="url(#sb6)" opacity="1"/>
<ellipse cx="1721.9" cy="1204.9" rx="15.2" ry="16.2" fill="#f0f0f0" filter="url(#sb4)" opacity="1"/>
<rect x="1377" y="1001" width="550" height="460" filter="url(#grain)" opacity="0.09"/>
</g>
<g filter="url(#soft3)">
<ellipse cx="182.5" cy="139.8" rx="6" ry="2.2" fill="#9aa8ff"/>
<ellipse cx="204.5" cy="139.6" rx="5.5" ry="1.8" fill="#1018c8"/>
<g>
<line x1="96.5" y1="136.9" x2="496.2" y2="136.9" stroke="#ff8000" stroke-width="1.0"/>
<line x1="94.5" y1="134" x2="492.7" y2="134" stroke="#ffff00" stroke-width="5.8"/>
</g>
<text transform="translate(110.6,176.8) scale(0.94,1)" font-family='"Liberation Sans", Arial, Helvetica, sans-serif' font-weight="bold" font-size="42.5" fill="#ffff00">X<tspan font-size="27.5" dx="1.8" dy="4.0">1</tspan><tspan dx="-0.8" dy="-4.0">'</tspan></text>
<text transform="translate(418.1,177.5) scale(0.94,1)" font-family='"Liberation Sans", Arial, Helvetica, sans-serif' font-weight="bold" font-size="42.5" fill="#ffff00">X<tspan font-size="27.5" dx="0.2" dy="4.7">2</tspan><tspan dx="1.1" dy="-4.7">'</tspan></text>
<ellipse cx="920.3" cy="226.8" rx="5.5" ry="2.4" fill="#1018c8"/>
<ellipse cx="972.3" cy="227.0" rx="5" ry="2.6" fill="#7a78f0"/>
<g>
<line x1="755.7" y1="229.6" x2="1148.0" y2="229.6" stroke="#b01800" stroke-width="1.0"/>
<line x1="755.7" y1="233.0" x2="1140.5" y2="233.0" stroke="#ffff00" stroke-width="5.4"/>
</g>
<text transform="translate(758.3,207.3) scale(0.94,1)" font-family='"Liberation Sans", Arial, Helvetica, sans-serif' font-weight="bold" font-size="42.5" fill="#ffff00">X<tspan font-size="27.5" dx="1.7" dy="4.1">1</tspan><tspan dx="0.3" dy="-4.1">'</tspan></text>
<text transform="translate(1092.7,206.6) scale(0.94,1)" font-family='"Liberation Sans", Arial, Helvetica, sans-serif' font-weight="bold" font-size="42.5" fill="#ffff00">X<tspan font-size="27.5" dx="0.6" dy="4.8">2</tspan><tspan dx="1.1" dy="-4.8">'</tspan></text>
<ellipse cx="1550.7" cy="274.2" rx="5.5" ry="2.4" fill="#1018c8"/>
<ellipse cx="1605.0" cy="275.0" rx="5.5" ry="2.6" fill="#6a70f0"/>
<g>
<line x1="1406.8" y1="272.3" x2="1791.8" y2="272.3" stroke="#b01800" stroke-width="1.2"/>
<line x1="1406.8" y1="268.5" x2="1790.5" y2="268.5" stroke="#ffff00" stroke-width="6.4"/>
</g>
<text transform="translate(1419.1,318.1) scale(0.94,1)" font-family='"Liberation Sans", Arial, Helvetica, sans-serif' font-weight="bold" font-size="42.5" fill="#ffff00">X<tspan font-size="27.5" dx="0.9" dy="4.1">1</tspan><tspan dx="-0.8" dy="-4.1">'</tspan></text>
<text transform="translate(1731.9,318.1) scale(0.94,1)" font-family='"Liberation Sans", Arial, Helvetica, sans-serif' font-weight="bold" font-size="42.5" fill="#ffff00">X<tspan font-size="27.5" dx="0.6" dy="4.7">2</tspan><tspan dx="2.3" dy="-4.7">'</tspan></text>
<text x="59" y="1036" font-family='"Liberation Sans", Arial, Helvetica, sans-serif' font-weight="bold" font-size="41" letter-spacing="0.25" fill="#fff">Ge-NP-on-Au, 60 s</text>
<text x="472" y="1050" font-family='"Liberation Sans", Arial, Helvetica, sans-serif' font-weight="bold" font-size="56" fill="#fff">SEM</text>
<rect x="347" y="1432" width="245" height="12" fill="#fff"/>
<text x="472" y="1420" text-anchor="middle" font-family='"Liberation Serif", "DejaVu Serif", serif' font-size="54" fill="#fff" stroke="#fff" stroke-width="0.9">1 <tspan dx="-11.5">µm</tspan></text>
<text x="740" y="1041" font-family='"Liberation Sans", Arial, Helvetica, sans-serif' font-weight="bold" font-size="41" letter-spacing="0.25" fill="#fff">Ge-NP-on-Au, 30 s</text>
<text x="1155" y="1058" font-family='"Liberation Sans", Arial, Helvetica, sans-serif' font-weight="bold" font-size="56" fill="#fff">SEM</text>
<rect x="1021.5" y="1434.5" width="245.5" height="13.0" fill="#fff"/>
<text x="1140" y="1425" text-anchor="middle" font-family='"Liberation Serif", "DejaVu Serif", serif' font-size="54" fill="#fff" stroke="#fff" stroke-width="0.9">1 <tspan dx="-11.5">µm</tspan></text>
<text x="1383" y="1039" font-family='"Liberation Sans", Arial, Helvetica, sans-serif' font-weight="bold" font-size="41" letter-spacing="0.25" fill="#fff">Ge-NP-on-Au, 15 s</text>
<text x="1793" y="1057" font-family='"Liberation Sans", Arial, Helvetica, sans-serif' font-weight="bold" font-size="56" fill="#fff">SEM</text>
<rect x="1660" y="1431" width="243" height="12" fill="#fff"/>
<text x="1783" y="1421" text-anchor="middle" font-family='"Liberation Serif", "DejaVu Serif", serif' font-size="54" fill="#fff" stroke="#fff" stroke-width="0.9">1 <tspan dx="-11.5">µm</tspan></text>
</g>
</svg></body></html>
